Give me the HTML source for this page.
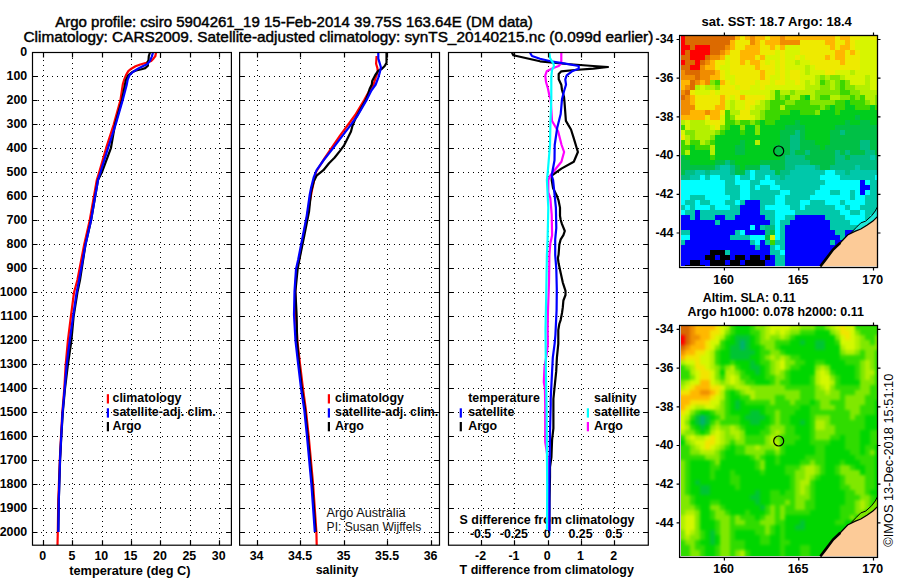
<!DOCTYPE html><html><head><meta charset="utf-8"><style>html,body{margin:0;padding:0;background:#fff;overflow:hidden;}svg{display:block;}text{font-family:'Liberation Sans', sans-serif;}</style></head><body>
<svg width="900" height="580" viewBox="0 0 900 580">
<rect width="900" height="580" fill="#fff"/>
<text x="55.2" y="26.8" font-size="15" text-anchor="start" font-weight="normal" fill="#000" stroke="#000" stroke-width="0.45" textLength="477.6" lengthAdjust="spacingAndGlyphs">Argo profile: csiro 5904261_19 15-Feb-2014 39.75S 163.64E (DM data)</text>
<text x="23.5" y="42.4" font-size="15" text-anchor="start" font-weight="normal" fill="#000" stroke="#000" stroke-width="0.45" textLength="629.8" lengthAdjust="spacingAndGlyphs">Climatology: CARS2009. Satellite-adjusted climatology: synTS_20140215.nc (0.099d earlier)</text>
<path d="M32 76.5H231.4" stroke="#000" stroke-width="1" stroke-dasharray="1 4" stroke-dashoffset="0" fill="none"/>
<path d="M32 100.5H231.4" stroke="#000" stroke-width="1" stroke-dasharray="1 4" stroke-dashoffset="4" fill="none"/>
<path d="M32 124.5H231.4" stroke="#000" stroke-width="1" stroke-dasharray="1 4" stroke-dashoffset="3" fill="none"/>
<path d="M32 148.5H231.4" stroke="#000" stroke-width="1" stroke-dasharray="1 4" stroke-dashoffset="2" fill="none"/>
<path d="M32 172.5H231.4" stroke="#000" stroke-width="1" stroke-dasharray="1 4" stroke-dashoffset="1" fill="none"/>
<path d="M32 196.5H231.4" stroke="#000" stroke-width="1" stroke-dasharray="1 4" stroke-dashoffset="0" fill="none"/>
<path d="M32 220.5H231.4" stroke="#000" stroke-width="1" stroke-dasharray="1 4" stroke-dashoffset="4" fill="none"/>
<path d="M32 244.5H231.4" stroke="#000" stroke-width="1" stroke-dasharray="1 4" stroke-dashoffset="3" fill="none"/>
<path d="M32 268.5H231.4" stroke="#000" stroke-width="1" stroke-dasharray="1 4" stroke-dashoffset="2" fill="none"/>
<path d="M32 292.5H231.4" stroke="#000" stroke-width="1" stroke-dasharray="1 4" stroke-dashoffset="1" fill="none"/>
<path d="M32 316.5H231.4" stroke="#000" stroke-width="1" stroke-dasharray="1 4" stroke-dashoffset="0" fill="none"/>
<path d="M32 340.5H231.4" stroke="#000" stroke-width="1" stroke-dasharray="1 4" stroke-dashoffset="4" fill="none"/>
<path d="M32 364.5H231.4" stroke="#000" stroke-width="1" stroke-dasharray="1 4" stroke-dashoffset="3" fill="none"/>
<path d="M32 388.5H231.4" stroke="#000" stroke-width="1" stroke-dasharray="1 4" stroke-dashoffset="2" fill="none"/>
<path d="M32 412.5H231.4" stroke="#000" stroke-width="1" stroke-dasharray="1 4" stroke-dashoffset="1" fill="none"/>
<path d="M32 436.5H231.4" stroke="#000" stroke-width="1" stroke-dasharray="1 4" stroke-dashoffset="0" fill="none"/>
<path d="M32 460.5H231.4" stroke="#000" stroke-width="1" stroke-dasharray="1 4" stroke-dashoffset="4" fill="none"/>
<path d="M32 484.5H231.4" stroke="#000" stroke-width="1" stroke-dasharray="1 4" stroke-dashoffset="3" fill="none"/>
<path d="M32 508.5H231.4" stroke="#000" stroke-width="1" stroke-dasharray="1 4" stroke-dashoffset="2" fill="none"/>
<path d="M32 532.5H231.4" stroke="#000" stroke-width="1" stroke-dasharray="1 4" stroke-dashoffset="1" fill="none"/>
<path d="M43.5 53V545.2" stroke="#000" stroke-width="1" stroke-dasharray="1 4" stroke-dashoffset="3" fill="none"/>
<path d="M72.5 53V545.2" stroke="#000" stroke-width="1" stroke-dasharray="1 4" stroke-dashoffset="0" fill="none"/>
<path d="M102.5 53V545.2" stroke="#000" stroke-width="1" stroke-dasharray="1 4" stroke-dashoffset="2" fill="none"/>
<path d="M131.5 53V545.2" stroke="#000" stroke-width="1" stroke-dasharray="1 4" stroke-dashoffset="4" fill="none"/>
<path d="M160.5 53V545.2" stroke="#000" stroke-width="1" stroke-dasharray="1 4" stroke-dashoffset="1" fill="none"/>
<path d="M190.5 53V545.2" stroke="#000" stroke-width="1" stroke-dasharray="1 4" stroke-dashoffset="3" fill="none"/>
<path d="M219.5 53V545.2" stroke="#000" stroke-width="1" stroke-dasharray="1 4" stroke-dashoffset="0" fill="none"/>
<path d="M239 76.5H439.5" stroke="#000" stroke-width="1" stroke-dasharray="1 4" stroke-dashoffset="0" fill="none"/>
<path d="M239 100.5H439.5" stroke="#000" stroke-width="1" stroke-dasharray="1 4" stroke-dashoffset="0" fill="none"/>
<path d="M239 124.5H439.5" stroke="#000" stroke-width="1" stroke-dasharray="1 4" stroke-dashoffset="0" fill="none"/>
<path d="M239 148.5H439.5" stroke="#000" stroke-width="1" stroke-dasharray="1 4" stroke-dashoffset="0" fill="none"/>
<path d="M239 172.5H439.5" stroke="#000" stroke-width="1" stroke-dasharray="1 4" stroke-dashoffset="0" fill="none"/>
<path d="M239 196.5H439.5" stroke="#000" stroke-width="1" stroke-dasharray="1 4" stroke-dashoffset="0" fill="none"/>
<path d="M239 220.5H439.5" stroke="#000" stroke-width="1" stroke-dasharray="1 4" stroke-dashoffset="0" fill="none"/>
<path d="M239 244.5H439.5" stroke="#000" stroke-width="1" stroke-dasharray="1 4" stroke-dashoffset="0" fill="none"/>
<path d="M239 268.5H439.5" stroke="#000" stroke-width="1" stroke-dasharray="1 4" stroke-dashoffset="0" fill="none"/>
<path d="M239 292.5H439.5" stroke="#000" stroke-width="1" stroke-dasharray="1 4" stroke-dashoffset="0" fill="none"/>
<path d="M239 316.5H439.5" stroke="#000" stroke-width="1" stroke-dasharray="1 4" stroke-dashoffset="0" fill="none"/>
<path d="M239 340.5H439.5" stroke="#000" stroke-width="1" stroke-dasharray="1 4" stroke-dashoffset="0" fill="none"/>
<path d="M239 364.5H439.5" stroke="#000" stroke-width="1" stroke-dasharray="1 4" stroke-dashoffset="0" fill="none"/>
<path d="M239 388.5H439.5" stroke="#000" stroke-width="1" stroke-dasharray="1 4" stroke-dashoffset="0" fill="none"/>
<path d="M239 412.5H439.5" stroke="#000" stroke-width="1" stroke-dasharray="1 4" stroke-dashoffset="0" fill="none"/>
<path d="M239 436.5H439.5" stroke="#000" stroke-width="1" stroke-dasharray="1 4" stroke-dashoffset="0" fill="none"/>
<path d="M239 460.5H439.5" stroke="#000" stroke-width="1" stroke-dasharray="1 4" stroke-dashoffset="0" fill="none"/>
<path d="M239 484.5H439.5" stroke="#000" stroke-width="1" stroke-dasharray="1 4" stroke-dashoffset="0" fill="none"/>
<path d="M239 508.5H439.5" stroke="#000" stroke-width="1" stroke-dasharray="1 4" stroke-dashoffset="0" fill="none"/>
<path d="M239 532.5H439.5" stroke="#000" stroke-width="1" stroke-dasharray="1 4" stroke-dashoffset="0" fill="none"/>
<path d="M257.5 53V545.2" stroke="#000" stroke-width="1" stroke-dasharray="1 4" stroke-dashoffset="3" fill="none"/>
<path d="M300.5 53V545.2" stroke="#000" stroke-width="1" stroke-dasharray="1 4" stroke-dashoffset="0" fill="none"/>
<path d="M344.5 53V545.2" stroke="#000" stroke-width="1" stroke-dasharray="1 4" stroke-dashoffset="2" fill="none"/>
<path d="M387.5 53V545.2" stroke="#000" stroke-width="1" stroke-dasharray="1 4" stroke-dashoffset="4" fill="none"/>
<path d="M431.5 53V545.2" stroke="#000" stroke-width="1" stroke-dasharray="1 4" stroke-dashoffset="1" fill="none"/>
<path d="M448 76.5H648.3" stroke="#000" stroke-width="1" stroke-dasharray="1 4" stroke-dashoffset="0" fill="none"/>
<path d="M448 100.5H648.3" stroke="#000" stroke-width="1" stroke-dasharray="1 4" stroke-dashoffset="0" fill="none"/>
<path d="M448 124.5H648.3" stroke="#000" stroke-width="1" stroke-dasharray="1 4" stroke-dashoffset="0" fill="none"/>
<path d="M448 148.5H648.3" stroke="#000" stroke-width="1" stroke-dasharray="1 4" stroke-dashoffset="0" fill="none"/>
<path d="M448 172.5H648.3" stroke="#000" stroke-width="1" stroke-dasharray="1 4" stroke-dashoffset="0" fill="none"/>
<path d="M448 196.5H648.3" stroke="#000" stroke-width="1" stroke-dasharray="1 4" stroke-dashoffset="0" fill="none"/>
<path d="M448 220.5H648.3" stroke="#000" stroke-width="1" stroke-dasharray="1 4" stroke-dashoffset="0" fill="none"/>
<path d="M448 244.5H648.3" stroke="#000" stroke-width="1" stroke-dasharray="1 4" stroke-dashoffset="0" fill="none"/>
<path d="M448 268.5H648.3" stroke="#000" stroke-width="1" stroke-dasharray="1 4" stroke-dashoffset="0" fill="none"/>
<path d="M448 292.5H648.3" stroke="#000" stroke-width="1" stroke-dasharray="1 4" stroke-dashoffset="0" fill="none"/>
<path d="M448 316.5H648.3" stroke="#000" stroke-width="1" stroke-dasharray="1 4" stroke-dashoffset="0" fill="none"/>
<path d="M448 340.5H648.3" stroke="#000" stroke-width="1" stroke-dasharray="1 4" stroke-dashoffset="0" fill="none"/>
<path d="M448 364.5H648.3" stroke="#000" stroke-width="1" stroke-dasharray="1 4" stroke-dashoffset="0" fill="none"/>
<path d="M448 388.5H648.3" stroke="#000" stroke-width="1" stroke-dasharray="1 4" stroke-dashoffset="0" fill="none"/>
<path d="M448 412.5H648.3" stroke="#000" stroke-width="1" stroke-dasharray="1 4" stroke-dashoffset="0" fill="none"/>
<path d="M448 436.5H648.3" stroke="#000" stroke-width="1" stroke-dasharray="1 4" stroke-dashoffset="0" fill="none"/>
<path d="M448 460.5H648.3" stroke="#000" stroke-width="1" stroke-dasharray="1 4" stroke-dashoffset="0" fill="none"/>
<path d="M448 484.5H648.3" stroke="#000" stroke-width="1" stroke-dasharray="1 4" stroke-dashoffset="0" fill="none"/>
<path d="M448 508.5H648.3" stroke="#000" stroke-width="1" stroke-dasharray="1 4" stroke-dashoffset="0" fill="none"/>
<path d="M448 532.5H648.3" stroke="#000" stroke-width="1" stroke-dasharray="1 4" stroke-dashoffset="0" fill="none"/>
<path d="M481.5 53V545.2" stroke="#000" stroke-width="1" stroke-dasharray="1 4" stroke-dashoffset="3" fill="none"/>
<path d="M514.5 53V545.2" stroke="#000" stroke-width="1" stroke-dasharray="1 4" stroke-dashoffset="0" fill="none"/>
<path d="M548.5 53V545.2" stroke="#000" stroke-width="1" stroke-dasharray="1 4" stroke-dashoffset="2" fill="none"/>
<path d="M581.5 53V545.2" stroke="#000" stroke-width="1" stroke-dasharray="1 4" stroke-dashoffset="4" fill="none"/>
<path d="M614.5 53V545.2" stroke="#000" stroke-width="1" stroke-dasharray="1 4" stroke-dashoffset="1" fill="none"/>
<text x="459.6" y="523.7" font-size="12.4" text-anchor="start" font-weight="bold" fill="#000" textLength="174.8" lengthAdjust="spacingAndGlyphs">S difference from climatology</text>
<text x="480.6" y="537.7" font-size="12.4" text-anchor="middle" font-weight="bold" fill="#000" >-0.5</text>
<text x="513.9" y="537.7" font-size="12.4" text-anchor="middle" font-weight="bold" fill="#000" >-0.25</text>
<text x="547.2" y="537.7" font-size="12.4" text-anchor="middle" font-weight="bold" fill="#000" >0</text>
<text x="580.5" y="537.7" font-size="12.4" text-anchor="middle" font-weight="bold" fill="#000" >0.25</text>
<text x="613.8" y="537.7" font-size="12.4" text-anchor="middle" font-weight="bold" fill="#000" >0.5</text>
<polyline points="156.0,52.5 155.4,56.0 153.6,58.4 151.2,60.9 146.4,62.7 140.3,64.5 135.5,66.3 131.3,68.7 128.3,71.1 125.9,75.3 124.0,80.2 122.8,84.4 120.4,100.4 113.7,124.6 106.1,148.2 99.1,172.5 96.8,180.0 89.7,220.5 84.2,244.5 77.4,280.0 74.0,292.5 70.9,316.5 67.9,340.5 65.7,364.5 64.3,388.5 62.3,412.5 61.0,436.5 59.8,460.0 58.3,500.0 57.8,532.0 57.5,545.0" stroke="#f00" stroke-width="2.2" fill="none" stroke-linejoin="round"/>
<polyline points="150.0,52.5 148.8,56.0 148.5,60.3 147.6,62.1 147.9,65.7 145.2,68.1 141.5,69.3 136.1,70.5 131.9,72.3 128.3,75.3 125.9,80.2 125.0,84.4 121.9,100.4 115.0,124.6 110.9,148.2 101.8,172.5 98.0,180.0 91.0,220.5 85.5,244.5 80.0,280.0 77.4,292.5 73.6,316.5 71.4,340.5 67.9,364.5 65.0,388.5 62.8,412.5 61.3,436.5 60.1,460.0 58.8,500.0 58.3,532.0" stroke="#000" stroke-width="2.2" fill="none" stroke-linejoin="round"/>
<polyline points="153.0,52.5 151.8,56.6 150.0,60.9 147.6,63.9 142.7,66.3 137.9,68.7 133.1,71.7 129.5,75.3 127.7,79.6 126.8,84.4 122.6,100.4 115.6,124.6 108.0,148.2 100.4,172.5 98.0,180.0 91.0,220.5 85.5,244.5 79.1,280.0 76.6,292.5 73.1,316.5 69.7,340.5 66.7,364.5 64.7,388.5 62.6,412.5 61.2,436.5 60.0,460.0 58.8,500.0 58.3,532.0" stroke="#00f" stroke-width="2.2" fill="none" stroke-linejoin="round"/>
<polyline points="376.6,56.0 376.1,63.8 377.4,68.1 377.8,71.6 375.7,77.6 373.5,84.5 370.5,88.8 367.1,94.8 364.5,99.6 355.2,115.0 340.0,135.7 324.8,157.8 316.0,172.0 312.0,190.0 307.0,216.6 299.0,260.0 296.5,269.3 295.2,291.4 295.9,314.8 297.4,341.0 299.9,363.0 302.9,388.0 305.9,410.0 308.7,436.3 313.1,484.2 316.4,532.0 316.7,545.0" stroke="#f00" stroke-width="2.2" fill="none" stroke-linejoin="round"/>
<polyline points="386.5,52.5 386.5,62.9 384.7,66.0 381.7,69.0 378.3,70.7 375.3,75.0 372.2,81.0 371.8,84.5 369.7,88.8 368.4,93.1 366.2,99.1 355.2,119.1 352.4,126.0 351.0,131.6 346.9,139.8 344.1,145.3 340.0,150.9 334.5,157.8 329.0,163.3 323.4,170.2 316.6,175.7 313.8,181.2 311.0,192.2 309.0,211.8 304.2,236.0 299.3,260.0 297.6,269.3 295.4,291.4 296.6,314.8 297.1,341.0 299.0,363.0 301.8,388.0 305.1,410.0 307.8,436.3 312.2,484.2 315.6,532.0" stroke="#000" stroke-width="2.2" fill="none" stroke-linejoin="round"/>
<polyline points="378.3,52.5 378.3,58.6 379.6,62.9 380.9,67.2 380.0,71.6 378.3,77.6 375.7,84.5 371.4,90.5 367.1,99.1 357.9,115.0 351.0,124.7 341.4,137.1 333.1,148.1 323.4,160.5 316.6,170.2 313.8,177.1 311.0,188.1 309.7,195.0 306.6,216.6 298.1,260.0 296.0,269.3 294.5,291.4 294.0,314.8 295.5,341.0 298.0,363.0 301.0,388.0 304.3,410.0 307.0,436.3 311.4,484.2 314.8,532.0" stroke="#00f" stroke-width="2.2" fill="none" stroke-linejoin="round"/>
<polyline points="512.0,52.7 513.3,55.3 540.0,61.3 566.7,64.0 593.3,66.0 608.0,67.0 593.3,68.7 574.7,70.0 561.3,71.3 558.7,74.0 558.7,79.3 561.3,84.7 562.0,90.0 564.0,96.7 564.5,102.0 565.9,120.9 571.0,129.5 573.8,138.3 577.9,152.0 573.8,161.7 561.4,168.6 551.7,175.5 551.7,180.0 553.1,188.3 556.6,195.2 558.6,200.7 560.0,207.6 560.0,215.9 560.7,220.0 562.0,224.1 564.8,231.0 563.4,235.2 560.7,239.3 559.3,244.8 558.6,254.5 557.9,258.0 558.6,263.3 560.7,272.9 562.8,282.6 565.5,290.9 565.5,295.0 563.4,300.5 562.8,307.4 562.0,313.0 560.7,319.8 559.3,324.0 558.3,330.0 558.3,343.8 556.9,357.6 556.2,371.4 554.8,385.2 553.4,399.0 553.4,428.4 552.1,439.5 551.4,457.4 550.0,467.0 550.0,477.0 549.5,500.0 549.2,531.0" stroke="#000" stroke-width="2.2" fill="none" stroke-linejoin="round"/>
<polyline points="561.3,52.7 561.3,63.3 558.7,66.0 553.3,68.0 546.7,71.3 545.3,75.3 546.0,82.0 548.0,88.7 549.3,95.3 550.7,99.3 552.0,120.9 558.1,131.2 561.6,145.0 564.1,152.0 561.4,161.7 550.3,175.5 548.3,180.0 548.3,192.4 550.3,197.9 551.7,214.5 552.1,235.2 550.3,243.4 549.4,255.0 549.0,282.6 548.0,310.0 547.7,330.0 547.9,343.8 546.8,353.4 544.5,367.2 543.8,382.4 544.9,388.0 545.2,405.0 545.2,442.0 547.9,459.0 547.9,479.0 548.3,530.0" stroke="#f0f" stroke-width="2.2" fill="none" stroke-linejoin="round"/>
<polyline points="530.0,52.7 532.0,56.0 540.0,58.7 550.7,61.3 564.0,63.3 578.7,66.0 578.7,68.7 572.0,71.3 566.7,75.3 565.3,79.3 566.0,84.7 564.0,91.3 562.0,99.3 560.7,114.0 557.2,127.8 554.7,145.0 554.5,160.3 551.7,175.5 553.1,180.0 554.5,193.8 555.9,207.6 556.3,228.0 555.2,239.3 555.2,255.0 556.3,268.8 556.8,289.5 556.6,310.0 555.4,335.0 554.6,343.8 552.8,357.6 552.1,371.4 551.4,385.2 550.7,399.0 550.7,405.0 550.0,432.6 549.7,460.0 549.3,485.0 549.5,531.0" stroke="#00f" stroke-width="2.2" fill="none" stroke-linejoin="round"/>
<polyline points="549.3,52.7 550.0,58.0 553.3,63.3 554.0,66.0 552.0,70.0 551.3,76.7 551.3,90.0 551.3,99.3 550.5,120.0 550.0,145.0 547.6,174.0 546.9,180.0 548.3,207.6 547.6,239.3 546.9,255.0 546.2,296.4 545.5,330.0 545.9,371.4 546.6,410.0 547.2,485.0 547.0,530.0" stroke="#0ff" stroke-width="2.2" fill="none" stroke-linejoin="round"/>
<path d="M32.5 52.50h5M231.4 52.50h-5 M32.5 76.50h5M231.4 76.50h-5 M32.5 100.50h5M231.4 100.50h-5 M32.5 124.50h5M231.4 124.50h-5 M32.5 148.50h5M231.4 148.50h-5 M32.5 172.50h5M231.4 172.50h-5 M32.5 196.50h5M231.4 196.50h-5 M32.5 220.50h5M231.4 220.50h-5 M32.5 244.50h5M231.4 244.50h-5 M32.5 268.50h5M231.4 268.50h-5 M32.5 292.50h5M231.4 292.50h-5 M32.5 316.50h5M231.4 316.50h-5 M32.5 340.50h5M231.4 340.50h-5 M32.5 364.50h5M231.4 364.50h-5 M32.5 388.50h5M231.4 388.50h-5 M32.5 412.50h5M231.4 412.50h-5 M32.5 436.50h5M231.4 436.50h-5 M32.5 460.50h5M231.4 460.50h-5 M32.5 484.50h5M231.4 484.50h-5 M32.5 508.50h5M231.4 508.50h-5 M32.5 532.50h5M231.4 532.50h-5 M43.50 52.5v5M43.50 545.2v-5 M72.50 52.5v5M72.50 545.2v-5 M102.50 52.5v5M102.50 545.2v-5 M131.50 52.5v5M131.50 545.2v-5 M160.50 52.5v5M160.50 545.2v-5 M190.50 52.5v5M190.50 545.2v-5 M219.50 52.5v5M219.50 545.2v-5" stroke="#000" stroke-width="1.2" fill="none"/>
<rect x="32.5" y="52.5" width="198.9" height="492.7" stroke="#000" stroke-width="1.2" fill="none"/>
<text x="42.6" y="559.8" font-size="12.4" text-anchor="middle" font-weight="bold" fill="#000" >0</text>
<text x="72.0" y="559.8" font-size="12.4" text-anchor="middle" font-weight="bold" fill="#000" >5</text>
<text x="101.3" y="559.8" font-size="12.4" text-anchor="middle" font-weight="bold" fill="#000" >10</text>
<text x="130.6" y="559.8" font-size="12.4" text-anchor="middle" font-weight="bold" fill="#000" >15</text>
<text x="160.0" y="559.8" font-size="12.4" text-anchor="middle" font-weight="bold" fill="#000" >20</text>
<text x="189.3" y="559.8" font-size="12.4" text-anchor="middle" font-weight="bold" fill="#000" >25</text>
<text x="218.7" y="559.8" font-size="12.4" text-anchor="middle" font-weight="bold" fill="#000" >30</text>
<path d="M239.6 52.50h5M439.5 52.50h-5 M239.6 76.50h5M439.5 76.50h-5 M239.6 100.50h5M439.5 100.50h-5 M239.6 124.50h5M439.5 124.50h-5 M239.6 148.50h5M439.5 148.50h-5 M239.6 172.50h5M439.5 172.50h-5 M239.6 196.50h5M439.5 196.50h-5 M239.6 220.50h5M439.5 220.50h-5 M239.6 244.50h5M439.5 244.50h-5 M239.6 268.50h5M439.5 268.50h-5 M239.6 292.50h5M439.5 292.50h-5 M239.6 316.50h5M439.5 316.50h-5 M239.6 340.50h5M439.5 340.50h-5 M239.6 364.50h5M439.5 364.50h-5 M239.6 388.50h5M439.5 388.50h-5 M239.6 412.50h5M439.5 412.50h-5 M239.6 436.50h5M439.5 436.50h-5 M239.6 460.50h5M439.5 460.50h-5 M239.6 484.50h5M439.5 484.50h-5 M239.6 508.50h5M439.5 508.50h-5 M239.6 532.50h5M439.5 532.50h-5 M257.50 52.5v5M257.50 545.2v-5 M300.50 52.5v5M300.50 545.2v-5 M344.50 52.5v5M344.50 545.2v-5 M387.50 52.5v5M387.50 545.2v-5 M431.50 52.5v5M431.50 545.2v-5" stroke="#000" stroke-width="1.2" fill="none"/>
<rect x="239.6" y="52.5" width="199.9" height="492.7" stroke="#000" stroke-width="1.2" fill="none"/>
<text x="256.6" y="559.8" font-size="12.4" text-anchor="middle" font-weight="bold" fill="#000" >34</text>
<text x="300.1" y="559.8" font-size="12.4" text-anchor="middle" font-weight="bold" fill="#000" >34.5</text>
<text x="343.6" y="559.8" font-size="12.4" text-anchor="middle" font-weight="bold" fill="#000" >35</text>
<text x="387.1" y="559.8" font-size="12.4" text-anchor="middle" font-weight="bold" fill="#000" >35.5</text>
<text x="430.6" y="559.8" font-size="12.4" text-anchor="middle" font-weight="bold" fill="#000" >36</text>
<path d="M448.5 52.50h5M648.3 52.50h-5 M448.5 76.50h5M648.3 76.50h-5 M448.5 100.50h5M648.3 100.50h-5 M448.5 124.50h5M648.3 124.50h-5 M448.5 148.50h5M648.3 148.50h-5 M448.5 172.50h5M648.3 172.50h-5 M448.5 196.50h5M648.3 196.50h-5 M448.5 220.50h5M648.3 220.50h-5 M448.5 244.50h5M648.3 244.50h-5 M448.5 268.50h5M648.3 268.50h-5 M448.5 292.50h5M648.3 292.50h-5 M448.5 316.50h5M648.3 316.50h-5 M448.5 340.50h5M648.3 340.50h-5 M448.5 364.50h5M648.3 364.50h-5 M448.5 388.50h5M648.3 388.50h-5 M448.5 412.50h5M648.3 412.50h-5 M448.5 436.50h5M648.3 436.50h-5 M448.5 460.50h5M648.3 460.50h-5 M448.5 484.50h5M648.3 484.50h-5 M448.5 508.50h5M648.3 508.50h-5 M448.5 532.50h5M648.3 532.50h-5 M481.50 52.5v5M481.50 545.2v-5 M514.50 52.5v5M514.50 545.2v-5 M548.50 52.5v5M548.50 545.2v-5 M581.50 52.5v5M581.50 545.2v-5 M614.50 52.5v5M614.50 545.2v-5" stroke="#000" stroke-width="1.2" fill="none"/>
<rect x="448.5" y="52.5" width="199.8" height="492.7" stroke="#000" stroke-width="1.2" fill="none"/>
<text x="480.6" y="559.8" font-size="12.4" text-anchor="middle" font-weight="bold" fill="#000" >-2</text>
<text x="513.9" y="559.8" font-size="12.4" text-anchor="middle" font-weight="bold" fill="#000" >-1</text>
<text x="547.2" y="559.8" font-size="12.4" text-anchor="middle" font-weight="bold" fill="#000" >0</text>
<text x="580.5" y="559.8" font-size="12.4" text-anchor="middle" font-weight="bold" fill="#000" >1</text>
<text x="613.8" y="559.8" font-size="12.4" text-anchor="middle" font-weight="bold" fill="#000" >2</text>
<text x="27.2" y="56.2" font-size="12.4" text-anchor="end" font-weight="bold" fill="#000" >0</text>
<text x="27.2" y="80.2" font-size="12.4" text-anchor="end" font-weight="bold" fill="#000" >100</text>
<text x="27.2" y="104.2" font-size="12.4" text-anchor="end" font-weight="bold" fill="#000" >200</text>
<text x="27.2" y="128.2" font-size="12.4" text-anchor="end" font-weight="bold" fill="#000" >300</text>
<text x="27.2" y="152.2" font-size="12.4" text-anchor="end" font-weight="bold" fill="#000" >400</text>
<text x="27.2" y="176.2" font-size="12.4" text-anchor="end" font-weight="bold" fill="#000" >500</text>
<text x="27.2" y="200.2" font-size="12.4" text-anchor="end" font-weight="bold" fill="#000" >600</text>
<text x="27.2" y="224.2" font-size="12.4" text-anchor="end" font-weight="bold" fill="#000" >700</text>
<text x="27.2" y="248.2" font-size="12.4" text-anchor="end" font-weight="bold" fill="#000" >800</text>
<text x="27.2" y="272.2" font-size="12.4" text-anchor="end" font-weight="bold" fill="#000" >900</text>
<text x="27.2" y="296.2" font-size="12.4" text-anchor="end" font-weight="bold" fill="#000" >1000</text>
<text x="27.2" y="320.2" font-size="12.4" text-anchor="end" font-weight="bold" fill="#000" >1100</text>
<text x="27.2" y="344.2" font-size="12.4" text-anchor="end" font-weight="bold" fill="#000" >1200</text>
<text x="27.2" y="368.2" font-size="12.4" text-anchor="end" font-weight="bold" fill="#000" >1300</text>
<text x="27.2" y="392.2" font-size="12.4" text-anchor="end" font-weight="bold" fill="#000" >1400</text>
<text x="27.2" y="416.2" font-size="12.4" text-anchor="end" font-weight="bold" fill="#000" >1500</text>
<text x="27.2" y="440.2" font-size="12.4" text-anchor="end" font-weight="bold" fill="#000" >1600</text>
<text x="27.2" y="464.2" font-size="12.4" text-anchor="end" font-weight="bold" fill="#000" >1700</text>
<text x="27.2" y="488.2" font-size="12.4" text-anchor="end" font-weight="bold" fill="#000" >1800</text>
<text x="27.2" y="512.2" font-size="12.4" text-anchor="end" font-weight="bold" fill="#000" >1900</text>
<text x="27.2" y="536.2" font-size="12.4" text-anchor="end" font-weight="bold" fill="#000" >2000</text>
<text x="69.2" y="574.5" font-size="12.4" text-anchor="start" font-weight="bold" fill="#000" textLength="121.3" lengthAdjust="spacingAndGlyphs">temperature (deg C)</text>
<text x="337.0" y="574.3" font-size="12.4" text-anchor="middle" font-weight="bold" fill="#000" >salinity</text>
<text x="459.6" y="574.4" font-size="12.4" text-anchor="start" font-weight="bold" fill="#000" textLength="174.3" lengthAdjust="spacingAndGlyphs">T difference from climatology</text>
<rect x="106.8" y="394.2" width="2.2" height="9.3" fill="#f00"/>
<text x="112.5" y="401.7" font-size="12.4" text-anchor="start" font-weight="bold" fill="#000" >climatology</text>
<rect x="106.8" y="408.3" width="2.2" height="9.3" fill="#00f"/>
<text x="112.5" y="415.8" font-size="12.4" text-anchor="start" font-weight="bold" fill="#000" >satellite-adj. clim.</text>
<rect x="106.8" y="422.0" width="2.2" height="9.3" fill="#000"/>
<text x="112.5" y="429.5" font-size="12.4" text-anchor="start" font-weight="bold" fill="#000" >Argo</text>
<rect x="327.8" y="394.2" width="2.2" height="9.3" fill="#f00"/>
<text x="335.0" y="401.7" font-size="12.4" text-anchor="start" font-weight="bold" fill="#000" >climatology</text>
<rect x="327.8" y="408.3" width="2.2" height="9.3" fill="#00f"/>
<text x="335.0" y="415.8" font-size="12.4" text-anchor="start" font-weight="bold" fill="#000" >satellite-adj. clim.</text>
<rect x="327.8" y="422.0" width="2.2" height="9.3" fill="#000"/>
<text x="335.0" y="429.5" font-size="12.4" text-anchor="start" font-weight="bold" fill="#000" >Argo</text>
<text x="468.2" y="401.7" font-size="12.4" text-anchor="start" font-weight="bold" fill="#000" >temperature</text>
<rect x="459.7" y="408.3" width="2.2" height="9.3" fill="#00f"/>
<text x="468.2" y="415.8" font-size="12.4" text-anchor="start" font-weight="bold" fill="#000" >satellite</text>
<rect x="459.7" y="422.0" width="2.2" height="9.3" fill="#000"/>
<text x="468.2" y="429.5" font-size="12.4" text-anchor="start" font-weight="bold" fill="#000" >Argo</text>
<text x="594.0" y="401.7" font-size="12.4" text-anchor="start" font-weight="bold" fill="#000" >salinity</text>
<rect x="586.8" y="408.3" width="2.2" height="9.3" fill="#0ff"/>
<text x="594.0" y="415.8" font-size="12.4" text-anchor="start" font-weight="bold" fill="#000" >satellite</text>
<rect x="586.8" y="422.0" width="2.2" height="9.3" fill="#f0f"/>
<text x="594.0" y="429.5" font-size="12.4" text-anchor="start" font-weight="bold" fill="#000" >Argo</text>
<text x="326.6" y="516.6" font-size="12.4" text-anchor="start" font-weight="normal" fill="#111" textLength="78.9" lengthAdjust="spacingAndGlyphs">Argo Australia</text>
<text x="326.6" y="530.6" font-size="12.4" text-anchor="start" font-weight="normal" fill="#111" textLength="94.6" lengthAdjust="spacingAndGlyphs">PI: Susan Wijffels</text>
<clipPath id="cp_map1"><rect x="681" y="36" width="196" height="230"/></clipPath><g clip-path="url(#cp_map1)">
<rect x="680.00" y="35.00" width="5.30" height="5.30" fill="#ff0000"/>
<rect x="685.00" y="35.00" width="50.30" height="5.30" fill="#dc6a00"/>
<rect x="735.00" y="35.00" width="5.30" height="5.30" fill="#ffb600"/>
<rect x="740.00" y="35.00" width="5.30" height="5.30" fill="#eeea00"/>
<rect x="745.00" y="35.00" width="5.30" height="5.30" fill="#ffb600"/>
<rect x="750.00" y="35.00" width="5.30" height="5.30" fill="#f08c00"/>
<rect x="755.00" y="35.00" width="10.30" height="5.30" fill="#ffb600"/>
<rect x="765.00" y="35.00" width="5.30" height="5.30" fill="#eeea00"/>
<rect x="770.00" y="35.00" width="10.30" height="5.30" fill="#ffb600"/>
<rect x="780.00" y="35.00" width="5.30" height="5.30" fill="#f08c00"/>
<rect x="785.00" y="35.00" width="50.30" height="5.30" fill="#ffb600"/>
<rect x="835.00" y="35.00" width="5.30" height="5.30" fill="#eeea00"/>
<rect x="840.00" y="35.00" width="10.30" height="5.30" fill="#ffb600"/>
<rect x="850.00" y="35.00" width="10.30" height="5.30" fill="#eeea00"/>
<rect x="860.00" y="35.00" width="10.30" height="5.30" fill="#d7f500"/>
<rect x="870.00" y="35.00" width="10.30" height="5.30" fill="#eeea00"/>
<rect x="680.00" y="40.00" width="5.30" height="5.30" fill="#ff0000"/>
<rect x="685.00" y="40.00" width="45.30" height="5.30" fill="#dc6a00"/>
<rect x="730.00" y="40.00" width="5.30" height="5.30" fill="#ffb600"/>
<rect x="735.00" y="40.00" width="15.30" height="5.30" fill="#eeea00"/>
<rect x="750.00" y="40.00" width="5.30" height="5.30" fill="#f08c00"/>
<rect x="755.00" y="40.00" width="5.30" height="5.30" fill="#ffb600"/>
<rect x="760.00" y="40.00" width="5.30" height="5.30" fill="#eeea00"/>
<rect x="765.00" y="40.00" width="15.30" height="5.30" fill="#ffb600"/>
<rect x="780.00" y="40.00" width="20.30" height="5.30" fill="#f08c00"/>
<rect x="800.00" y="40.00" width="25.30" height="5.30" fill="#eeea00"/>
<rect x="825.00" y="40.00" width="10.30" height="5.30" fill="#ffb600"/>
<rect x="835.00" y="40.00" width="10.30" height="5.30" fill="#eeea00"/>
<rect x="845.00" y="40.00" width="5.30" height="5.30" fill="#ffb600"/>
<rect x="850.00" y="40.00" width="5.30" height="5.30" fill="#eeea00"/>
<rect x="855.00" y="40.00" width="25.30" height="5.30" fill="#d7f500"/>
<rect x="680.00" y="45.00" width="10.30" height="5.30" fill="#ff0000"/>
<rect x="690.00" y="45.00" width="5.30" height="5.30" fill="#dc6a00"/>
<rect x="695.00" y="45.00" width="15.30" height="5.30" fill="#ff0000"/>
<rect x="710.00" y="45.00" width="15.30" height="5.30" fill="#dc6a00"/>
<rect x="725.00" y="45.00" width="5.30" height="5.30" fill="#f08c00"/>
<rect x="730.00" y="45.00" width="5.30" height="5.30" fill="#ffb600"/>
<rect x="735.00" y="45.00" width="10.30" height="5.30" fill="#eeea00"/>
<rect x="745.00" y="45.00" width="15.30" height="5.30" fill="#ffb600"/>
<rect x="760.00" y="45.00" width="10.30" height="5.30" fill="#eeea00"/>
<rect x="770.00" y="45.00" width="5.30" height="5.30" fill="#ffb600"/>
<rect x="775.00" y="45.00" width="5.30" height="5.30" fill="#eeea00"/>
<rect x="780.00" y="45.00" width="5.30" height="5.30" fill="#ffb600"/>
<rect x="785.00" y="45.00" width="15.30" height="5.30" fill="#d7f500"/>
<rect x="800.00" y="45.00" width="30.30" height="5.30" fill="#eeea00"/>
<rect x="830.00" y="45.00" width="5.30" height="5.30" fill="#ffb600"/>
<rect x="835.00" y="45.00" width="5.30" height="5.30" fill="#eeea00"/>
<rect x="840.00" y="45.00" width="10.30" height="5.30" fill="#ffb600"/>
<rect x="850.00" y="45.00" width="5.30" height="5.30" fill="#eeea00"/>
<rect x="855.00" y="45.00" width="25.30" height="5.30" fill="#d7f500"/>
<rect x="680.00" y="50.00" width="5.30" height="5.30" fill="#ff0000"/>
<rect x="685.00" y="50.00" width="5.30" height="5.30" fill="#dc6a00"/>
<rect x="690.00" y="50.00" width="20.30" height="5.30" fill="#ff0000"/>
<rect x="710.00" y="50.00" width="10.30" height="5.30" fill="#dc6a00"/>
<rect x="720.00" y="50.00" width="5.30" height="5.30" fill="#f08c00"/>
<rect x="725.00" y="50.00" width="5.30" height="5.30" fill="#ffb600"/>
<rect x="730.00" y="50.00" width="10.30" height="5.30" fill="#eeea00"/>
<rect x="740.00" y="50.00" width="20.30" height="5.30" fill="#ffb600"/>
<rect x="760.00" y="50.00" width="15.30" height="5.30" fill="#eeea00"/>
<rect x="775.00" y="50.00" width="5.30" height="5.30" fill="#d7f500"/>
<rect x="780.00" y="50.00" width="5.30" height="5.30" fill="#eeea00"/>
<rect x="785.00" y="50.00" width="15.30" height="5.30" fill="#d7f500"/>
<rect x="800.00" y="50.00" width="35.30" height="5.30" fill="#eeea00"/>
<rect x="835.00" y="50.00" width="10.30" height="5.30" fill="#ffb600"/>
<rect x="845.00" y="50.00" width="5.30" height="5.30" fill="#eeea00"/>
<rect x="850.00" y="50.00" width="5.30" height="5.30" fill="#ffb600"/>
<rect x="855.00" y="50.00" width="5.30" height="5.30" fill="#eeea00"/>
<rect x="860.00" y="50.00" width="20.30" height="5.30" fill="#d7f500"/>
<rect x="680.00" y="55.00" width="10.30" height="5.30" fill="#dc6a00"/>
<rect x="690.00" y="55.00" width="15.30" height="5.30" fill="#ff0000"/>
<rect x="705.00" y="55.00" width="5.30" height="5.30" fill="#dc6a00"/>
<rect x="710.00" y="55.00" width="10.30" height="5.30" fill="#f08c00"/>
<rect x="720.00" y="55.00" width="5.30" height="5.30" fill="#ffb600"/>
<rect x="725.00" y="55.00" width="5.30" height="5.30" fill="#d7f500"/>
<rect x="730.00" y="55.00" width="10.30" height="5.30" fill="#eeea00"/>
<rect x="740.00" y="55.00" width="15.30" height="5.30" fill="#ffb600"/>
<rect x="755.00" y="55.00" width="5.30" height="5.30" fill="#eeea00"/>
<rect x="760.00" y="55.00" width="5.30" height="5.30" fill="#ffb600"/>
<rect x="765.00" y="55.00" width="15.30" height="5.30" fill="#d7f500"/>
<rect x="780.00" y="55.00" width="5.30" height="5.30" fill="#eeea00"/>
<rect x="785.00" y="55.00" width="10.30" height="5.30" fill="#d7f500"/>
<rect x="795.00" y="55.00" width="5.30" height="5.30" fill="#eeea00"/>
<rect x="800.00" y="55.00" width="5.30" height="5.30" fill="#d7f500"/>
<rect x="805.00" y="55.00" width="20.30" height="5.30" fill="#eeea00"/>
<rect x="825.00" y="55.00" width="5.30" height="5.30" fill="#ffb600"/>
<rect x="830.00" y="55.00" width="5.30" height="5.30" fill="#eeea00"/>
<rect x="835.00" y="55.00" width="10.30" height="5.30" fill="#ffb600"/>
<rect x="845.00" y="55.00" width="15.30" height="5.30" fill="#eeea00"/>
<rect x="860.00" y="55.00" width="20.30" height="5.30" fill="#d7f500"/>
<rect x="680.00" y="60.00" width="5.30" height="5.30" fill="#ff0000"/>
<rect x="685.00" y="60.00" width="10.30" height="5.30" fill="#dc6a00"/>
<rect x="695.00" y="60.00" width="5.30" height="5.30" fill="#ff0000"/>
<rect x="700.00" y="60.00" width="5.30" height="5.30" fill="#dc6a00"/>
<rect x="705.00" y="60.00" width="5.30" height="5.30" fill="#f08c00"/>
<rect x="710.00" y="60.00" width="5.30" height="5.30" fill="#ffb600"/>
<rect x="715.00" y="60.00" width="10.30" height="5.30" fill="#eeea00"/>
<rect x="725.00" y="60.00" width="5.30" height="5.30" fill="#d7f500"/>
<rect x="730.00" y="60.00" width="10.30" height="5.30" fill="#eeea00"/>
<rect x="740.00" y="60.00" width="5.30" height="5.30" fill="#ffb600"/>
<rect x="745.00" y="60.00" width="5.30" height="5.30" fill="#eeea00"/>
<rect x="750.00" y="60.00" width="10.30" height="5.30" fill="#ffb600"/>
<rect x="760.00" y="60.00" width="5.30" height="5.30" fill="#eeea00"/>
<rect x="765.00" y="60.00" width="5.30" height="5.30" fill="#d7f500"/>
<rect x="770.00" y="60.00" width="5.30" height="5.30" fill="#eeea00"/>
<rect x="775.00" y="60.00" width="5.30" height="5.30" fill="#d7f500"/>
<rect x="780.00" y="60.00" width="5.30" height="5.30" fill="#eeea00"/>
<rect x="785.00" y="60.00" width="10.30" height="5.30" fill="#d7f500"/>
<rect x="795.00" y="60.00" width="5.30" height="5.30" fill="#b4f000"/>
<rect x="800.00" y="60.00" width="10.30" height="5.30" fill="#d7f500"/>
<rect x="810.00" y="60.00" width="30.30" height="5.30" fill="#eeea00"/>
<rect x="840.00" y="60.00" width="5.30" height="5.30" fill="#ffb600"/>
<rect x="845.00" y="60.00" width="15.30" height="5.30" fill="#eeea00"/>
<rect x="860.00" y="60.00" width="20.30" height="5.30" fill="#d7f500"/>
<rect x="680.00" y="65.00" width="10.30" height="5.30" fill="#dc6a00"/>
<rect x="690.00" y="65.00" width="10.30" height="5.30" fill="#ff0000"/>
<rect x="700.00" y="65.00" width="5.30" height="5.30" fill="#f08c00"/>
<rect x="705.00" y="65.00" width="10.30" height="5.30" fill="#ffb600"/>
<rect x="715.00" y="65.00" width="5.30" height="5.30" fill="#eeea00"/>
<rect x="720.00" y="65.00" width="10.30" height="5.30" fill="#d7f500"/>
<rect x="730.00" y="65.00" width="25.30" height="5.30" fill="#eeea00"/>
<rect x="755.00" y="65.00" width="5.30" height="5.30" fill="#ffb600"/>
<rect x="760.00" y="65.00" width="15.30" height="5.30" fill="#eeea00"/>
<rect x="775.00" y="65.00" width="5.30" height="5.30" fill="#d7f500"/>
<rect x="780.00" y="65.00" width="5.30" height="5.30" fill="#eeea00"/>
<rect x="785.00" y="65.00" width="20.30" height="5.30" fill="#d7f500"/>
<rect x="805.00" y="65.00" width="5.30" height="5.30" fill="#b4f000"/>
<rect x="810.00" y="65.00" width="5.30" height="5.30" fill="#d7f500"/>
<rect x="815.00" y="65.00" width="45.30" height="5.30" fill="#eeea00"/>
<rect x="860.00" y="65.00" width="20.30" height="5.30" fill="#d7f500"/>
<rect x="680.00" y="70.00" width="5.30" height="5.30" fill="#f08c00"/>
<rect x="685.00" y="70.00" width="15.30" height="5.30" fill="#dc6a00"/>
<rect x="700.00" y="70.00" width="15.30" height="5.30" fill="#f08c00"/>
<rect x="715.00" y="70.00" width="5.30" height="5.30" fill="#ffb600"/>
<rect x="720.00" y="70.00" width="5.30" height="5.30" fill="#eeea00"/>
<rect x="725.00" y="70.00" width="5.30" height="5.30" fill="#d7f500"/>
<rect x="730.00" y="70.00" width="30.30" height="5.30" fill="#eeea00"/>
<rect x="760.00" y="70.00" width="5.30" height="5.30" fill="#ffb600"/>
<rect x="765.00" y="70.00" width="10.30" height="5.30" fill="#eeea00"/>
<rect x="775.00" y="70.00" width="5.30" height="5.30" fill="#d7f500"/>
<rect x="780.00" y="70.00" width="5.30" height="5.30" fill="#eeea00"/>
<rect x="785.00" y="70.00" width="5.30" height="5.30" fill="#d7f500"/>
<rect x="790.00" y="70.00" width="10.30" height="5.30" fill="#eeea00"/>
<rect x="800.00" y="70.00" width="5.30" height="5.30" fill="#d7f500"/>
<rect x="805.00" y="70.00" width="5.30" height="5.30" fill="#b4f000"/>
<rect x="810.00" y="70.00" width="15.30" height="5.30" fill="#d7f500"/>
<rect x="825.00" y="70.00" width="10.30" height="5.30" fill="#eeea00"/>
<rect x="835.00" y="70.00" width="15.30" height="5.30" fill="#d7f500"/>
<rect x="850.00" y="70.00" width="5.30" height="5.30" fill="#b4f000"/>
<rect x="855.00" y="70.00" width="25.30" height="5.30" fill="#d7f500"/>
<rect x="680.00" y="75.00" width="15.30" height="5.30" fill="#f08c00"/>
<rect x="695.00" y="75.00" width="5.30" height="5.30" fill="#dc6a00"/>
<rect x="700.00" y="75.00" width="10.30" height="5.30" fill="#f08c00"/>
<rect x="710.00" y="75.00" width="10.30" height="5.30" fill="#ffb600"/>
<rect x="720.00" y="75.00" width="5.30" height="5.30" fill="#eeea00"/>
<rect x="725.00" y="75.00" width="10.30" height="5.30" fill="#d7f500"/>
<rect x="735.00" y="75.00" width="25.30" height="5.30" fill="#eeea00"/>
<rect x="760.00" y="75.00" width="5.30" height="5.30" fill="#ffb600"/>
<rect x="765.00" y="75.00" width="5.30" height="5.30" fill="#eeea00"/>
<rect x="770.00" y="75.00" width="10.30" height="5.30" fill="#d7f500"/>
<rect x="780.00" y="75.00" width="5.30" height="5.30" fill="#eeea00"/>
<rect x="785.00" y="75.00" width="5.30" height="5.30" fill="#d7f500"/>
<rect x="790.00" y="75.00" width="10.30" height="5.30" fill="#eeea00"/>
<rect x="800.00" y="75.00" width="15.30" height="5.30" fill="#d7f500"/>
<rect x="815.00" y="75.00" width="5.30" height="5.30" fill="#b4f000"/>
<rect x="820.00" y="75.00" width="5.30" height="5.30" fill="#82e600"/>
<rect x="825.00" y="75.00" width="5.30" height="5.30" fill="#b4f000"/>
<rect x="830.00" y="75.00" width="10.30" height="5.30" fill="#82e600"/>
<rect x="840.00" y="75.00" width="5.30" height="5.30" fill="#b4f000"/>
<rect x="845.00" y="75.00" width="20.30" height="5.30" fill="#d7f500"/>
<rect x="865.00" y="75.00" width="5.30" height="5.30" fill="#b4f000"/>
<rect x="870.00" y="75.00" width="10.30" height="5.30" fill="#d7f500"/>
<rect x="680.00" y="80.00" width="10.30" height="5.30" fill="#ffb600"/>
<rect x="690.00" y="80.00" width="5.30" height="5.30" fill="#dc6a00"/>
<rect x="695.00" y="80.00" width="5.30" height="5.30" fill="#f08c00"/>
<rect x="700.00" y="80.00" width="5.30" height="5.30" fill="#ffb600"/>
<rect x="705.00" y="80.00" width="5.30" height="5.30" fill="#f08c00"/>
<rect x="710.00" y="80.00" width="5.30" height="5.30" fill="#82e600"/>
<rect x="715.00" y="80.00" width="5.30" height="5.30" fill="#3cd700"/>
<rect x="720.00" y="80.00" width="5.30" height="5.30" fill="#ffb600"/>
<rect x="725.00" y="80.00" width="5.30" height="5.30" fill="#eeea00"/>
<rect x="730.00" y="80.00" width="5.30" height="5.30" fill="#d7f500"/>
<rect x="735.00" y="80.00" width="20.30" height="5.30" fill="#eeea00"/>
<rect x="755.00" y="80.00" width="5.30" height="5.30" fill="#d7f500"/>
<rect x="760.00" y="80.00" width="10.30" height="5.30" fill="#eeea00"/>
<rect x="770.00" y="80.00" width="5.30" height="5.30" fill="#d7f500"/>
<rect x="775.00" y="80.00" width="10.30" height="5.30" fill="#eeea00"/>
<rect x="785.00" y="80.00" width="10.30" height="5.30" fill="#d7f500"/>
<rect x="795.00" y="80.00" width="5.30" height="5.30" fill="#eeea00"/>
<rect x="800.00" y="80.00" width="5.30" height="5.30" fill="#d7f500"/>
<rect x="805.00" y="80.00" width="5.30" height="5.30" fill="#b4f000"/>
<rect x="810.00" y="80.00" width="5.30" height="5.30" fill="#d7f500"/>
<rect x="815.00" y="80.00" width="5.30" height="5.30" fill="#b4f000"/>
<rect x="820.00" y="80.00" width="5.30" height="5.30" fill="#3cd700"/>
<rect x="825.00" y="80.00" width="5.30" height="5.30" fill="#82e600"/>
<rect x="830.00" y="80.00" width="5.30" height="5.30" fill="#b4f000"/>
<rect x="835.00" y="80.00" width="5.30" height="5.30" fill="#82e600"/>
<rect x="840.00" y="80.00" width="5.30" height="5.30" fill="#3cd700"/>
<rect x="845.00" y="80.00" width="5.30" height="5.30" fill="#82e600"/>
<rect x="850.00" y="80.00" width="15.30" height="5.30" fill="#d7f500"/>
<rect x="865.00" y="80.00" width="5.30" height="5.30" fill="#b4f000"/>
<rect x="870.00" y="80.00" width="10.30" height="5.30" fill="#d7f500"/>
<rect x="680.00" y="85.00" width="5.30" height="5.30" fill="#ffb600"/>
<rect x="685.00" y="85.00" width="5.30" height="5.30" fill="#f08c00"/>
<rect x="690.00" y="85.00" width="5.30" height="5.30" fill="#dc6a00"/>
<rect x="695.00" y="85.00" width="5.30" height="5.30" fill="#b4f000"/>
<rect x="700.00" y="85.00" width="5.30" height="5.30" fill="#d7f500"/>
<rect x="705.00" y="85.00" width="10.30" height="5.30" fill="#b4f000"/>
<rect x="715.00" y="85.00" width="5.30" height="5.30" fill="#82e600"/>
<rect x="720.00" y="85.00" width="15.30" height="5.30" fill="#eeea00"/>
<rect x="735.00" y="85.00" width="5.30" height="5.30" fill="#d7f500"/>
<rect x="740.00" y="85.00" width="10.30" height="5.30" fill="#eeea00"/>
<rect x="750.00" y="85.00" width="10.30" height="5.30" fill="#d7f500"/>
<rect x="760.00" y="85.00" width="5.30" height="5.30" fill="#eeea00"/>
<rect x="765.00" y="85.00" width="40.30" height="5.30" fill="#d7f500"/>
<rect x="805.00" y="85.00" width="15.30" height="5.30" fill="#b4f000"/>
<rect x="820.00" y="85.00" width="10.30" height="5.30" fill="#82e600"/>
<rect x="830.00" y="85.00" width="5.30" height="5.30" fill="#b4f000"/>
<rect x="835.00" y="85.00" width="5.30" height="5.30" fill="#82e600"/>
<rect x="840.00" y="85.00" width="5.30" height="5.30" fill="#3cd700"/>
<rect x="845.00" y="85.00" width="10.30" height="5.30" fill="#82e600"/>
<rect x="855.00" y="85.00" width="15.30" height="5.30" fill="#b4f000"/>
<rect x="870.00" y="85.00" width="10.30" height="5.30" fill="#d7f500"/>
<rect x="680.00" y="90.00" width="5.30" height="5.30" fill="#f08c00"/>
<rect x="685.00" y="90.00" width="5.30" height="5.30" fill="#dc6a00"/>
<rect x="690.00" y="90.00" width="5.30" height="5.30" fill="#eeea00"/>
<rect x="695.00" y="90.00" width="15.30" height="5.30" fill="#d7f500"/>
<rect x="710.00" y="90.00" width="5.30" height="5.30" fill="#eeea00"/>
<rect x="715.00" y="90.00" width="5.30" height="5.30" fill="#d7f500"/>
<rect x="720.00" y="90.00" width="20.30" height="5.30" fill="#eeea00"/>
<rect x="740.00" y="90.00" width="30.30" height="5.30" fill="#d7f500"/>
<rect x="770.00" y="90.00" width="5.30" height="5.30" fill="#b4f000"/>
<rect x="775.00" y="90.00" width="5.30" height="5.30" fill="#3cd700"/>
<rect x="780.00" y="90.00" width="10.30" height="5.30" fill="#b4f000"/>
<rect x="790.00" y="90.00" width="5.30" height="5.30" fill="#82e600"/>
<rect x="795.00" y="90.00" width="20.30" height="5.30" fill="#b4f000"/>
<rect x="815.00" y="90.00" width="25.30" height="5.30" fill="#82e600"/>
<rect x="840.00" y="90.00" width="10.30" height="5.30" fill="#3cd700"/>
<rect x="850.00" y="90.00" width="10.30" height="5.30" fill="#82e600"/>
<rect x="860.00" y="90.00" width="20.30" height="5.30" fill="#b4f000"/>
<rect x="680.00" y="95.00" width="5.30" height="5.30" fill="#dc6a00"/>
<rect x="685.00" y="95.00" width="5.30" height="5.30" fill="#f08c00"/>
<rect x="690.00" y="95.00" width="5.30" height="5.30" fill="#ffb600"/>
<rect x="695.00" y="95.00" width="25.30" height="5.30" fill="#eeea00"/>
<rect x="720.00" y="95.00" width="5.30" height="5.30" fill="#ffb600"/>
<rect x="725.00" y="95.00" width="5.30" height="5.30" fill="#eeea00"/>
<rect x="730.00" y="95.00" width="5.30" height="5.30" fill="#d7f500"/>
<rect x="735.00" y="95.00" width="5.30" height="5.30" fill="#eeea00"/>
<rect x="740.00" y="95.00" width="5.30" height="5.30" fill="#ffb600"/>
<rect x="745.00" y="95.00" width="20.30" height="5.30" fill="#eeea00"/>
<rect x="765.00" y="95.00" width="5.30" height="5.30" fill="#d7f500"/>
<rect x="770.00" y="95.00" width="5.30" height="5.30" fill="#b4f000"/>
<rect x="775.00" y="95.00" width="5.30" height="5.30" fill="#3cd700"/>
<rect x="780.00" y="95.00" width="5.30" height="5.30" fill="#82e600"/>
<rect x="785.00" y="95.00" width="5.30" height="5.30" fill="#3cd700"/>
<rect x="790.00" y="95.00" width="10.30" height="5.30" fill="#b4f000"/>
<rect x="800.00" y="95.00" width="5.30" height="5.30" fill="#3cd700"/>
<rect x="805.00" y="95.00" width="5.30" height="5.30" fill="#00cd1e"/>
<rect x="810.00" y="95.00" width="5.30" height="5.30" fill="#b4f000"/>
<rect x="815.00" y="95.00" width="5.30" height="5.30" fill="#82e600"/>
<rect x="820.00" y="95.00" width="10.30" height="5.30" fill="#3cd700"/>
<rect x="830.00" y="95.00" width="10.30" height="5.30" fill="#b4f000"/>
<rect x="840.00" y="95.00" width="10.30" height="5.30" fill="#82e600"/>
<rect x="850.00" y="95.00" width="5.30" height="5.30" fill="#3cd700"/>
<rect x="855.00" y="95.00" width="5.30" height="5.30" fill="#82e600"/>
<rect x="860.00" y="95.00" width="5.30" height="5.30" fill="#3cd700"/>
<rect x="865.00" y="95.00" width="10.30" height="5.30" fill="#b4f000"/>
<rect x="875.00" y="95.00" width="5.30" height="5.30" fill="#82e600"/>
<rect x="680.00" y="100.00" width="10.30" height="5.30" fill="#f08c00"/>
<rect x="690.00" y="100.00" width="5.30" height="5.30" fill="#ffb600"/>
<rect x="695.00" y="100.00" width="25.30" height="5.30" fill="#eeea00"/>
<rect x="720.00" y="100.00" width="5.30" height="5.30" fill="#ffb600"/>
<rect x="725.00" y="100.00" width="5.30" height="5.30" fill="#d7f500"/>
<rect x="730.00" y="100.00" width="5.30" height="5.30" fill="#b4f000"/>
<rect x="735.00" y="100.00" width="10.30" height="5.30" fill="#d7f500"/>
<rect x="745.00" y="100.00" width="10.30" height="5.30" fill="#eeea00"/>
<rect x="755.00" y="100.00" width="5.30" height="5.30" fill="#d7f500"/>
<rect x="760.00" y="100.00" width="5.30" height="5.30" fill="#b4f000"/>
<rect x="765.00" y="100.00" width="5.30" height="5.30" fill="#82e600"/>
<rect x="770.00" y="100.00" width="15.30" height="5.30" fill="#3cd700"/>
<rect x="785.00" y="100.00" width="10.30" height="5.30" fill="#82e600"/>
<rect x="795.00" y="100.00" width="15.30" height="5.30" fill="#3cd700"/>
<rect x="810.00" y="100.00" width="25.30" height="5.30" fill="#82e600"/>
<rect x="835.00" y="100.00" width="10.30" height="5.30" fill="#3cd700"/>
<rect x="845.00" y="100.00" width="5.30" height="5.30" fill="#00cd1e"/>
<rect x="850.00" y="100.00" width="15.30" height="5.30" fill="#3cd700"/>
<rect x="865.00" y="100.00" width="5.30" height="5.30" fill="#82e600"/>
<rect x="870.00" y="100.00" width="5.30" height="5.30" fill="#b4f000"/>
<rect x="875.00" y="100.00" width="5.30" height="5.30" fill="#82e600"/>
<rect x="680.00" y="105.00" width="15.30" height="5.30" fill="#f08c00"/>
<rect x="695.00" y="105.00" width="20.30" height="5.30" fill="#eeea00"/>
<rect x="715.00" y="105.00" width="10.30" height="5.30" fill="#ffb600"/>
<rect x="725.00" y="105.00" width="5.30" height="5.30" fill="#d7f500"/>
<rect x="730.00" y="105.00" width="5.30" height="5.30" fill="#b4f000"/>
<rect x="735.00" y="105.00" width="10.30" height="5.30" fill="#d7f500"/>
<rect x="745.00" y="105.00" width="5.30" height="5.30" fill="#eeea00"/>
<rect x="750.00" y="105.00" width="5.30" height="5.30" fill="#d7f500"/>
<rect x="755.00" y="105.00" width="10.30" height="5.30" fill="#b4f000"/>
<rect x="765.00" y="105.00" width="5.30" height="5.30" fill="#82e600"/>
<rect x="770.00" y="105.00" width="10.30" height="5.30" fill="#3cd700"/>
<rect x="780.00" y="105.00" width="5.30" height="5.30" fill="#b4f000"/>
<rect x="785.00" y="105.00" width="35.30" height="5.30" fill="#3cd700"/>
<rect x="820.00" y="105.00" width="5.30" height="5.30" fill="#82e600"/>
<rect x="825.00" y="105.00" width="5.30" height="5.30" fill="#3cd700"/>
<rect x="830.00" y="105.00" width="5.30" height="5.30" fill="#00cd1e"/>
<rect x="835.00" y="105.00" width="10.30" height="5.30" fill="#3cd700"/>
<rect x="845.00" y="105.00" width="10.30" height="5.30" fill="#00cd1e"/>
<rect x="855.00" y="105.00" width="15.30" height="5.30" fill="#3cd700"/>
<rect x="870.00" y="105.00" width="5.30" height="5.30" fill="#00cd1e"/>
<rect x="875.00" y="105.00" width="5.30" height="5.30" fill="#3cd700"/>
<rect x="680.00" y="110.00" width="10.30" height="5.30" fill="#f08c00"/>
<rect x="690.00" y="110.00" width="15.30" height="5.30" fill="#ffb600"/>
<rect x="705.00" y="110.00" width="5.30" height="5.30" fill="#f08c00"/>
<rect x="710.00" y="110.00" width="10.30" height="5.30" fill="#ffb600"/>
<rect x="720.00" y="110.00" width="5.30" height="5.30" fill="#eeea00"/>
<rect x="725.00" y="110.00" width="5.30" height="5.30" fill="#3cd700"/>
<rect x="730.00" y="110.00" width="10.30" height="5.30" fill="#b4f000"/>
<rect x="740.00" y="110.00" width="10.30" height="5.30" fill="#eeea00"/>
<rect x="750.00" y="110.00" width="10.30" height="5.30" fill="#b4f000"/>
<rect x="760.00" y="110.00" width="5.30" height="5.30" fill="#82e600"/>
<rect x="765.00" y="110.00" width="25.30" height="5.30" fill="#3cd700"/>
<rect x="790.00" y="110.00" width="10.30" height="5.30" fill="#00cd1e"/>
<rect x="800.00" y="110.00" width="15.30" height="5.30" fill="#3cd700"/>
<rect x="815.00" y="110.00" width="5.30" height="5.30" fill="#82e600"/>
<rect x="820.00" y="110.00" width="15.30" height="5.30" fill="#00cd1e"/>
<rect x="835.00" y="110.00" width="5.30" height="5.30" fill="#3cd700"/>
<rect x="840.00" y="110.00" width="40.30" height="5.30" fill="#00cd1e"/>
<rect x="680.00" y="115.00" width="25.30" height="5.30" fill="#ffb600"/>
<rect x="705.00" y="115.00" width="5.30" height="5.30" fill="#eeea00"/>
<rect x="710.00" y="115.00" width="10.30" height="5.30" fill="#ffb600"/>
<rect x="720.00" y="115.00" width="5.30" height="5.30" fill="#d7f500"/>
<rect x="725.00" y="115.00" width="5.30" height="5.30" fill="#3cd700"/>
<rect x="730.00" y="115.00" width="5.30" height="5.30" fill="#82e600"/>
<rect x="735.00" y="115.00" width="5.30" height="5.30" fill="#d7f500"/>
<rect x="740.00" y="115.00" width="10.30" height="5.30" fill="#eeea00"/>
<rect x="750.00" y="115.00" width="5.30" height="5.30" fill="#d7f500"/>
<rect x="755.00" y="115.00" width="5.30" height="5.30" fill="#b4f000"/>
<rect x="760.00" y="115.00" width="5.30" height="5.30" fill="#82e600"/>
<rect x="765.00" y="115.00" width="15.30" height="5.30" fill="#3cd700"/>
<rect x="780.00" y="115.00" width="75.30" height="5.30" fill="#00cd1e"/>
<rect x="855.00" y="115.00" width="5.30" height="5.30" fill="#00c046"/>
<rect x="860.00" y="115.00" width="20.30" height="5.30" fill="#00cd1e"/>
<rect x="680.00" y="120.00" width="5.30" height="5.30" fill="#b4f000"/>
<rect x="685.00" y="120.00" width="5.30" height="5.30" fill="#d7f500"/>
<rect x="690.00" y="120.00" width="15.30" height="5.30" fill="#b4f000"/>
<rect x="705.00" y="120.00" width="5.30" height="5.30" fill="#d7f500"/>
<rect x="710.00" y="120.00" width="10.30" height="5.30" fill="#eeea00"/>
<rect x="720.00" y="120.00" width="5.30" height="5.30" fill="#d7f500"/>
<rect x="725.00" y="120.00" width="10.30" height="5.30" fill="#3cd700"/>
<rect x="735.00" y="120.00" width="5.30" height="5.30" fill="#82e600"/>
<rect x="740.00" y="120.00" width="10.30" height="5.30" fill="#3cd700"/>
<rect x="750.00" y="120.00" width="5.30" height="5.30" fill="#82e600"/>
<rect x="755.00" y="120.00" width="5.30" height="5.30" fill="#3cd700"/>
<rect x="760.00" y="120.00" width="5.30" height="5.30" fill="#00cd1e"/>
<rect x="765.00" y="120.00" width="10.30" height="5.30" fill="#3cd700"/>
<rect x="775.00" y="120.00" width="20.30" height="5.30" fill="#00cd1e"/>
<rect x="795.00" y="120.00" width="5.30" height="5.30" fill="#00c046"/>
<rect x="800.00" y="120.00" width="45.30" height="5.30" fill="#00cd1e"/>
<rect x="845.00" y="120.00" width="5.30" height="5.30" fill="#00c046"/>
<rect x="850.00" y="120.00" width="10.30" height="5.30" fill="#00cd1e"/>
<rect x="860.00" y="120.00" width="10.30" height="5.30" fill="#00c046"/>
<rect x="870.00" y="120.00" width="10.30" height="5.30" fill="#00cd1e"/>
<rect x="680.00" y="125.00" width="5.30" height="5.30" fill="#3cd700"/>
<rect x="685.00" y="125.00" width="5.30" height="5.30" fill="#d7f500"/>
<rect x="690.00" y="125.00" width="20.30" height="5.30" fill="#b4f000"/>
<rect x="710.00" y="125.00" width="5.30" height="5.30" fill="#d7f500"/>
<rect x="715.00" y="125.00" width="5.30" height="5.30" fill="#eeea00"/>
<rect x="720.00" y="125.00" width="5.30" height="5.30" fill="#82e600"/>
<rect x="725.00" y="125.00" width="5.30" height="5.30" fill="#3cd700"/>
<rect x="730.00" y="125.00" width="10.30" height="5.30" fill="#00cd1e"/>
<rect x="740.00" y="125.00" width="5.30" height="5.30" fill="#82e600"/>
<rect x="745.00" y="125.00" width="10.30" height="5.30" fill="#00cd1e"/>
<rect x="755.00" y="125.00" width="5.30" height="5.30" fill="#82e600"/>
<rect x="760.00" y="125.00" width="25.30" height="5.30" fill="#00cd1e"/>
<rect x="785.00" y="125.00" width="20.30" height="5.30" fill="#00c046"/>
<rect x="805.00" y="125.00" width="30.30" height="5.30" fill="#00cd1e"/>
<rect x="835.00" y="125.00" width="45.30" height="5.30" fill="#00c046"/>
<rect x="680.00" y="130.00" width="5.30" height="5.30" fill="#d7f500"/>
<rect x="685.00" y="130.00" width="10.30" height="5.30" fill="#82e600"/>
<rect x="695.00" y="130.00" width="20.30" height="5.30" fill="#b4f000"/>
<rect x="715.00" y="130.00" width="5.30" height="5.30" fill="#82e600"/>
<rect x="720.00" y="130.00" width="5.30" height="5.30" fill="#3cd700"/>
<rect x="725.00" y="130.00" width="15.30" height="5.30" fill="#00cd1e"/>
<rect x="740.00" y="130.00" width="5.30" height="5.30" fill="#3cd700"/>
<rect x="745.00" y="130.00" width="10.30" height="5.30" fill="#00cd1e"/>
<rect x="755.00" y="130.00" width="5.30" height="5.30" fill="#82e600"/>
<rect x="760.00" y="130.00" width="20.30" height="5.30" fill="#00cd1e"/>
<rect x="780.00" y="130.00" width="15.30" height="5.30" fill="#00c046"/>
<rect x="795.00" y="130.00" width="5.30" height="5.30" fill="#00be82"/>
<rect x="800.00" y="130.00" width="5.30" height="5.30" fill="#00c046"/>
<rect x="805.00" y="130.00" width="25.30" height="5.30" fill="#00cd1e"/>
<rect x="830.00" y="130.00" width="10.30" height="5.30" fill="#00c046"/>
<rect x="840.00" y="130.00" width="5.30" height="5.30" fill="#00be82"/>
<rect x="845.00" y="130.00" width="35.30" height="5.30" fill="#00c046"/>
<rect x="680.00" y="135.00" width="5.30" height="5.30" fill="#eeea00"/>
<rect x="685.00" y="135.00" width="5.30" height="5.30" fill="#b4f000"/>
<rect x="690.00" y="135.00" width="5.30" height="5.30" fill="#82e600"/>
<rect x="695.00" y="135.00" width="15.30" height="5.30" fill="#b4f000"/>
<rect x="710.00" y="135.00" width="5.30" height="5.30" fill="#82e600"/>
<rect x="715.00" y="135.00" width="65.30" height="5.30" fill="#00cd1e"/>
<rect x="780.00" y="135.00" width="10.30" height="5.30" fill="#00c046"/>
<rect x="790.00" y="135.00" width="10.30" height="5.30" fill="#00be82"/>
<rect x="800.00" y="135.00" width="5.30" height="5.30" fill="#00c046"/>
<rect x="805.00" y="135.00" width="25.30" height="5.30" fill="#00cd1e"/>
<rect x="830.00" y="135.00" width="50.30" height="5.30" fill="#00c046"/>
<rect x="680.00" y="140.00" width="5.30" height="5.30" fill="#3cd700"/>
<rect x="685.00" y="140.00" width="5.30" height="5.30" fill="#b4f000"/>
<rect x="690.00" y="140.00" width="10.30" height="5.30" fill="#3cd700"/>
<rect x="700.00" y="140.00" width="5.30" height="5.30" fill="#b4f000"/>
<rect x="705.00" y="140.00" width="5.30" height="5.30" fill="#82e600"/>
<rect x="710.00" y="140.00" width="5.30" height="5.30" fill="#3cd700"/>
<rect x="715.00" y="140.00" width="25.30" height="5.30" fill="#00cd1e"/>
<rect x="740.00" y="140.00" width="5.30" height="5.30" fill="#00c046"/>
<rect x="745.00" y="140.00" width="10.30" height="5.30" fill="#00cd1e"/>
<rect x="755.00" y="140.00" width="5.30" height="5.30" fill="#b4f000"/>
<rect x="760.00" y="140.00" width="20.30" height="5.30" fill="#00cd1e"/>
<rect x="780.00" y="140.00" width="10.30" height="5.30" fill="#00c046"/>
<rect x="790.00" y="140.00" width="10.30" height="5.30" fill="#00be82"/>
<rect x="800.00" y="140.00" width="15.30" height="5.30" fill="#00c046"/>
<rect x="815.00" y="140.00" width="15.30" height="5.30" fill="#00cd1e"/>
<rect x="830.00" y="140.00" width="30.30" height="5.30" fill="#00c046"/>
<rect x="860.00" y="140.00" width="10.30" height="5.30" fill="#00be82"/>
<rect x="870.00" y="140.00" width="10.30" height="5.30" fill="#00c046"/>
<rect x="680.00" y="145.00" width="10.30" height="5.30" fill="#3cd700"/>
<rect x="690.00" y="145.00" width="5.30" height="5.30" fill="#00cd1e"/>
<rect x="695.00" y="145.00" width="15.30" height="5.30" fill="#3cd700"/>
<rect x="710.00" y="145.00" width="5.30" height="5.30" fill="#b4f000"/>
<rect x="715.00" y="145.00" width="20.30" height="5.30" fill="#00cd1e"/>
<rect x="735.00" y="145.00" width="10.30" height="5.30" fill="#00c046"/>
<rect x="745.00" y="145.00" width="30.30" height="5.30" fill="#00cd1e"/>
<rect x="775.00" y="145.00" width="15.30" height="5.30" fill="#00c046"/>
<rect x="790.00" y="145.00" width="10.30" height="5.30" fill="#00be82"/>
<rect x="800.00" y="145.00" width="20.30" height="5.30" fill="#00c046"/>
<rect x="820.00" y="145.00" width="5.30" height="5.30" fill="#00cd1e"/>
<rect x="825.00" y="145.00" width="35.30" height="5.30" fill="#00c046"/>
<rect x="860.00" y="145.00" width="10.30" height="5.30" fill="#00be82"/>
<rect x="870.00" y="145.00" width="10.30" height="5.30" fill="#00c046"/>
<rect x="680.00" y="150.00" width="5.30" height="5.30" fill="#3cd700"/>
<rect x="685.00" y="150.00" width="5.30" height="5.30" fill="#b4f000"/>
<rect x="690.00" y="150.00" width="20.30" height="5.30" fill="#00cd1e"/>
<rect x="710.00" y="150.00" width="5.30" height="5.30" fill="#b4f000"/>
<rect x="715.00" y="150.00" width="20.30" height="5.30" fill="#00cd1e"/>
<rect x="735.00" y="150.00" width="10.30" height="5.30" fill="#00c046"/>
<rect x="745.00" y="150.00" width="30.30" height="5.30" fill="#00cd1e"/>
<rect x="775.00" y="150.00" width="15.30" height="5.30" fill="#00c046"/>
<rect x="790.00" y="150.00" width="5.30" height="5.30" fill="#00be82"/>
<rect x="795.00" y="150.00" width="10.30" height="5.30" fill="#00c046"/>
<rect x="805.00" y="150.00" width="5.30" height="5.30" fill="#00be82"/>
<rect x="810.00" y="150.00" width="25.30" height="5.30" fill="#00c046"/>
<rect x="835.00" y="150.00" width="5.30" height="5.30" fill="#00be82"/>
<rect x="840.00" y="150.00" width="5.30" height="5.30" fill="#00c046"/>
<rect x="845.00" y="150.00" width="5.30" height="5.30" fill="#00be82"/>
<rect x="850.00" y="150.00" width="15.30" height="5.30" fill="#00c046"/>
<rect x="865.00" y="150.00" width="10.30" height="5.30" fill="#00be82"/>
<rect x="875.00" y="150.00" width="5.30" height="5.30" fill="#00c046"/>
<rect x="680.00" y="155.00" width="5.30" height="5.30" fill="#00c046"/>
<rect x="685.00" y="155.00" width="25.30" height="5.30" fill="#00cd1e"/>
<rect x="710.00" y="155.00" width="5.30" height="5.30" fill="#3cd700"/>
<rect x="715.00" y="155.00" width="65.30" height="5.30" fill="#00cd1e"/>
<rect x="780.00" y="155.00" width="5.30" height="5.30" fill="#00c046"/>
<rect x="785.00" y="155.00" width="20.30" height="5.30" fill="#00be82"/>
<rect x="805.00" y="155.00" width="30.30" height="5.30" fill="#00c046"/>
<rect x="835.00" y="155.00" width="10.30" height="5.30" fill="#00be82"/>
<rect x="845.00" y="155.00" width="5.30" height="5.30" fill="#00c046"/>
<rect x="850.00" y="155.00" width="20.30" height="5.30" fill="#00be82"/>
<rect x="870.00" y="155.00" width="5.30" height="5.30" fill="#00c8aa"/>
<rect x="875.00" y="155.00" width="5.30" height="5.30" fill="#00be82"/>
<rect x="680.00" y="160.00" width="10.30" height="5.30" fill="#00c046"/>
<rect x="690.00" y="160.00" width="25.30" height="5.30" fill="#00cd1e"/>
<rect x="715.00" y="160.00" width="10.30" height="5.30" fill="#00c046"/>
<rect x="725.00" y="160.00" width="5.30" height="5.30" fill="#00be82"/>
<rect x="730.00" y="160.00" width="5.30" height="5.30" fill="#00c046"/>
<rect x="735.00" y="160.00" width="25.30" height="5.30" fill="#00cd1e"/>
<rect x="760.00" y="160.00" width="25.30" height="5.30" fill="#00c046"/>
<rect x="785.00" y="160.00" width="25.30" height="5.30" fill="#00be82"/>
<rect x="810.00" y="160.00" width="25.30" height="5.30" fill="#00c046"/>
<rect x="835.00" y="160.00" width="45.30" height="5.30" fill="#00be82"/>
<rect x="680.00" y="165.00" width="35.30" height="5.30" fill="#00c046"/>
<rect x="715.00" y="165.00" width="5.30" height="5.30" fill="#00be82"/>
<rect x="720.00" y="165.00" width="10.30" height="5.30" fill="#00c8aa"/>
<rect x="730.00" y="165.00" width="5.30" height="5.30" fill="#00be82"/>
<rect x="735.00" y="165.00" width="5.30" height="5.30" fill="#00c046"/>
<rect x="740.00" y="165.00" width="5.30" height="5.30" fill="#00cd1e"/>
<rect x="745.00" y="165.00" width="15.30" height="5.30" fill="#00c046"/>
<rect x="760.00" y="165.00" width="10.30" height="5.30" fill="#00c8aa"/>
<rect x="770.00" y="165.00" width="15.30" height="5.30" fill="#00c046"/>
<rect x="785.00" y="165.00" width="10.30" height="5.30" fill="#00be82"/>
<rect x="795.00" y="165.00" width="20.30" height="5.30" fill="#00c8aa"/>
<rect x="815.00" y="165.00" width="5.30" height="5.30" fill="#00be82"/>
<rect x="820.00" y="165.00" width="10.30" height="5.30" fill="#00c046"/>
<rect x="830.00" y="165.00" width="25.30" height="5.30" fill="#00be82"/>
<rect x="855.00" y="165.00" width="5.30" height="5.30" fill="#00c8aa"/>
<rect x="860.00" y="165.00" width="20.30" height="5.30" fill="#00be82"/>
<rect x="680.00" y="170.00" width="5.30" height="5.30" fill="#00c046"/>
<rect x="685.00" y="170.00" width="10.30" height="5.30" fill="#00be82"/>
<rect x="695.00" y="170.00" width="10.30" height="5.30" fill="#00c8aa"/>
<rect x="705.00" y="170.00" width="5.30" height="5.30" fill="#00be82"/>
<rect x="710.00" y="170.00" width="20.30" height="5.30" fill="#00c8aa"/>
<rect x="730.00" y="170.00" width="5.30" height="5.30" fill="#00be82"/>
<rect x="735.00" y="170.00" width="10.30" height="5.30" fill="#00c046"/>
<rect x="745.00" y="170.00" width="5.30" height="5.30" fill="#00c8aa"/>
<rect x="750.00" y="170.00" width="5.30" height="5.30" fill="#00ffff"/>
<rect x="755.00" y="170.00" width="20.30" height="5.30" fill="#00c8aa"/>
<rect x="775.00" y="170.00" width="5.30" height="5.30" fill="#00c046"/>
<rect x="780.00" y="170.00" width="10.30" height="5.30" fill="#00be82"/>
<rect x="790.00" y="170.00" width="35.30" height="5.30" fill="#00c8aa"/>
<rect x="825.00" y="170.00" width="10.30" height="5.30" fill="#00ffff"/>
<rect x="835.00" y="170.00" width="10.30" height="5.30" fill="#00c8aa"/>
<rect x="845.00" y="170.00" width="5.30" height="5.30" fill="#00be82"/>
<rect x="850.00" y="170.00" width="30.30" height="5.30" fill="#00c8aa"/>
<rect x="680.00" y="175.00" width="10.30" height="5.30" fill="#00be82"/>
<rect x="690.00" y="175.00" width="10.30" height="5.30" fill="#00c8aa"/>
<rect x="700.00" y="175.00" width="5.30" height="5.30" fill="#00ffff"/>
<rect x="705.00" y="175.00" width="5.30" height="5.30" fill="#00c8aa"/>
<rect x="710.00" y="175.00" width="10.30" height="5.30" fill="#00ffff"/>
<rect x="720.00" y="175.00" width="15.30" height="5.30" fill="#00c8aa"/>
<rect x="735.00" y="175.00" width="5.30" height="5.30" fill="#00ffff"/>
<rect x="740.00" y="175.00" width="10.30" height="5.30" fill="#00c8aa"/>
<rect x="750.00" y="175.00" width="5.30" height="5.30" fill="#00ffff"/>
<rect x="755.00" y="175.00" width="10.30" height="5.30" fill="#00c8aa"/>
<rect x="765.00" y="175.00" width="5.30" height="5.30" fill="#00ffff"/>
<rect x="770.00" y="175.00" width="10.30" height="5.30" fill="#00c8aa"/>
<rect x="780.00" y="175.00" width="5.30" height="5.30" fill="#00be82"/>
<rect x="785.00" y="175.00" width="35.30" height="5.30" fill="#00c8aa"/>
<rect x="820.00" y="175.00" width="20.30" height="5.30" fill="#00ffff"/>
<rect x="840.00" y="175.00" width="35.30" height="5.30" fill="#00c8aa"/>
<rect x="875.00" y="175.00" width="5.30" height="5.30" fill="#00ffff"/>
<rect x="680.00" y="180.00" width="45.30" height="5.30" fill="#00ffff"/>
<rect x="725.00" y="180.00" width="10.30" height="5.30" fill="#00c8aa"/>
<rect x="735.00" y="180.00" width="15.30" height="5.30" fill="#00ffff"/>
<rect x="750.00" y="180.00" width="10.30" height="5.30" fill="#00c8aa"/>
<rect x="760.00" y="180.00" width="15.30" height="5.30" fill="#00ffff"/>
<rect x="775.00" y="180.00" width="50.30" height="5.30" fill="#00c8aa"/>
<rect x="825.00" y="180.00" width="35.30" height="5.30" fill="#00ffff"/>
<rect x="860.00" y="180.00" width="5.30" height="5.30" fill="#0000ff"/>
<rect x="865.00" y="180.00" width="5.30" height="5.30" fill="#00ffff"/>
<rect x="870.00" y="180.00" width="10.30" height="5.30" fill="#00c8aa"/>
<rect x="680.00" y="185.00" width="45.30" height="5.30" fill="#00ffff"/>
<rect x="725.00" y="185.00" width="15.30" height="5.30" fill="#00c8aa"/>
<rect x="740.00" y="185.00" width="10.30" height="5.30" fill="#00ffff"/>
<rect x="750.00" y="185.00" width="5.30" height="5.30" fill="#00c8aa"/>
<rect x="755.00" y="185.00" width="5.30" height="5.30" fill="#00ffff"/>
<rect x="760.00" y="185.00" width="10.30" height="5.30" fill="#00c8aa"/>
<rect x="770.00" y="185.00" width="10.30" height="5.30" fill="#00ffff"/>
<rect x="780.00" y="185.00" width="40.30" height="5.30" fill="#00c8aa"/>
<rect x="820.00" y="185.00" width="40.30" height="5.30" fill="#00ffff"/>
<rect x="860.00" y="185.00" width="10.30" height="5.30" fill="#0000ff"/>
<rect x="870.00" y="185.00" width="10.30" height="5.30" fill="#00c8aa"/>
<rect x="680.00" y="190.00" width="45.30" height="5.30" fill="#00ffff"/>
<rect x="725.00" y="190.00" width="15.30" height="5.30" fill="#00c8aa"/>
<rect x="740.00" y="190.00" width="10.30" height="5.30" fill="#00ffff"/>
<rect x="750.00" y="190.00" width="30.30" height="5.30" fill="#00c8aa"/>
<rect x="780.00" y="190.00" width="10.30" height="5.30" fill="#00ffff"/>
<rect x="790.00" y="190.00" width="25.30" height="5.30" fill="#00c8aa"/>
<rect x="815.00" y="190.00" width="15.30" height="5.30" fill="#00ffff"/>
<rect x="830.00" y="190.00" width="10.30" height="5.30" fill="#00c8aa"/>
<rect x="840.00" y="190.00" width="10.30" height="5.30" fill="#00ffff"/>
<rect x="850.00" y="190.00" width="5.30" height="5.30" fill="#00c8aa"/>
<rect x="855.00" y="190.00" width="5.30" height="5.30" fill="#00ffff"/>
<rect x="860.00" y="190.00" width="5.30" height="5.30" fill="#0000ff"/>
<rect x="865.00" y="190.00" width="5.30" height="5.30" fill="#00ffff"/>
<rect x="870.00" y="190.00" width="10.30" height="5.30" fill="#00c8aa"/>
<rect x="680.00" y="195.00" width="10.30" height="5.30" fill="#00ffff"/>
<rect x="690.00" y="195.00" width="15.30" height="5.30" fill="#00c8aa"/>
<rect x="705.00" y="195.00" width="25.30" height="5.30" fill="#00ffff"/>
<rect x="730.00" y="195.00" width="10.30" height="5.30" fill="#00c8aa"/>
<rect x="740.00" y="195.00" width="10.30" height="5.30" fill="#00ffff"/>
<rect x="750.00" y="195.00" width="25.30" height="5.30" fill="#00c8aa"/>
<rect x="775.00" y="195.00" width="10.30" height="5.30" fill="#00ffff"/>
<rect x="785.00" y="195.00" width="25.30" height="5.30" fill="#00c8aa"/>
<rect x="810.00" y="195.00" width="40.30" height="5.30" fill="#00ffff"/>
<rect x="850.00" y="195.00" width="5.30" height="5.30" fill="#00c8aa"/>
<rect x="855.00" y="195.00" width="10.30" height="5.30" fill="#00ffff"/>
<rect x="865.00" y="195.00" width="15.30" height="5.30" fill="#00c8aa"/>
<rect x="680.00" y="200.00" width="5.30" height="5.30" fill="#00ffff"/>
<rect x="685.00" y="200.00" width="10.30" height="5.30" fill="#00c8aa"/>
<rect x="695.00" y="200.00" width="5.30" height="5.30" fill="#00ffff"/>
<rect x="700.00" y="200.00" width="10.30" height="5.30" fill="#00c8aa"/>
<rect x="710.00" y="200.00" width="15.30" height="5.30" fill="#00ffff"/>
<rect x="725.00" y="200.00" width="10.30" height="5.30" fill="#00c8aa"/>
<rect x="735.00" y="200.00" width="5.30" height="5.30" fill="#00ffff"/>
<rect x="740.00" y="200.00" width="5.30" height="5.30" fill="#00c8aa"/>
<rect x="745.00" y="200.00" width="15.30" height="5.30" fill="#0000ff"/>
<rect x="760.00" y="200.00" width="15.30" height="5.30" fill="#00c8aa"/>
<rect x="775.00" y="200.00" width="10.30" height="5.30" fill="#00ffff"/>
<rect x="785.00" y="200.00" width="15.30" height="5.30" fill="#00c8aa"/>
<rect x="800.00" y="200.00" width="10.30" height="5.30" fill="#00ffff"/>
<rect x="810.00" y="200.00" width="15.30" height="5.30" fill="#00c8aa"/>
<rect x="825.00" y="200.00" width="15.30" height="5.30" fill="#00ffff"/>
<rect x="840.00" y="200.00" width="5.30" height="5.30" fill="#00c8aa"/>
<rect x="845.00" y="200.00" width="20.30" height="5.30" fill="#00ffff"/>
<rect x="865.00" y="200.00" width="15.30" height="5.30" fill="#00c8aa"/>
<rect x="680.00" y="205.00" width="5.30" height="5.30" fill="#00c8aa"/>
<rect x="685.00" y="205.00" width="5.30" height="5.30" fill="#00ffff"/>
<rect x="690.00" y="205.00" width="5.30" height="5.30" fill="#00c8aa"/>
<rect x="695.00" y="205.00" width="15.30" height="5.30" fill="#00ffff"/>
<rect x="710.00" y="205.00" width="5.30" height="5.30" fill="#00c8aa"/>
<rect x="715.00" y="205.00" width="15.30" height="5.30" fill="#00ffff"/>
<rect x="730.00" y="205.00" width="10.30" height="5.30" fill="#00c8aa"/>
<rect x="740.00" y="205.00" width="20.30" height="5.30" fill="#0000ff"/>
<rect x="760.00" y="205.00" width="5.30" height="5.30" fill="#00c8aa"/>
<rect x="765.00" y="205.00" width="25.30" height="5.30" fill="#00ffff"/>
<rect x="790.00" y="205.00" width="10.30" height="5.30" fill="#00c8aa"/>
<rect x="800.00" y="205.00" width="5.30" height="5.30" fill="#00ffff"/>
<rect x="805.00" y="205.00" width="30.30" height="5.30" fill="#00c8aa"/>
<rect x="835.00" y="205.00" width="10.30" height="5.30" fill="#00ffff"/>
<rect x="845.00" y="205.00" width="5.30" height="5.30" fill="#00c8aa"/>
<rect x="850.00" y="205.00" width="10.30" height="5.30" fill="#00ffff"/>
<rect x="860.00" y="205.00" width="20.30" height="5.30" fill="#00c8aa"/>
<rect x="680.00" y="210.00" width="5.30" height="5.30" fill="#00ffff"/>
<rect x="685.00" y="210.00" width="10.30" height="5.30" fill="#00c8aa"/>
<rect x="695.00" y="210.00" width="5.30" height="5.30" fill="#0000ff"/>
<rect x="700.00" y="210.00" width="40.30" height="5.30" fill="#00c8aa"/>
<rect x="740.00" y="210.00" width="20.30" height="5.30" fill="#0000ff"/>
<rect x="760.00" y="210.00" width="15.30" height="5.30" fill="#00c8aa"/>
<rect x="775.00" y="210.00" width="20.30" height="5.30" fill="#00ffff"/>
<rect x="795.00" y="210.00" width="45.30" height="5.30" fill="#00c8aa"/>
<rect x="840.00" y="210.00" width="10.30" height="5.30" fill="#00ffff"/>
<rect x="850.00" y="210.00" width="10.30" height="5.30" fill="#00c8aa"/>
<rect x="860.00" y="210.00" width="5.30" height="5.30" fill="#00ffff"/>
<rect x="865.00" y="210.00" width="15.30" height="5.30" fill="#00c8aa"/>
<rect x="680.00" y="215.00" width="10.30" height="5.30" fill="#0000ff"/>
<rect x="690.00" y="215.00" width="5.30" height="5.30" fill="#00c8aa"/>
<rect x="695.00" y="215.00" width="5.30" height="5.30" fill="#0000ff"/>
<rect x="700.00" y="215.00" width="15.30" height="5.30" fill="#00c8aa"/>
<rect x="715.00" y="215.00" width="10.30" height="5.30" fill="#0000ff"/>
<rect x="725.00" y="215.00" width="10.30" height="5.30" fill="#00c8aa"/>
<rect x="735.00" y="215.00" width="30.30" height="5.30" fill="#0000ff"/>
<rect x="765.00" y="215.00" width="10.30" height="5.30" fill="#00c8aa"/>
<rect x="775.00" y="215.00" width="10.30" height="5.30" fill="#00ffff"/>
<rect x="785.00" y="215.00" width="10.30" height="5.30" fill="#00c8aa"/>
<rect x="795.00" y="215.00" width="30.30" height="5.30" fill="#0000ff"/>
<rect x="825.00" y="215.00" width="20.30" height="5.30" fill="#00c8aa"/>
<rect x="845.00" y="215.00" width="20.30" height="5.30" fill="#00ffff"/>
<rect x="865.00" y="215.00" width="5.30" height="5.30" fill="#00c8aa"/>
<rect x="870.00" y="215.00" width="5.30" height="5.30" fill="#00ffff"/>
<rect x="875.00" y="215.00" width="5.30" height="5.30" fill="#00c8aa"/>
<rect x="680.00" y="220.00" width="35.30" height="5.30" fill="#0000ff"/>
<rect x="715.00" y="220.00" width="5.30" height="5.30" fill="#00c8aa"/>
<rect x="720.00" y="220.00" width="50.30" height="5.30" fill="#0000ff"/>
<rect x="770.00" y="220.00" width="5.30" height="5.30" fill="#00c8aa"/>
<rect x="775.00" y="220.00" width="5.30" height="5.30" fill="#00ffff"/>
<rect x="780.00" y="220.00" width="10.30" height="5.30" fill="#00c8aa"/>
<rect x="790.00" y="220.00" width="40.30" height="5.30" fill="#0000ff"/>
<rect x="830.00" y="220.00" width="20.30" height="5.30" fill="#00c8aa"/>
<rect x="850.00" y="220.00" width="20.30" height="5.30" fill="#00ffff"/>
<rect x="870.00" y="220.00" width="10.30" height="5.30" fill="#00c8aa"/>
<rect x="680.00" y="225.00" width="70.30" height="5.30" fill="#0000ff"/>
<rect x="750.00" y="225.00" width="5.30" height="5.30" fill="#00ffff"/>
<rect x="755.00" y="225.00" width="5.30" height="5.30" fill="#0000ff"/>
<rect x="760.00" y="225.00" width="5.30" height="5.30" fill="#00c8aa"/>
<rect x="765.00" y="225.00" width="10.30" height="5.30" fill="#00be82"/>
<rect x="775.00" y="225.00" width="5.30" height="5.30" fill="#00ffff"/>
<rect x="780.00" y="225.00" width="5.30" height="5.30" fill="#00c8aa"/>
<rect x="785.00" y="225.00" width="45.30" height="5.30" fill="#0000ff"/>
<rect x="830.00" y="225.00" width="30.30" height="5.30" fill="#00c8aa"/>
<rect x="860.00" y="225.00" width="5.30" height="5.30" fill="#00ffff"/>
<rect x="865.00" y="225.00" width="15.30" height="5.30" fill="#00c8aa"/>
<rect x="680.00" y="230.00" width="10.30" height="5.30" fill="#00c8aa"/>
<rect x="690.00" y="230.00" width="45.30" height="5.30" fill="#0000ff"/>
<rect x="735.00" y="230.00" width="5.30" height="5.30" fill="#00c8aa"/>
<rect x="740.00" y="230.00" width="5.30" height="5.30" fill="#00ffff"/>
<rect x="745.00" y="230.00" width="20.30" height="5.30" fill="#0000ff"/>
<rect x="765.00" y="230.00" width="5.30" height="5.30" fill="#00be82"/>
<rect x="770.00" y="230.00" width="5.30" height="5.30" fill="#00c046"/>
<rect x="775.00" y="230.00" width="5.30" height="5.30" fill="#00ffff"/>
<rect x="780.00" y="230.00" width="5.30" height="5.30" fill="#00c8aa"/>
<rect x="785.00" y="230.00" width="50.30" height="5.30" fill="#0000ff"/>
<rect x="835.00" y="230.00" width="10.30" height="5.30" fill="#00c8aa"/>
<rect x="845.00" y="230.00" width="35.30" height="5.30" fill="#0000ff"/>
<rect x="680.00" y="235.00" width="10.30" height="5.30" fill="#00ffff"/>
<rect x="690.00" y="235.00" width="40.30" height="5.30" fill="#0000ff"/>
<rect x="730.00" y="235.00" width="20.30" height="5.30" fill="#00c8aa"/>
<rect x="750.00" y="235.00" width="15.30" height="5.30" fill="#00ffff"/>
<rect x="765.00" y="235.00" width="5.30" height="5.30" fill="#00c046"/>
<rect x="770.00" y="235.00" width="5.30" height="5.30" fill="#d7f500"/>
<rect x="775.00" y="235.00" width="5.30" height="5.30" fill="#00ffff"/>
<rect x="780.00" y="235.00" width="5.30" height="5.30" fill="#00c8aa"/>
<rect x="785.00" y="235.00" width="55.30" height="5.30" fill="#0000ff"/>
<rect x="840.00" y="235.00" width="5.30" height="5.30" fill="#00c8aa"/>
<rect x="845.00" y="235.00" width="35.30" height="5.30" fill="#0000ff"/>
<rect x="680.00" y="240.00" width="5.30" height="5.30" fill="#00c8aa"/>
<rect x="685.00" y="240.00" width="65.30" height="5.30" fill="#0000ff"/>
<rect x="750.00" y="240.00" width="5.30" height="5.30" fill="#00c8aa"/>
<rect x="755.00" y="240.00" width="5.30" height="5.30" fill="#00ffff"/>
<rect x="760.00" y="240.00" width="5.30" height="5.30" fill="#0000ff"/>
<rect x="765.00" y="240.00" width="5.30" height="5.30" fill="#00c8aa"/>
<rect x="770.00" y="240.00" width="5.30" height="5.30" fill="#3cd700"/>
<rect x="775.00" y="240.00" width="10.30" height="5.30" fill="#00c8aa"/>
<rect x="785.00" y="240.00" width="45.30" height="5.30" fill="#0000ff"/>
<rect x="830.00" y="240.00" width="5.30" height="5.30" fill="#00c8aa"/>
<rect x="835.00" y="240.00" width="45.30" height="5.30" fill="#0000ff"/>
<rect x="680.00" y="245.00" width="75.30" height="5.30" fill="#0000ff"/>
<rect x="755.00" y="245.00" width="5.30" height="5.30" fill="#00c8aa"/>
<rect x="760.00" y="245.00" width="10.30" height="5.30" fill="#0000ff"/>
<rect x="770.00" y="245.00" width="5.30" height="5.30" fill="#00c8aa"/>
<rect x="775.00" y="245.00" width="5.30" height="5.30" fill="#00ffff"/>
<rect x="780.00" y="245.00" width="5.30" height="5.30" fill="#00c8aa"/>
<rect x="785.00" y="245.00" width="95.30" height="5.30" fill="#0000ff"/>
<rect x="680.00" y="250.00" width="30.30" height="5.30" fill="#0000ff"/>
<rect x="710.00" y="250.00" width="15.30" height="5.30" fill="#000000"/>
<rect x="725.00" y="250.00" width="5.30" height="5.30" fill="#00c8aa"/>
<rect x="730.00" y="250.00" width="40.30" height="5.30" fill="#0000ff"/>
<rect x="770.00" y="250.00" width="10.30" height="5.30" fill="#00c8aa"/>
<rect x="780.00" y="250.00" width="5.30" height="5.30" fill="#00ffff"/>
<rect x="785.00" y="250.00" width="95.30" height="5.30" fill="#0000ff"/>
<rect x="680.00" y="255.00" width="25.30" height="5.30" fill="#0000ff"/>
<rect x="705.00" y="255.00" width="10.30" height="5.30" fill="#000000"/>
<rect x="715.00" y="255.00" width="5.30" height="5.30" fill="#0000ff"/>
<rect x="720.00" y="255.00" width="10.30" height="5.30" fill="#000000"/>
<rect x="730.00" y="255.00" width="5.30" height="5.30" fill="#0000ff"/>
<rect x="735.00" y="255.00" width="10.30" height="5.30" fill="#000000"/>
<rect x="745.00" y="255.00" width="5.30" height="5.30" fill="#0000ff"/>
<rect x="750.00" y="255.00" width="10.30" height="5.30" fill="#000000"/>
<rect x="760.00" y="255.00" width="5.30" height="5.30" fill="#0000ff"/>
<rect x="765.00" y="255.00" width="5.30" height="5.30" fill="#000000"/>
<rect x="770.00" y="255.00" width="5.30" height="5.30" fill="#0000ff"/>
<rect x="775.00" y="255.00" width="10.30" height="5.30" fill="#00c8aa"/>
<rect x="785.00" y="255.00" width="95.30" height="5.30" fill="#0000ff"/>
<rect x="680.00" y="260.00" width="10.30" height="5.30" fill="#0000ff"/>
<rect x="690.00" y="260.00" width="10.30" height="5.30" fill="#000000"/>
<rect x="700.00" y="260.00" width="10.30" height="5.30" fill="#0000ff"/>
<rect x="710.00" y="260.00" width="15.30" height="5.30" fill="#000000"/>
<rect x="725.00" y="260.00" width="5.30" height="5.30" fill="#0000ff"/>
<rect x="730.00" y="260.00" width="10.30" height="5.30" fill="#000000"/>
<rect x="740.00" y="260.00" width="5.30" height="5.30" fill="#0000ff"/>
<rect x="745.00" y="260.00" width="20.30" height="5.30" fill="#000000"/>
<rect x="765.00" y="260.00" width="10.30" height="5.30" fill="#0000ff"/>
<rect x="775.00" y="260.00" width="10.30" height="5.30" fill="#00c8aa"/>
<rect x="785.00" y="260.00" width="95.30" height="5.30" fill="#0000ff"/>
<rect x="680.00" y="265.00" width="5.30" height="5.30" fill="#0000ff"/>
<rect x="685.00" y="265.00" width="20.30" height="5.30" fill="#000000"/>
<rect x="705.00" y="265.00" width="5.30" height="5.30" fill="#0000ff"/>
<rect x="710.00" y="265.00" width="55.30" height="5.30" fill="#000000"/>
<rect x="765.00" y="265.00" width="10.30" height="5.30" fill="#0000ff"/>
<rect x="775.00" y="265.00" width="10.30" height="5.30" fill="#00c8aa"/>
<rect x="785.00" y="265.00" width="95.30" height="5.30" fill="#0000ff"/>
</g>
<polygon points="851.2,232.5 856.0,227.7 860.8,222.9 865.7,221.1 871.7,215.7 875.3,210.9 877.2,207.2 877.2,216.9 872.9,221.1 866.9,225.3 860.8,229.0 854.8,231.4" fill="#20e8d8"/>
<polygon points="820.4,266.3 825.9,259.1 833.1,249.5 840.3,242.8 847.6,235.0 854.8,231.4 860.8,229.0 866.9,225.3 872.9,221.1 877.2,216.9 877.2,266.3" fill="#fccb98"/>
<polyline points="820.4,266.3 825.9,259.1 833.1,249.5 840.3,242.8 847.6,235.0 854.8,231.4 860.8,229.0 866.9,225.3 872.9,221.1 877.2,216.9" fill="none" stroke="#000" stroke-width="1.3"/>
<polyline points="820.4,266.3 825.9,259.1 833.1,249.5 840.3,242.8" fill="none" stroke="#000" stroke-width="2.6"/>
<polyline points="851.2,232.5 856.0,227.7 860.8,222.9 865.7,221.1 871.7,215.7 875.3,210.9 877.2,207.2" fill="none" stroke="#000" stroke-width="1"/>
<circle cx="778.7" cy="151" r="5" fill="none" stroke="#000" stroke-width="1.2"/>
<path d="M724.4 35.5v-3M724.4 267.5v3 M798.8 35.5v-3M798.8 267.5v3 M873.5 35.5v-3M873.5 267.5v3 M679.6 39.5h-3M877.5 39.5h3 M679.6 78.2h-3M877.5 78.2h3 M679.6 116.9h-3M877.5 116.9h3 M679.6 155.6h-3M877.5 155.6h3 M679.6 194.3h-3M877.5 194.3h3 M679.6 233.0h-3M877.5 233.0h3" stroke="#000" stroke-width="1.2" fill="none"/>
<rect x="679.6" y="35.5" width="197.9" height="232.0" stroke="#000" stroke-width="1.3" fill="none"/>
<text x="673.5" y="43.2" font-size="12.4" text-anchor="end" font-weight="bold" fill="#000" >-34</text>
<text x="673.5" y="81.9" font-size="12.4" text-anchor="end" font-weight="bold" fill="#000" >-36</text>
<text x="673.5" y="120.6" font-size="12.4" text-anchor="end" font-weight="bold" fill="#000" >-38</text>
<text x="673.5" y="159.3" font-size="12.4" text-anchor="end" font-weight="bold" fill="#000" >-40</text>
<text x="673.5" y="198.0" font-size="12.4" text-anchor="end" font-weight="bold" fill="#000" >-42</text>
<text x="673.5" y="236.7" font-size="12.4" text-anchor="end" font-weight="bold" fill="#000" >-44</text>
<text x="723.6" y="283.6" font-size="12.4" text-anchor="middle" font-weight="bold" fill="#000" >160</text>
<text x="798.0" y="283.6" font-size="12.4" text-anchor="middle" font-weight="bold" fill="#000" >165</text>
<text x="872.7" y="283.6" font-size="12.4" text-anchor="middle" font-weight="bold" fill="#000" >170</text>
<text x="701.6" y="26.1" font-size="12.4" text-anchor="start" font-weight="bold" fill="#000" textLength="150.2" lengthAdjust="spacingAndGlyphs">sat. SST: 18.7 Argo: 18.4</text>
<clipPath id="cp_map2"><rect x="681" y="326" width="196" height="230"/></clipPath><g clip-path="url(#cp_map2)">
<filter id="bl_map2" x="-10%" y="-10%" width="120%" height="120%" color-interpolation-filters="sRGB"><feGaussianBlur stdDeviation="1.8"/></filter><g filter="url(#bl_map2)">
<rect x="670.00" y="315.00" width="20.30" height="5.30" fill="#d86800"/>
<rect x="690.00" y="315.00" width="5.30" height="5.30" fill="#f09000"/>
<rect x="695.00" y="315.00" width="20.30" height="5.30" fill="#ffb800"/>
<rect x="715.00" y="315.00" width="5.30" height="5.30" fill="#f2e400"/>
<rect x="720.00" y="315.00" width="5.30" height="5.30" fill="#d4f800"/>
<rect x="725.00" y="315.00" width="5.30" height="5.30" fill="#b0f000"/>
<rect x="730.00" y="315.00" width="5.30" height="5.30" fill="#30dc00"/>
<rect x="735.00" y="315.00" width="15.30" height="5.30" fill="#00d600"/>
<rect x="750.00" y="315.00" width="5.30" height="5.30" fill="#30dc00"/>
<rect x="755.00" y="315.00" width="10.30" height="5.30" fill="#80e800"/>
<rect x="765.00" y="315.00" width="5.30" height="5.30" fill="#b0f000"/>
<rect x="770.00" y="315.00" width="20.30" height="5.30" fill="#d4f800"/>
<rect x="790.00" y="315.00" width="10.30" height="5.30" fill="#b0f000"/>
<rect x="800.00" y="315.00" width="15.30" height="5.30" fill="#80e800"/>
<rect x="815.00" y="315.00" width="10.30" height="5.30" fill="#30dc00"/>
<rect x="825.00" y="315.00" width="5.30" height="5.30" fill="#80e800"/>
<rect x="830.00" y="315.00" width="5.30" height="5.30" fill="#b0f000"/>
<rect x="835.00" y="315.00" width="5.30" height="5.30" fill="#d4f800"/>
<rect x="840.00" y="315.00" width="5.30" height="5.30" fill="#f2e400"/>
<rect x="845.00" y="315.00" width="10.30" height="5.30" fill="#d4f800"/>
<rect x="855.00" y="315.00" width="35.30" height="5.30" fill="#30dc00"/>
<rect x="670.00" y="320.00" width="20.30" height="5.30" fill="#d86800"/>
<rect x="690.00" y="320.00" width="5.30" height="5.30" fill="#f09000"/>
<rect x="695.00" y="320.00" width="20.30" height="5.30" fill="#ffb800"/>
<rect x="715.00" y="320.00" width="5.30" height="5.30" fill="#f2e400"/>
<rect x="720.00" y="320.00" width="5.30" height="5.30" fill="#d4f800"/>
<rect x="725.00" y="320.00" width="5.30" height="5.30" fill="#b0f000"/>
<rect x="730.00" y="320.00" width="5.30" height="5.30" fill="#30dc00"/>
<rect x="735.00" y="320.00" width="15.30" height="5.30" fill="#00d600"/>
<rect x="750.00" y="320.00" width="5.30" height="5.30" fill="#30dc00"/>
<rect x="755.00" y="320.00" width="10.30" height="5.30" fill="#80e800"/>
<rect x="765.00" y="320.00" width="5.30" height="5.30" fill="#b0f000"/>
<rect x="770.00" y="320.00" width="20.30" height="5.30" fill="#d4f800"/>
<rect x="790.00" y="320.00" width="10.30" height="5.30" fill="#b0f000"/>
<rect x="800.00" y="320.00" width="15.30" height="5.30" fill="#80e800"/>
<rect x="815.00" y="320.00" width="10.30" height="5.30" fill="#30dc00"/>
<rect x="825.00" y="320.00" width="5.30" height="5.30" fill="#80e800"/>
<rect x="830.00" y="320.00" width="5.30" height="5.30" fill="#b0f000"/>
<rect x="835.00" y="320.00" width="5.30" height="5.30" fill="#d4f800"/>
<rect x="840.00" y="320.00" width="5.30" height="5.30" fill="#f2e400"/>
<rect x="845.00" y="320.00" width="10.30" height="5.30" fill="#d4f800"/>
<rect x="855.00" y="320.00" width="35.30" height="5.30" fill="#30dc00"/>
<rect x="670.00" y="325.00" width="20.30" height="5.30" fill="#d86800"/>
<rect x="690.00" y="325.00" width="5.30" height="5.30" fill="#f09000"/>
<rect x="695.00" y="325.00" width="20.30" height="5.30" fill="#ffb800"/>
<rect x="715.00" y="325.00" width="5.30" height="5.30" fill="#f2e400"/>
<rect x="720.00" y="325.00" width="5.30" height="5.30" fill="#d4f800"/>
<rect x="725.00" y="325.00" width="5.30" height="5.30" fill="#b0f000"/>
<rect x="730.00" y="325.00" width="5.30" height="5.30" fill="#30dc00"/>
<rect x="735.00" y="325.00" width="15.30" height="5.30" fill="#00d600"/>
<rect x="750.00" y="325.00" width="5.30" height="5.30" fill="#30dc00"/>
<rect x="755.00" y="325.00" width="10.30" height="5.30" fill="#80e800"/>
<rect x="765.00" y="325.00" width="5.30" height="5.30" fill="#b0f000"/>
<rect x="770.00" y="325.00" width="20.30" height="5.30" fill="#d4f800"/>
<rect x="790.00" y="325.00" width="10.30" height="5.30" fill="#b0f000"/>
<rect x="800.00" y="325.00" width="15.30" height="5.30" fill="#80e800"/>
<rect x="815.00" y="325.00" width="10.30" height="5.30" fill="#30dc00"/>
<rect x="825.00" y="325.00" width="5.30" height="5.30" fill="#80e800"/>
<rect x="830.00" y="325.00" width="5.30" height="5.30" fill="#b0f000"/>
<rect x="835.00" y="325.00" width="5.30" height="5.30" fill="#d4f800"/>
<rect x="840.00" y="325.00" width="5.30" height="5.30" fill="#f2e400"/>
<rect x="845.00" y="325.00" width="10.30" height="5.30" fill="#d4f800"/>
<rect x="855.00" y="325.00" width="35.30" height="5.30" fill="#30dc00"/>
<rect x="670.00" y="330.00" width="20.30" height="5.30" fill="#d86800"/>
<rect x="690.00" y="330.00" width="5.30" height="5.30" fill="#f09000"/>
<rect x="695.00" y="330.00" width="15.30" height="5.30" fill="#ffb800"/>
<rect x="710.00" y="330.00" width="10.30" height="5.30" fill="#f2e400"/>
<rect x="720.00" y="330.00" width="5.30" height="5.30" fill="#d4f800"/>
<rect x="725.00" y="330.00" width="5.30" height="5.30" fill="#80e800"/>
<rect x="730.00" y="330.00" width="5.30" height="5.30" fill="#30dc00"/>
<rect x="735.00" y="330.00" width="15.30" height="5.30" fill="#00d600"/>
<rect x="750.00" y="330.00" width="10.30" height="5.30" fill="#30dc00"/>
<rect x="760.00" y="330.00" width="5.30" height="5.30" fill="#80e800"/>
<rect x="765.00" y="330.00" width="5.30" height="5.30" fill="#b0f000"/>
<rect x="770.00" y="330.00" width="5.30" height="5.30" fill="#d4f800"/>
<rect x="775.00" y="330.00" width="5.30" height="5.30" fill="#b0f000"/>
<rect x="780.00" y="330.00" width="5.30" height="5.30" fill="#d4f800"/>
<rect x="785.00" y="330.00" width="5.30" height="5.30" fill="#b0f000"/>
<rect x="790.00" y="330.00" width="10.30" height="5.30" fill="#80e800"/>
<rect x="800.00" y="330.00" width="15.30" height="5.30" fill="#30dc00"/>
<rect x="815.00" y="330.00" width="15.30" height="5.30" fill="#00d600"/>
<rect x="830.00" y="330.00" width="5.30" height="5.30" fill="#80e800"/>
<rect x="835.00" y="330.00" width="5.30" height="5.30" fill="#b0f000"/>
<rect x="840.00" y="330.00" width="10.30" height="5.30" fill="#f2e400"/>
<rect x="850.00" y="330.00" width="5.30" height="5.30" fill="#d4f800"/>
<rect x="855.00" y="330.00" width="5.30" height="5.30" fill="#80e800"/>
<rect x="860.00" y="330.00" width="30.30" height="5.30" fill="#30dc00"/>
<rect x="670.00" y="335.00" width="15.30" height="5.30" fill="#ff0000"/>
<rect x="685.00" y="335.00" width="5.30" height="5.30" fill="#d86800"/>
<rect x="690.00" y="335.00" width="10.30" height="5.30" fill="#f09000"/>
<rect x="700.00" y="335.00" width="10.30" height="5.30" fill="#ffb800"/>
<rect x="710.00" y="335.00" width="5.30" height="5.30" fill="#f2e400"/>
<rect x="715.00" y="335.00" width="5.30" height="5.30" fill="#d4f800"/>
<rect x="720.00" y="335.00" width="5.30" height="5.30" fill="#b0f000"/>
<rect x="725.00" y="335.00" width="5.30" height="5.30" fill="#30dc00"/>
<rect x="730.00" y="335.00" width="5.30" height="5.30" fill="#00d600"/>
<rect x="735.00" y="335.00" width="15.30" height="5.30" fill="#00c434"/>
<rect x="750.00" y="335.00" width="5.30" height="5.30" fill="#00d600"/>
<rect x="755.00" y="335.00" width="5.30" height="5.30" fill="#30dc00"/>
<rect x="760.00" y="335.00" width="5.30" height="5.30" fill="#80e800"/>
<rect x="765.00" y="335.00" width="5.30" height="5.30" fill="#b0f000"/>
<rect x="770.00" y="335.00" width="10.30" height="5.30" fill="#80e800"/>
<rect x="780.00" y="335.00" width="5.30" height="5.30" fill="#b0f000"/>
<rect x="785.00" y="335.00" width="5.30" height="5.30" fill="#80e800"/>
<rect x="790.00" y="335.00" width="5.30" height="5.30" fill="#30dc00"/>
<rect x="795.00" y="335.00" width="40.30" height="5.30" fill="#00d600"/>
<rect x="835.00" y="335.00" width="5.30" height="5.30" fill="#80e800"/>
<rect x="840.00" y="335.00" width="5.30" height="5.30" fill="#d4f800"/>
<rect x="845.00" y="335.00" width="5.30" height="5.30" fill="#f2e400"/>
<rect x="850.00" y="335.00" width="5.30" height="5.30" fill="#d4f800"/>
<rect x="855.00" y="335.00" width="5.30" height="5.30" fill="#b0f000"/>
<rect x="860.00" y="335.00" width="5.30" height="5.30" fill="#80e800"/>
<rect x="865.00" y="335.00" width="10.30" height="5.30" fill="#30dc00"/>
<rect x="875.00" y="335.00" width="15.30" height="5.30" fill="#80e800"/>
<rect x="670.00" y="340.00" width="15.30" height="5.30" fill="#ff0000"/>
<rect x="685.00" y="340.00" width="5.30" height="5.30" fill="#d86800"/>
<rect x="690.00" y="340.00" width="5.30" height="5.30" fill="#f09000"/>
<rect x="695.00" y="340.00" width="10.30" height="5.30" fill="#ffb800"/>
<rect x="705.00" y="340.00" width="5.30" height="5.30" fill="#f2e400"/>
<rect x="710.00" y="340.00" width="10.30" height="5.30" fill="#d4f800"/>
<rect x="720.00" y="340.00" width="5.30" height="5.30" fill="#30dc00"/>
<rect x="725.00" y="340.00" width="10.30" height="5.30" fill="#00d600"/>
<rect x="735.00" y="340.00" width="5.30" height="5.30" fill="#00c434"/>
<rect x="740.00" y="340.00" width="5.30" height="5.30" fill="#00b070"/>
<rect x="745.00" y="340.00" width="5.30" height="5.30" fill="#00c434"/>
<rect x="750.00" y="340.00" width="5.30" height="5.30" fill="#00d600"/>
<rect x="755.00" y="340.00" width="5.30" height="5.30" fill="#30dc00"/>
<rect x="760.00" y="340.00" width="15.30" height="5.30" fill="#80e800"/>
<rect x="775.00" y="340.00" width="15.30" height="5.30" fill="#30dc00"/>
<rect x="790.00" y="340.00" width="10.30" height="5.30" fill="#00d600"/>
<rect x="800.00" y="340.00" width="5.30" height="5.30" fill="#00c434"/>
<rect x="805.00" y="340.00" width="10.30" height="5.30" fill="#00d600"/>
<rect x="815.00" y="340.00" width="10.30" height="5.30" fill="#00c434"/>
<rect x="825.00" y="340.00" width="10.30" height="5.30" fill="#00d600"/>
<rect x="835.00" y="340.00" width="5.30" height="5.30" fill="#30dc00"/>
<rect x="840.00" y="340.00" width="15.30" height="5.30" fill="#d4f800"/>
<rect x="855.00" y="340.00" width="5.30" height="5.30" fill="#b0f000"/>
<rect x="860.00" y="340.00" width="10.30" height="5.30" fill="#80e800"/>
<rect x="870.00" y="340.00" width="5.30" height="5.30" fill="#30dc00"/>
<rect x="875.00" y="340.00" width="15.30" height="5.30" fill="#80e800"/>
<rect x="670.00" y="345.00" width="15.30" height="5.30" fill="#d86800"/>
<rect x="685.00" y="345.00" width="5.30" height="5.30" fill="#f09000"/>
<rect x="690.00" y="345.00" width="15.30" height="5.30" fill="#ffb800"/>
<rect x="705.00" y="345.00" width="5.30" height="5.30" fill="#f2e400"/>
<rect x="710.00" y="345.00" width="5.30" height="5.30" fill="#d4f800"/>
<rect x="715.00" y="345.00" width="5.30" height="5.30" fill="#80e800"/>
<rect x="720.00" y="345.00" width="5.30" height="5.30" fill="#30dc00"/>
<rect x="725.00" y="345.00" width="5.30" height="5.30" fill="#00d600"/>
<rect x="730.00" y="345.00" width="10.30" height="5.30" fill="#00c434"/>
<rect x="740.00" y="345.00" width="5.30" height="5.30" fill="#00b070"/>
<rect x="745.00" y="345.00" width="5.30" height="5.30" fill="#00c434"/>
<rect x="750.00" y="345.00" width="10.30" height="5.30" fill="#00d600"/>
<rect x="760.00" y="345.00" width="5.30" height="5.30" fill="#30dc00"/>
<rect x="765.00" y="345.00" width="10.30" height="5.30" fill="#80e800"/>
<rect x="775.00" y="345.00" width="5.30" height="5.30" fill="#30dc00"/>
<rect x="780.00" y="345.00" width="35.30" height="5.30" fill="#00d600"/>
<rect x="815.00" y="345.00" width="10.30" height="5.30" fill="#00c434"/>
<rect x="825.00" y="345.00" width="15.30" height="5.30" fill="#00d600"/>
<rect x="840.00" y="345.00" width="5.30" height="5.30" fill="#b0f000"/>
<rect x="845.00" y="345.00" width="10.30" height="5.30" fill="#d4f800"/>
<rect x="855.00" y="345.00" width="5.30" height="5.30" fill="#b0f000"/>
<rect x="860.00" y="345.00" width="30.30" height="5.30" fill="#80e800"/>
<rect x="670.00" y="350.00" width="15.30" height="5.30" fill="#f09000"/>
<rect x="685.00" y="350.00" width="10.30" height="5.30" fill="#ffb800"/>
<rect x="695.00" y="350.00" width="10.30" height="5.30" fill="#f2e400"/>
<rect x="705.00" y="350.00" width="5.30" height="5.30" fill="#d4f800"/>
<rect x="710.00" y="350.00" width="5.30" height="5.30" fill="#b0f000"/>
<rect x="715.00" y="350.00" width="5.30" height="5.30" fill="#30dc00"/>
<rect x="720.00" y="350.00" width="10.30" height="5.30" fill="#00d600"/>
<rect x="730.00" y="350.00" width="25.30" height="5.30" fill="#00c434"/>
<rect x="755.00" y="350.00" width="5.30" height="5.30" fill="#00d600"/>
<rect x="760.00" y="350.00" width="10.30" height="5.30" fill="#30dc00"/>
<rect x="770.00" y="350.00" width="10.30" height="5.30" fill="#80e800"/>
<rect x="780.00" y="350.00" width="5.30" height="5.30" fill="#30dc00"/>
<rect x="785.00" y="350.00" width="55.30" height="5.30" fill="#00d600"/>
<rect x="840.00" y="350.00" width="5.30" height="5.30" fill="#80e800"/>
<rect x="845.00" y="350.00" width="10.30" height="5.30" fill="#b0f000"/>
<rect x="855.00" y="350.00" width="5.30" height="5.30" fill="#80e800"/>
<rect x="860.00" y="350.00" width="5.30" height="5.30" fill="#30dc00"/>
<rect x="865.00" y="350.00" width="10.30" height="5.30" fill="#80e800"/>
<rect x="875.00" y="350.00" width="15.30" height="5.30" fill="#30dc00"/>
<rect x="670.00" y="355.00" width="15.30" height="5.30" fill="#ffb800"/>
<rect x="685.00" y="355.00" width="15.30" height="5.30" fill="#f2e400"/>
<rect x="700.00" y="355.00" width="10.30" height="5.30" fill="#d4f800"/>
<rect x="710.00" y="355.00" width="5.30" height="5.30" fill="#b0f000"/>
<rect x="715.00" y="355.00" width="5.30" height="5.30" fill="#30dc00"/>
<rect x="720.00" y="355.00" width="10.30" height="5.30" fill="#00d600"/>
<rect x="730.00" y="355.00" width="20.30" height="5.30" fill="#00c434"/>
<rect x="750.00" y="355.00" width="10.30" height="5.30" fill="#00d600"/>
<rect x="760.00" y="355.00" width="5.30" height="5.30" fill="#30dc00"/>
<rect x="765.00" y="355.00" width="5.30" height="5.30" fill="#80e800"/>
<rect x="770.00" y="355.00" width="5.30" height="5.30" fill="#b0f000"/>
<rect x="775.00" y="355.00" width="5.30" height="5.30" fill="#80e800"/>
<rect x="780.00" y="355.00" width="5.30" height="5.30" fill="#b0f000"/>
<rect x="785.00" y="355.00" width="5.30" height="5.30" fill="#80e800"/>
<rect x="790.00" y="355.00" width="10.30" height="5.30" fill="#30dc00"/>
<rect x="800.00" y="355.00" width="40.30" height="5.30" fill="#00d600"/>
<rect x="840.00" y="355.00" width="25.30" height="5.30" fill="#30dc00"/>
<rect x="865.00" y="355.00" width="10.30" height="5.30" fill="#80e800"/>
<rect x="875.00" y="355.00" width="15.30" height="5.30" fill="#30dc00"/>
<rect x="670.00" y="360.00" width="15.30" height="5.30" fill="#b0f000"/>
<rect x="685.00" y="360.00" width="10.30" height="5.30" fill="#d4f800"/>
<rect x="695.00" y="360.00" width="5.30" height="5.30" fill="#f2e400"/>
<rect x="700.00" y="360.00" width="10.30" height="5.30" fill="#d4f800"/>
<rect x="710.00" y="360.00" width="5.30" height="5.30" fill="#b0f000"/>
<rect x="715.00" y="360.00" width="5.30" height="5.30" fill="#30dc00"/>
<rect x="720.00" y="360.00" width="10.30" height="5.30" fill="#00d600"/>
<rect x="730.00" y="360.00" width="5.30" height="5.30" fill="#30dc00"/>
<rect x="735.00" y="360.00" width="15.30" height="5.30" fill="#00d600"/>
<rect x="750.00" y="360.00" width="5.30" height="5.30" fill="#00c434"/>
<rect x="755.00" y="360.00" width="5.30" height="5.30" fill="#00d600"/>
<rect x="760.00" y="360.00" width="10.30" height="5.30" fill="#30dc00"/>
<rect x="770.00" y="360.00" width="5.30" height="5.30" fill="#80e800"/>
<rect x="775.00" y="360.00" width="5.30" height="5.30" fill="#b0f000"/>
<rect x="780.00" y="360.00" width="5.30" height="5.30" fill="#d4f800"/>
<rect x="785.00" y="360.00" width="10.30" height="5.30" fill="#80e800"/>
<rect x="795.00" y="360.00" width="10.30" height="5.30" fill="#30dc00"/>
<rect x="805.00" y="360.00" width="10.30" height="5.30" fill="#00d600"/>
<rect x="815.00" y="360.00" width="10.30" height="5.30" fill="#30dc00"/>
<rect x="825.00" y="360.00" width="20.30" height="5.30" fill="#00d600"/>
<rect x="845.00" y="360.00" width="15.30" height="5.30" fill="#30dc00"/>
<rect x="860.00" y="360.00" width="5.30" height="5.30" fill="#80e800"/>
<rect x="865.00" y="360.00" width="5.30" height="5.30" fill="#b0f000"/>
<rect x="870.00" y="360.00" width="5.30" height="5.30" fill="#80e800"/>
<rect x="875.00" y="360.00" width="15.30" height="5.30" fill="#30dc00"/>
<rect x="670.00" y="365.00" width="15.30" height="5.30" fill="#30dc00"/>
<rect x="685.00" y="365.00" width="5.30" height="5.30" fill="#80e800"/>
<rect x="690.00" y="365.00" width="5.30" height="5.30" fill="#b0f000"/>
<rect x="695.00" y="365.00" width="10.30" height="5.30" fill="#f2e400"/>
<rect x="705.00" y="365.00" width="5.30" height="5.30" fill="#d4f800"/>
<rect x="710.00" y="365.00" width="5.30" height="5.30" fill="#b0f000"/>
<rect x="715.00" y="365.00" width="5.30" height="5.30" fill="#80e800"/>
<rect x="720.00" y="365.00" width="5.30" height="5.30" fill="#30dc00"/>
<rect x="725.00" y="365.00" width="5.30" height="5.30" fill="#80e800"/>
<rect x="730.00" y="365.00" width="5.30" height="5.30" fill="#b0f000"/>
<rect x="735.00" y="365.00" width="5.30" height="5.30" fill="#30dc00"/>
<rect x="740.00" y="365.00" width="10.30" height="5.30" fill="#00d600"/>
<rect x="750.00" y="365.00" width="10.30" height="5.30" fill="#00c434"/>
<rect x="760.00" y="365.00" width="5.30" height="5.30" fill="#00d600"/>
<rect x="765.00" y="365.00" width="5.30" height="5.30" fill="#30dc00"/>
<rect x="770.00" y="365.00" width="5.30" height="5.30" fill="#80e800"/>
<rect x="775.00" y="365.00" width="5.30" height="5.30" fill="#b0f000"/>
<rect x="780.00" y="365.00" width="5.30" height="5.30" fill="#d4f800"/>
<rect x="785.00" y="365.00" width="5.30" height="5.30" fill="#80e800"/>
<rect x="790.00" y="365.00" width="10.30" height="5.30" fill="#30dc00"/>
<rect x="800.00" y="365.00" width="15.30" height="5.30" fill="#00d600"/>
<rect x="815.00" y="365.00" width="5.30" height="5.30" fill="#80e800"/>
<rect x="820.00" y="365.00" width="5.30" height="5.30" fill="#b0f000"/>
<rect x="825.00" y="365.00" width="5.30" height="5.30" fill="#80e800"/>
<rect x="830.00" y="365.00" width="25.30" height="5.30" fill="#00d600"/>
<rect x="855.00" y="365.00" width="5.30" height="5.30" fill="#30dc00"/>
<rect x="860.00" y="365.00" width="5.30" height="5.30" fill="#80e800"/>
<rect x="865.00" y="365.00" width="5.30" height="5.30" fill="#b0f000"/>
<rect x="870.00" y="365.00" width="5.30" height="5.30" fill="#80e800"/>
<rect x="875.00" y="365.00" width="15.30" height="5.30" fill="#30dc00"/>
<rect x="670.00" y="370.00" width="20.30" height="5.30" fill="#30dc00"/>
<rect x="690.00" y="370.00" width="5.30" height="5.30" fill="#b0f000"/>
<rect x="695.00" y="370.00" width="5.30" height="5.30" fill="#d4f800"/>
<rect x="700.00" y="370.00" width="10.30" height="5.30" fill="#f2e400"/>
<rect x="710.00" y="370.00" width="5.30" height="5.30" fill="#d4f800"/>
<rect x="715.00" y="370.00" width="5.30" height="5.30" fill="#80e800"/>
<rect x="720.00" y="370.00" width="5.30" height="5.30" fill="#00d600"/>
<rect x="725.00" y="370.00" width="10.30" height="5.30" fill="#b0f000"/>
<rect x="735.00" y="370.00" width="5.30" height="5.30" fill="#80e800"/>
<rect x="740.00" y="370.00" width="5.30" height="5.30" fill="#30dc00"/>
<rect x="745.00" y="370.00" width="10.30" height="5.30" fill="#00d600"/>
<rect x="755.00" y="370.00" width="5.30" height="5.30" fill="#00c434"/>
<rect x="760.00" y="370.00" width="5.30" height="5.30" fill="#00d600"/>
<rect x="765.00" y="370.00" width="5.30" height="5.30" fill="#30dc00"/>
<rect x="770.00" y="370.00" width="5.30" height="5.30" fill="#80e800"/>
<rect x="775.00" y="370.00" width="5.30" height="5.30" fill="#b0f000"/>
<rect x="780.00" y="370.00" width="5.30" height="5.30" fill="#80e800"/>
<rect x="785.00" y="370.00" width="5.30" height="5.30" fill="#30dc00"/>
<rect x="790.00" y="370.00" width="25.30" height="5.30" fill="#00d600"/>
<rect x="815.00" y="370.00" width="5.30" height="5.30" fill="#b0f000"/>
<rect x="820.00" y="370.00" width="5.30" height="5.30" fill="#d4f800"/>
<rect x="825.00" y="370.00" width="5.30" height="5.30" fill="#b0f000"/>
<rect x="830.00" y="370.00" width="5.30" height="5.30" fill="#30dc00"/>
<rect x="835.00" y="370.00" width="20.30" height="5.30" fill="#00d600"/>
<rect x="855.00" y="370.00" width="5.30" height="5.30" fill="#30dc00"/>
<rect x="860.00" y="370.00" width="5.30" height="5.30" fill="#80e800"/>
<rect x="865.00" y="370.00" width="10.30" height="5.30" fill="#b0f000"/>
<rect x="875.00" y="370.00" width="15.30" height="5.30" fill="#30dc00"/>
<rect x="670.00" y="375.00" width="20.30" height="5.30" fill="#30dc00"/>
<rect x="690.00" y="375.00" width="5.30" height="5.30" fill="#80e800"/>
<rect x="695.00" y="375.00" width="5.30" height="5.30" fill="#d4f800"/>
<rect x="700.00" y="375.00" width="10.30" height="5.30" fill="#f2e400"/>
<rect x="710.00" y="375.00" width="5.30" height="5.30" fill="#d4f800"/>
<rect x="715.00" y="375.00" width="5.30" height="5.30" fill="#80e800"/>
<rect x="720.00" y="375.00" width="5.30" height="5.30" fill="#30dc00"/>
<rect x="725.00" y="375.00" width="5.30" height="5.30" fill="#b0f000"/>
<rect x="730.00" y="375.00" width="5.30" height="5.30" fill="#d4f800"/>
<rect x="735.00" y="375.00" width="5.30" height="5.30" fill="#b0f000"/>
<rect x="740.00" y="375.00" width="10.30" height="5.30" fill="#30dc00"/>
<rect x="750.00" y="375.00" width="15.30" height="5.30" fill="#00d600"/>
<rect x="765.00" y="375.00" width="10.30" height="5.30" fill="#30dc00"/>
<rect x="775.00" y="375.00" width="10.30" height="5.30" fill="#80e800"/>
<rect x="785.00" y="375.00" width="5.30" height="5.30" fill="#30dc00"/>
<rect x="790.00" y="375.00" width="20.30" height="5.30" fill="#00d600"/>
<rect x="810.00" y="375.00" width="5.30" height="5.30" fill="#30dc00"/>
<rect x="815.00" y="375.00" width="5.30" height="5.30" fill="#b0f000"/>
<rect x="820.00" y="375.00" width="10.30" height="5.30" fill="#d4f800"/>
<rect x="830.00" y="375.00" width="5.30" height="5.30" fill="#80e800"/>
<rect x="835.00" y="375.00" width="5.30" height="5.30" fill="#30dc00"/>
<rect x="840.00" y="375.00" width="15.30" height="5.30" fill="#00d600"/>
<rect x="855.00" y="375.00" width="5.30" height="5.30" fill="#30dc00"/>
<rect x="860.00" y="375.00" width="5.30" height="5.30" fill="#80e800"/>
<rect x="865.00" y="375.00" width="5.30" height="5.30" fill="#b0f000"/>
<rect x="870.00" y="375.00" width="5.30" height="5.30" fill="#80e800"/>
<rect x="875.00" y="375.00" width="15.30" height="5.30" fill="#30dc00"/>
<rect x="670.00" y="380.00" width="15.30" height="5.30" fill="#80e800"/>
<rect x="685.00" y="380.00" width="5.30" height="5.30" fill="#b0f000"/>
<rect x="690.00" y="380.00" width="10.30" height="5.30" fill="#d4f800"/>
<rect x="700.00" y="380.00" width="10.30" height="5.30" fill="#ffb800"/>
<rect x="710.00" y="380.00" width="5.30" height="5.30" fill="#d4f800"/>
<rect x="715.00" y="380.00" width="5.30" height="5.30" fill="#b0f000"/>
<rect x="720.00" y="380.00" width="5.30" height="5.30" fill="#80e800"/>
<rect x="725.00" y="380.00" width="5.30" height="5.30" fill="#b0f000"/>
<rect x="730.00" y="380.00" width="5.30" height="5.30" fill="#d4f800"/>
<rect x="735.00" y="380.00" width="5.30" height="5.30" fill="#b0f000"/>
<rect x="740.00" y="380.00" width="5.30" height="5.30" fill="#80e800"/>
<rect x="745.00" y="380.00" width="10.30" height="5.30" fill="#30dc00"/>
<rect x="755.00" y="380.00" width="15.30" height="5.30" fill="#00d600"/>
<rect x="770.00" y="380.00" width="5.30" height="5.30" fill="#30dc00"/>
<rect x="775.00" y="380.00" width="5.30" height="5.30" fill="#80e800"/>
<rect x="780.00" y="380.00" width="10.30" height="5.30" fill="#30dc00"/>
<rect x="790.00" y="380.00" width="20.30" height="5.30" fill="#00d600"/>
<rect x="810.00" y="380.00" width="5.30" height="5.30" fill="#30dc00"/>
<rect x="815.00" y="380.00" width="5.30" height="5.30" fill="#b0f000"/>
<rect x="820.00" y="380.00" width="10.30" height="5.30" fill="#d4f800"/>
<rect x="830.00" y="380.00" width="5.30" height="5.30" fill="#b0f000"/>
<rect x="835.00" y="380.00" width="5.30" height="5.30" fill="#30dc00"/>
<rect x="840.00" y="380.00" width="20.30" height="5.30" fill="#00d600"/>
<rect x="860.00" y="380.00" width="15.30" height="5.30" fill="#80e800"/>
<rect x="875.00" y="380.00" width="15.30" height="5.30" fill="#30dc00"/>
<rect x="670.00" y="385.00" width="15.30" height="5.30" fill="#b0f000"/>
<rect x="685.00" y="385.00" width="5.30" height="5.30" fill="#d4f800"/>
<rect x="690.00" y="385.00" width="5.30" height="5.30" fill="#f2e400"/>
<rect x="695.00" y="385.00" width="15.30" height="5.30" fill="#ffb800"/>
<rect x="710.00" y="385.00" width="10.30" height="5.30" fill="#f2e400"/>
<rect x="720.00" y="385.00" width="5.30" height="5.30" fill="#d4f800"/>
<rect x="725.00" y="385.00" width="10.30" height="5.30" fill="#80e800"/>
<rect x="735.00" y="385.00" width="15.30" height="5.30" fill="#b0f000"/>
<rect x="750.00" y="385.00" width="35.30" height="5.30" fill="#80e800"/>
<rect x="785.00" y="385.00" width="30.30" height="5.30" fill="#30dc00"/>
<rect x="815.00" y="385.00" width="5.30" height="5.30" fill="#80e800"/>
<rect x="820.00" y="385.00" width="5.30" height="5.30" fill="#b0f000"/>
<rect x="825.00" y="385.00" width="5.30" height="5.30" fill="#d4f800"/>
<rect x="830.00" y="385.00" width="5.30" height="5.30" fill="#80e800"/>
<rect x="835.00" y="385.00" width="25.30" height="5.30" fill="#30dc00"/>
<rect x="860.00" y="385.00" width="10.30" height="5.30" fill="#80e800"/>
<rect x="870.00" y="385.00" width="20.30" height="5.30" fill="#30dc00"/>
<rect x="670.00" y="390.00" width="20.30" height="5.30" fill="#f2e400"/>
<rect x="690.00" y="390.00" width="10.30" height="5.30" fill="#ffb800"/>
<rect x="700.00" y="390.00" width="10.30" height="5.30" fill="#f09000"/>
<rect x="710.00" y="390.00" width="5.30" height="5.30" fill="#ffb800"/>
<rect x="715.00" y="390.00" width="5.30" height="5.30" fill="#f2e400"/>
<rect x="720.00" y="390.00" width="5.30" height="5.30" fill="#b0f000"/>
<rect x="725.00" y="390.00" width="5.30" height="5.30" fill="#30dc00"/>
<rect x="730.00" y="390.00" width="5.30" height="5.30" fill="#00d600"/>
<rect x="735.00" y="390.00" width="5.30" height="5.30" fill="#30dc00"/>
<rect x="740.00" y="390.00" width="5.30" height="5.30" fill="#80e800"/>
<rect x="745.00" y="390.00" width="10.30" height="5.30" fill="#b0f000"/>
<rect x="755.00" y="390.00" width="45.30" height="5.30" fill="#80e800"/>
<rect x="800.00" y="390.00" width="15.30" height="5.30" fill="#30dc00"/>
<rect x="815.00" y="390.00" width="10.30" height="5.30" fill="#80e800"/>
<rect x="825.00" y="390.00" width="5.30" height="5.30" fill="#b0f000"/>
<rect x="830.00" y="390.00" width="10.30" height="5.30" fill="#80e800"/>
<rect x="840.00" y="390.00" width="15.30" height="5.30" fill="#30dc00"/>
<rect x="855.00" y="390.00" width="15.30" height="5.30" fill="#80e800"/>
<rect x="870.00" y="390.00" width="20.30" height="5.30" fill="#30dc00"/>
<rect x="670.00" y="395.00" width="40.30" height="5.30" fill="#ffb800"/>
<rect x="710.00" y="395.00" width="5.30" height="5.30" fill="#f2e400"/>
<rect x="715.00" y="395.00" width="5.30" height="5.30" fill="#d4f800"/>
<rect x="720.00" y="395.00" width="5.30" height="5.30" fill="#b0f000"/>
<rect x="725.00" y="395.00" width="5.30" height="5.30" fill="#30dc00"/>
<rect x="730.00" y="395.00" width="10.30" height="5.30" fill="#00d600"/>
<rect x="740.00" y="395.00" width="10.30" height="5.30" fill="#30dc00"/>
<rect x="750.00" y="395.00" width="5.30" height="5.30" fill="#b0f000"/>
<rect x="755.00" y="395.00" width="20.30" height="5.30" fill="#80e800"/>
<rect x="775.00" y="395.00" width="10.30" height="5.30" fill="#30dc00"/>
<rect x="785.00" y="395.00" width="15.30" height="5.30" fill="#80e800"/>
<rect x="800.00" y="395.00" width="15.30" height="5.30" fill="#30dc00"/>
<rect x="815.00" y="395.00" width="25.30" height="5.30" fill="#80e800"/>
<rect x="840.00" y="395.00" width="5.30" height="5.30" fill="#30dc00"/>
<rect x="845.00" y="395.00" width="20.30" height="5.30" fill="#80e800"/>
<rect x="865.00" y="395.00" width="25.30" height="5.30" fill="#30dc00"/>
<rect x="670.00" y="400.00" width="20.30" height="5.30" fill="#ffb800"/>
<rect x="690.00" y="400.00" width="20.30" height="5.30" fill="#f2e400"/>
<rect x="710.00" y="400.00" width="10.30" height="5.30" fill="#d4f800"/>
<rect x="720.00" y="400.00" width="5.30" height="5.30" fill="#80e800"/>
<rect x="725.00" y="400.00" width="5.30" height="5.30" fill="#30dc00"/>
<rect x="730.00" y="400.00" width="5.30" height="5.30" fill="#00d600"/>
<rect x="735.00" y="400.00" width="5.30" height="5.30" fill="#00c434"/>
<rect x="740.00" y="400.00" width="5.30" height="5.30" fill="#00d600"/>
<rect x="745.00" y="400.00" width="25.30" height="5.30" fill="#30dc00"/>
<rect x="770.00" y="400.00" width="5.30" height="5.30" fill="#80e800"/>
<rect x="775.00" y="400.00" width="15.30" height="5.30" fill="#30dc00"/>
<rect x="790.00" y="400.00" width="5.30" height="5.30" fill="#80e800"/>
<rect x="795.00" y="400.00" width="15.30" height="5.30" fill="#30dc00"/>
<rect x="810.00" y="400.00" width="5.30" height="5.30" fill="#00d600"/>
<rect x="815.00" y="400.00" width="5.30" height="5.30" fill="#30dc00"/>
<rect x="820.00" y="400.00" width="10.30" height="5.30" fill="#80e800"/>
<rect x="830.00" y="400.00" width="15.30" height="5.30" fill="#30dc00"/>
<rect x="845.00" y="400.00" width="20.30" height="5.30" fill="#80e800"/>
<rect x="865.00" y="400.00" width="10.30" height="5.30" fill="#30dc00"/>
<rect x="875.00" y="400.00" width="15.30" height="5.30" fill="#00d600"/>
<rect x="670.00" y="405.00" width="15.30" height="5.30" fill="#ffb800"/>
<rect x="685.00" y="405.00" width="5.30" height="5.30" fill="#f2e400"/>
<rect x="690.00" y="405.00" width="5.30" height="5.30" fill="#d4f800"/>
<rect x="695.00" y="405.00" width="10.30" height="5.30" fill="#b0f000"/>
<rect x="705.00" y="405.00" width="10.30" height="5.30" fill="#d4f800"/>
<rect x="715.00" y="405.00" width="5.30" height="5.30" fill="#b0f000"/>
<rect x="720.00" y="405.00" width="5.30" height="5.30" fill="#80e800"/>
<rect x="725.00" y="405.00" width="5.30" height="5.30" fill="#30dc00"/>
<rect x="730.00" y="405.00" width="5.30" height="5.30" fill="#00d600"/>
<rect x="735.00" y="405.00" width="5.30" height="5.30" fill="#00c434"/>
<rect x="740.00" y="405.00" width="25.30" height="5.30" fill="#00d600"/>
<rect x="765.00" y="405.00" width="35.30" height="5.30" fill="#30dc00"/>
<rect x="800.00" y="405.00" width="10.30" height="5.30" fill="#00d600"/>
<rect x="810.00" y="405.00" width="10.30" height="5.30" fill="#30dc00"/>
<rect x="820.00" y="405.00" width="15.30" height="5.30" fill="#80e800"/>
<rect x="835.00" y="405.00" width="10.30" height="5.30" fill="#30dc00"/>
<rect x="845.00" y="405.00" width="15.30" height="5.30" fill="#80e800"/>
<rect x="860.00" y="405.00" width="15.30" height="5.30" fill="#30dc00"/>
<rect x="875.00" y="405.00" width="15.30" height="5.30" fill="#00d600"/>
<rect x="670.00" y="410.00" width="15.30" height="5.30" fill="#f2e400"/>
<rect x="685.00" y="410.00" width="5.30" height="5.30" fill="#d4f800"/>
<rect x="690.00" y="410.00" width="5.30" height="5.30" fill="#80e800"/>
<rect x="695.00" y="410.00" width="5.30" height="5.30" fill="#30dc00"/>
<rect x="700.00" y="410.00" width="10.30" height="5.30" fill="#00d600"/>
<rect x="710.00" y="410.00" width="5.30" height="5.30" fill="#30dc00"/>
<rect x="715.00" y="410.00" width="10.30" height="5.30" fill="#80e800"/>
<rect x="725.00" y="410.00" width="5.30" height="5.30" fill="#30dc00"/>
<rect x="730.00" y="410.00" width="20.30" height="5.30" fill="#00d600"/>
<rect x="750.00" y="410.00" width="10.30" height="5.30" fill="#00c434"/>
<rect x="760.00" y="410.00" width="5.30" height="5.30" fill="#00d600"/>
<rect x="765.00" y="410.00" width="10.30" height="5.30" fill="#30dc00"/>
<rect x="775.00" y="410.00" width="5.30" height="5.30" fill="#80e800"/>
<rect x="780.00" y="410.00" width="15.30" height="5.30" fill="#30dc00"/>
<rect x="795.00" y="410.00" width="15.30" height="5.30" fill="#00d600"/>
<rect x="810.00" y="410.00" width="40.30" height="5.30" fill="#30dc00"/>
<rect x="850.00" y="410.00" width="10.30" height="5.30" fill="#80e800"/>
<rect x="860.00" y="410.00" width="15.30" height="5.30" fill="#30dc00"/>
<rect x="875.00" y="410.00" width="15.30" height="5.30" fill="#00d600"/>
<rect x="670.00" y="415.00" width="15.30" height="5.30" fill="#d4f800"/>
<rect x="685.00" y="415.00" width="5.30" height="5.30" fill="#b0f000"/>
<rect x="690.00" y="415.00" width="5.30" height="5.30" fill="#30dc00"/>
<rect x="695.00" y="415.00" width="5.30" height="5.30" fill="#00c434"/>
<rect x="700.00" y="415.00" width="5.30" height="5.30" fill="#00b070"/>
<rect x="705.00" y="415.00" width="5.30" height="5.30" fill="#00c434"/>
<rect x="710.00" y="415.00" width="5.30" height="5.30" fill="#00d600"/>
<rect x="715.00" y="415.00" width="5.30" height="5.30" fill="#30dc00"/>
<rect x="720.00" y="415.00" width="5.30" height="5.30" fill="#80e800"/>
<rect x="725.00" y="415.00" width="15.30" height="5.30" fill="#30dc00"/>
<rect x="740.00" y="415.00" width="5.30" height="5.30" fill="#00d600"/>
<rect x="745.00" y="415.00" width="20.30" height="5.30" fill="#00c434"/>
<rect x="765.00" y="415.00" width="5.30" height="5.30" fill="#00d600"/>
<rect x="770.00" y="415.00" width="5.30" height="5.30" fill="#30dc00"/>
<rect x="775.00" y="415.00" width="5.30" height="5.30" fill="#80e800"/>
<rect x="780.00" y="415.00" width="10.30" height="5.30" fill="#30dc00"/>
<rect x="790.00" y="415.00" width="20.30" height="5.30" fill="#00d600"/>
<rect x="810.00" y="415.00" width="5.30" height="5.30" fill="#30dc00"/>
<rect x="815.00" y="415.00" width="15.30" height="5.30" fill="#80e800"/>
<rect x="830.00" y="415.00" width="20.30" height="5.30" fill="#30dc00"/>
<rect x="850.00" y="415.00" width="5.30" height="5.30" fill="#80e800"/>
<rect x="855.00" y="415.00" width="10.30" height="5.30" fill="#30dc00"/>
<rect x="865.00" y="415.00" width="25.30" height="5.30" fill="#00d600"/>
<rect x="670.00" y="420.00" width="15.30" height="5.30" fill="#d4f800"/>
<rect x="685.00" y="420.00" width="5.30" height="5.30" fill="#80e800"/>
<rect x="690.00" y="420.00" width="5.30" height="5.30" fill="#00d600"/>
<rect x="695.00" y="420.00" width="5.30" height="5.30" fill="#00c434"/>
<rect x="700.00" y="420.00" width="5.30" height="5.30" fill="#00b070"/>
<rect x="705.00" y="420.00" width="5.30" height="5.30" fill="#00c434"/>
<rect x="710.00" y="420.00" width="5.30" height="5.30" fill="#30dc00"/>
<rect x="715.00" y="420.00" width="5.30" height="5.30" fill="#80e800"/>
<rect x="720.00" y="420.00" width="20.30" height="5.30" fill="#30dc00"/>
<rect x="740.00" y="420.00" width="10.30" height="5.30" fill="#00d600"/>
<rect x="750.00" y="420.00" width="10.30" height="5.30" fill="#00c434"/>
<rect x="760.00" y="420.00" width="10.30" height="5.30" fill="#00d600"/>
<rect x="770.00" y="420.00" width="5.30" height="5.30" fill="#30dc00"/>
<rect x="775.00" y="420.00" width="5.30" height="5.30" fill="#80e800"/>
<rect x="780.00" y="420.00" width="10.30" height="5.30" fill="#30dc00"/>
<rect x="790.00" y="420.00" width="10.30" height="5.30" fill="#00d600"/>
<rect x="800.00" y="420.00" width="5.30" height="5.30" fill="#00c434"/>
<rect x="805.00" y="420.00" width="5.30" height="5.30" fill="#00d600"/>
<rect x="810.00" y="420.00" width="5.30" height="5.30" fill="#30dc00"/>
<rect x="815.00" y="420.00" width="10.30" height="5.30" fill="#b0f000"/>
<rect x="825.00" y="420.00" width="5.30" height="5.30" fill="#80e800"/>
<rect x="830.00" y="420.00" width="35.30" height="5.30" fill="#30dc00"/>
<rect x="865.00" y="420.00" width="25.30" height="5.30" fill="#00d600"/>
<rect x="670.00" y="425.00" width="15.30" height="5.30" fill="#d4f800"/>
<rect x="685.00" y="425.00" width="5.30" height="5.30" fill="#b0f000"/>
<rect x="690.00" y="425.00" width="5.30" height="5.30" fill="#30dc00"/>
<rect x="695.00" y="425.00" width="5.30" height="5.30" fill="#00d600"/>
<rect x="700.00" y="425.00" width="5.30" height="5.30" fill="#00c434"/>
<rect x="705.00" y="425.00" width="5.30" height="5.30" fill="#00d600"/>
<rect x="710.00" y="425.00" width="5.30" height="5.30" fill="#80e800"/>
<rect x="715.00" y="425.00" width="5.30" height="5.30" fill="#b0f000"/>
<rect x="720.00" y="425.00" width="10.30" height="5.30" fill="#80e800"/>
<rect x="730.00" y="425.00" width="5.30" height="5.30" fill="#b0f000"/>
<rect x="735.00" y="425.00" width="5.30" height="5.30" fill="#80e800"/>
<rect x="740.00" y="425.00" width="5.30" height="5.30" fill="#30dc00"/>
<rect x="745.00" y="425.00" width="20.30" height="5.30" fill="#00d600"/>
<rect x="765.00" y="425.00" width="5.30" height="5.30" fill="#30dc00"/>
<rect x="770.00" y="425.00" width="15.30" height="5.30" fill="#80e800"/>
<rect x="785.00" y="425.00" width="10.30" height="5.30" fill="#30dc00"/>
<rect x="795.00" y="425.00" width="15.30" height="5.30" fill="#00d600"/>
<rect x="810.00" y="425.00" width="5.30" height="5.30" fill="#30dc00"/>
<rect x="815.00" y="425.00" width="10.30" height="5.30" fill="#b0f000"/>
<rect x="825.00" y="425.00" width="10.30" height="5.30" fill="#80e800"/>
<rect x="835.00" y="425.00" width="30.30" height="5.30" fill="#30dc00"/>
<rect x="865.00" y="425.00" width="25.30" height="5.30" fill="#00d600"/>
<rect x="670.00" y="430.00" width="15.30" height="5.30" fill="#b0f000"/>
<rect x="685.00" y="430.00" width="10.30" height="5.30" fill="#80e800"/>
<rect x="695.00" y="430.00" width="5.30" height="5.30" fill="#30dc00"/>
<rect x="700.00" y="430.00" width="5.30" height="5.30" fill="#00d600"/>
<rect x="705.00" y="430.00" width="5.30" height="5.30" fill="#30dc00"/>
<rect x="710.00" y="430.00" width="5.30" height="5.30" fill="#b0f000"/>
<rect x="715.00" y="430.00" width="5.30" height="5.30" fill="#d4f800"/>
<rect x="720.00" y="430.00" width="5.30" height="5.30" fill="#b0f000"/>
<rect x="725.00" y="430.00" width="5.30" height="5.30" fill="#80e800"/>
<rect x="730.00" y="430.00" width="10.30" height="5.30" fill="#b0f000"/>
<rect x="740.00" y="430.00" width="5.30" height="5.30" fill="#80e800"/>
<rect x="745.00" y="430.00" width="15.30" height="5.30" fill="#00d600"/>
<rect x="760.00" y="430.00" width="10.30" height="5.30" fill="#30dc00"/>
<rect x="770.00" y="430.00" width="5.30" height="5.30" fill="#80e800"/>
<rect x="775.00" y="430.00" width="5.30" height="5.30" fill="#b0f000"/>
<rect x="780.00" y="430.00" width="5.30" height="5.30" fill="#80e800"/>
<rect x="785.00" y="430.00" width="10.30" height="5.30" fill="#30dc00"/>
<rect x="795.00" y="430.00" width="15.30" height="5.30" fill="#00d600"/>
<rect x="810.00" y="430.00" width="5.30" height="5.30" fill="#30dc00"/>
<rect x="815.00" y="430.00" width="20.30" height="5.30" fill="#80e800"/>
<rect x="835.00" y="430.00" width="25.30" height="5.30" fill="#30dc00"/>
<rect x="860.00" y="430.00" width="10.30" height="5.30" fill="#00d600"/>
<rect x="870.00" y="430.00" width="20.30" height="5.30" fill="#30dc00"/>
<rect x="670.00" y="435.00" width="15.30" height="5.30" fill="#30dc00"/>
<rect x="685.00" y="435.00" width="5.30" height="5.30" fill="#b0f000"/>
<rect x="690.00" y="435.00" width="5.30" height="5.30" fill="#d4f800"/>
<rect x="695.00" y="435.00" width="10.30" height="5.30" fill="#b0f000"/>
<rect x="705.00" y="435.00" width="5.30" height="5.30" fill="#d4f800"/>
<rect x="710.00" y="435.00" width="5.30" height="5.30" fill="#f2e400"/>
<rect x="715.00" y="435.00" width="5.30" height="5.30" fill="#d4f800"/>
<rect x="720.00" y="435.00" width="5.30" height="5.30" fill="#b0f000"/>
<rect x="725.00" y="435.00" width="10.30" height="5.30" fill="#80e800"/>
<rect x="735.00" y="435.00" width="5.30" height="5.30" fill="#b0f000"/>
<rect x="740.00" y="435.00" width="5.30" height="5.30" fill="#80e800"/>
<rect x="745.00" y="435.00" width="20.30" height="5.30" fill="#30dc00"/>
<rect x="765.00" y="435.00" width="5.30" height="5.30" fill="#80e800"/>
<rect x="770.00" y="435.00" width="5.30" height="5.30" fill="#b0f000"/>
<rect x="775.00" y="435.00" width="5.30" height="5.30" fill="#80e800"/>
<rect x="780.00" y="435.00" width="20.30" height="5.30" fill="#30dc00"/>
<rect x="800.00" y="435.00" width="10.30" height="5.30" fill="#00d600"/>
<rect x="810.00" y="435.00" width="5.30" height="5.30" fill="#30dc00"/>
<rect x="815.00" y="435.00" width="15.30" height="5.30" fill="#80e800"/>
<rect x="830.00" y="435.00" width="10.30" height="5.30" fill="#30dc00"/>
<rect x="840.00" y="435.00" width="5.30" height="5.30" fill="#00d600"/>
<rect x="845.00" y="435.00" width="15.30" height="5.30" fill="#30dc00"/>
<rect x="860.00" y="435.00" width="10.30" height="5.30" fill="#00d600"/>
<rect x="870.00" y="435.00" width="20.30" height="5.30" fill="#30dc00"/>
<rect x="670.00" y="440.00" width="15.30" height="5.30" fill="#00d600"/>
<rect x="685.00" y="440.00" width="5.30" height="5.30" fill="#80e800"/>
<rect x="690.00" y="440.00" width="5.30" height="5.30" fill="#b0f000"/>
<rect x="695.00" y="440.00" width="10.30" height="5.30" fill="#d4f800"/>
<rect x="705.00" y="440.00" width="10.30" height="5.30" fill="#f2e400"/>
<rect x="715.00" y="440.00" width="5.30" height="5.30" fill="#d4f800"/>
<rect x="720.00" y="440.00" width="5.30" height="5.30" fill="#b0f000"/>
<rect x="725.00" y="440.00" width="5.30" height="5.30" fill="#80e800"/>
<rect x="730.00" y="440.00" width="5.30" height="5.30" fill="#30dc00"/>
<rect x="735.00" y="440.00" width="10.30" height="5.30" fill="#80e800"/>
<rect x="745.00" y="440.00" width="20.30" height="5.30" fill="#30dc00"/>
<rect x="765.00" y="440.00" width="5.30" height="5.30" fill="#80e800"/>
<rect x="770.00" y="440.00" width="10.30" height="5.30" fill="#b0f000"/>
<rect x="780.00" y="440.00" width="15.30" height="5.30" fill="#30dc00"/>
<rect x="795.00" y="440.00" width="15.30" height="5.30" fill="#00d600"/>
<rect x="810.00" y="440.00" width="20.30" height="5.30" fill="#30dc00"/>
<rect x="830.00" y="440.00" width="15.30" height="5.30" fill="#00d600"/>
<rect x="845.00" y="440.00" width="15.30" height="5.30" fill="#30dc00"/>
<rect x="860.00" y="440.00" width="10.30" height="5.30" fill="#00d600"/>
<rect x="870.00" y="440.00" width="20.30" height="5.30" fill="#30dc00"/>
<rect x="670.00" y="445.00" width="20.30" height="5.30" fill="#30dc00"/>
<rect x="690.00" y="445.00" width="5.30" height="5.30" fill="#80e800"/>
<rect x="695.00" y="445.00" width="5.30" height="5.30" fill="#b0f000"/>
<rect x="700.00" y="445.00" width="5.30" height="5.30" fill="#d4f800"/>
<rect x="705.00" y="445.00" width="5.30" height="5.30" fill="#f2e400"/>
<rect x="710.00" y="445.00" width="5.30" height="5.30" fill="#d4f800"/>
<rect x="715.00" y="445.00" width="5.30" height="5.30" fill="#b0f000"/>
<rect x="720.00" y="445.00" width="5.30" height="5.30" fill="#80e800"/>
<rect x="725.00" y="445.00" width="5.30" height="5.30" fill="#30dc00"/>
<rect x="730.00" y="445.00" width="5.30" height="5.30" fill="#00d600"/>
<rect x="735.00" y="445.00" width="10.30" height="5.30" fill="#30dc00"/>
<rect x="745.00" y="445.00" width="10.30" height="5.30" fill="#80e800"/>
<rect x="755.00" y="445.00" width="5.30" height="5.30" fill="#b0f000"/>
<rect x="760.00" y="445.00" width="15.30" height="5.30" fill="#80e800"/>
<rect x="775.00" y="445.00" width="5.30" height="5.30" fill="#b0f000"/>
<rect x="780.00" y="445.00" width="5.30" height="5.30" fill="#30dc00"/>
<rect x="785.00" y="445.00" width="30.30" height="5.30" fill="#00d600"/>
<rect x="815.00" y="445.00" width="10.30" height="5.30" fill="#30dc00"/>
<rect x="825.00" y="445.00" width="20.30" height="5.30" fill="#00d600"/>
<rect x="845.00" y="445.00" width="15.30" height="5.30" fill="#30dc00"/>
<rect x="860.00" y="445.00" width="5.30" height="5.30" fill="#00d600"/>
<rect x="865.00" y="445.00" width="10.30" height="5.30" fill="#30dc00"/>
<rect x="875.00" y="445.00" width="15.30" height="5.30" fill="#00d600"/>
<rect x="670.00" y="450.00" width="20.30" height="5.30" fill="#30dc00"/>
<rect x="690.00" y="450.00" width="10.30" height="5.30" fill="#80e800"/>
<rect x="700.00" y="450.00" width="15.30" height="5.30" fill="#b0f000"/>
<rect x="715.00" y="450.00" width="5.30" height="5.30" fill="#80e800"/>
<rect x="720.00" y="450.00" width="5.30" height="5.30" fill="#30dc00"/>
<rect x="725.00" y="450.00" width="10.30" height="5.30" fill="#00d600"/>
<rect x="735.00" y="450.00" width="10.30" height="5.30" fill="#30dc00"/>
<rect x="745.00" y="450.00" width="20.30" height="5.30" fill="#80e800"/>
<rect x="765.00" y="450.00" width="10.30" height="5.30" fill="#30dc00"/>
<rect x="775.00" y="450.00" width="5.30" height="5.30" fill="#80e800"/>
<rect x="780.00" y="450.00" width="5.30" height="5.30" fill="#30dc00"/>
<rect x="785.00" y="450.00" width="30.30" height="5.30" fill="#00d600"/>
<rect x="815.00" y="450.00" width="10.30" height="5.30" fill="#30dc00"/>
<rect x="825.00" y="450.00" width="25.30" height="5.30" fill="#00d600"/>
<rect x="850.00" y="450.00" width="10.30" height="5.30" fill="#30dc00"/>
<rect x="860.00" y="450.00" width="5.30" height="5.30" fill="#00d600"/>
<rect x="865.00" y="450.00" width="5.30" height="5.30" fill="#30dc00"/>
<rect x="870.00" y="450.00" width="5.30" height="5.30" fill="#80e800"/>
<rect x="875.00" y="450.00" width="15.30" height="5.30" fill="#00d600"/>
<rect x="670.00" y="455.00" width="35.30" height="5.30" fill="#30dc00"/>
<rect x="705.00" y="455.00" width="15.30" height="5.30" fill="#80e800"/>
<rect x="720.00" y="455.00" width="5.30" height="5.30" fill="#30dc00"/>
<rect x="725.00" y="455.00" width="25.30" height="5.30" fill="#00d600"/>
<rect x="750.00" y="455.00" width="5.30" height="5.30" fill="#30dc00"/>
<rect x="755.00" y="455.00" width="5.30" height="5.30" fill="#80e800"/>
<rect x="760.00" y="455.00" width="5.30" height="5.30" fill="#30dc00"/>
<rect x="765.00" y="455.00" width="10.30" height="5.30" fill="#00d600"/>
<rect x="775.00" y="455.00" width="5.30" height="5.30" fill="#30dc00"/>
<rect x="780.00" y="455.00" width="25.30" height="5.30" fill="#00d600"/>
<rect x="805.00" y="455.00" width="20.30" height="5.30" fill="#30dc00"/>
<rect x="825.00" y="455.00" width="30.30" height="5.30" fill="#00d600"/>
<rect x="855.00" y="455.00" width="20.30" height="5.30" fill="#30dc00"/>
<rect x="875.00" y="455.00" width="15.30" height="5.30" fill="#00d600"/>
<rect x="670.00" y="460.00" width="15.30" height="5.30" fill="#80e800"/>
<rect x="685.00" y="460.00" width="5.30" height="5.30" fill="#30dc00"/>
<rect x="690.00" y="460.00" width="20.30" height="5.30" fill="#00d600"/>
<rect x="710.00" y="460.00" width="5.30" height="5.30" fill="#30dc00"/>
<rect x="715.00" y="460.00" width="5.30" height="5.30" fill="#80e800"/>
<rect x="720.00" y="460.00" width="35.30" height="5.30" fill="#00d600"/>
<rect x="755.00" y="460.00" width="5.30" height="5.30" fill="#30dc00"/>
<rect x="760.00" y="460.00" width="5.30" height="5.30" fill="#80e800"/>
<rect x="765.00" y="460.00" width="10.30" height="5.30" fill="#00d600"/>
<rect x="775.00" y="460.00" width="5.30" height="5.30" fill="#30dc00"/>
<rect x="780.00" y="460.00" width="20.30" height="5.30" fill="#00d600"/>
<rect x="800.00" y="460.00" width="10.30" height="5.30" fill="#30dc00"/>
<rect x="810.00" y="460.00" width="5.30" height="5.30" fill="#80e800"/>
<rect x="815.00" y="460.00" width="10.30" height="5.30" fill="#30dc00"/>
<rect x="825.00" y="460.00" width="15.30" height="5.30" fill="#00d600"/>
<rect x="840.00" y="460.00" width="5.30" height="5.30" fill="#30dc00"/>
<rect x="845.00" y="460.00" width="15.30" height="5.30" fill="#00d600"/>
<rect x="860.00" y="460.00" width="15.30" height="5.30" fill="#30dc00"/>
<rect x="875.00" y="460.00" width="15.30" height="5.30" fill="#00d600"/>
<rect x="670.00" y="465.00" width="15.30" height="5.30" fill="#80e800"/>
<rect x="685.00" y="465.00" width="5.30" height="5.30" fill="#30dc00"/>
<rect x="690.00" y="465.00" width="20.30" height="5.30" fill="#00d600"/>
<rect x="710.00" y="465.00" width="10.30" height="5.30" fill="#30dc00"/>
<rect x="720.00" y="465.00" width="35.30" height="5.30" fill="#00d600"/>
<rect x="755.00" y="465.00" width="5.30" height="5.30" fill="#30dc00"/>
<rect x="760.00" y="465.00" width="5.30" height="5.30" fill="#80e800"/>
<rect x="765.00" y="465.00" width="20.30" height="5.30" fill="#00d600"/>
<rect x="785.00" y="465.00" width="15.30" height="5.30" fill="#30dc00"/>
<rect x="800.00" y="465.00" width="5.30" height="5.30" fill="#80e800"/>
<rect x="805.00" y="465.00" width="10.30" height="5.30" fill="#b0f000"/>
<rect x="815.00" y="465.00" width="5.30" height="5.30" fill="#80e800"/>
<rect x="820.00" y="465.00" width="5.30" height="5.30" fill="#30dc00"/>
<rect x="825.00" y="465.00" width="10.30" height="5.30" fill="#00d600"/>
<rect x="835.00" y="465.00" width="5.30" height="5.30" fill="#30dc00"/>
<rect x="840.00" y="465.00" width="10.30" height="5.30" fill="#80e800"/>
<rect x="850.00" y="465.00" width="5.30" height="5.30" fill="#30dc00"/>
<rect x="855.00" y="465.00" width="10.30" height="5.30" fill="#00d600"/>
<rect x="865.00" y="465.00" width="10.30" height="5.30" fill="#30dc00"/>
<rect x="875.00" y="465.00" width="15.30" height="5.30" fill="#00d600"/>
<rect x="670.00" y="470.00" width="15.30" height="5.30" fill="#80e800"/>
<rect x="685.00" y="470.00" width="5.30" height="5.30" fill="#30dc00"/>
<rect x="690.00" y="470.00" width="20.30" height="5.30" fill="#00d600"/>
<rect x="710.00" y="470.00" width="5.30" height="5.30" fill="#30dc00"/>
<rect x="715.00" y="470.00" width="15.30" height="5.30" fill="#00d600"/>
<rect x="730.00" y="470.00" width="5.30" height="5.30" fill="#30dc00"/>
<rect x="735.00" y="470.00" width="25.30" height="5.30" fill="#00d600"/>
<rect x="760.00" y="470.00" width="5.30" height="5.30" fill="#30dc00"/>
<rect x="765.00" y="470.00" width="20.30" height="5.30" fill="#00d600"/>
<rect x="785.00" y="470.00" width="10.30" height="5.30" fill="#30dc00"/>
<rect x="795.00" y="470.00" width="10.30" height="5.30" fill="#80e800"/>
<rect x="805.00" y="470.00" width="10.30" height="5.30" fill="#b0f000"/>
<rect x="815.00" y="470.00" width="5.30" height="5.30" fill="#80e800"/>
<rect x="820.00" y="470.00" width="5.30" height="5.30" fill="#30dc00"/>
<rect x="825.00" y="470.00" width="10.30" height="5.30" fill="#00d600"/>
<rect x="835.00" y="470.00" width="5.30" height="5.30" fill="#30dc00"/>
<rect x="840.00" y="470.00" width="20.30" height="5.30" fill="#80e800"/>
<rect x="860.00" y="470.00" width="5.30" height="5.30" fill="#00d600"/>
<rect x="865.00" y="470.00" width="10.30" height="5.30" fill="#30dc00"/>
<rect x="875.00" y="470.00" width="15.30" height="5.30" fill="#00d600"/>
<rect x="670.00" y="475.00" width="15.30" height="5.30" fill="#80e800"/>
<rect x="685.00" y="475.00" width="5.30" height="5.30" fill="#30dc00"/>
<rect x="690.00" y="475.00" width="20.30" height="5.30" fill="#00d600"/>
<rect x="710.00" y="475.00" width="5.30" height="5.30" fill="#30dc00"/>
<rect x="715.00" y="475.00" width="15.30" height="5.30" fill="#00d600"/>
<rect x="730.00" y="475.00" width="10.30" height="5.30" fill="#30dc00"/>
<rect x="740.00" y="475.00" width="50.30" height="5.30" fill="#00d600"/>
<rect x="790.00" y="475.00" width="5.30" height="5.30" fill="#30dc00"/>
<rect x="795.00" y="475.00" width="10.30" height="5.30" fill="#80e800"/>
<rect x="805.00" y="475.00" width="5.30" height="5.30" fill="#b0f000"/>
<rect x="810.00" y="475.00" width="5.30" height="5.30" fill="#80e800"/>
<rect x="815.00" y="475.00" width="5.30" height="5.30" fill="#30dc00"/>
<rect x="820.00" y="475.00" width="20.30" height="5.30" fill="#00d600"/>
<rect x="840.00" y="475.00" width="5.30" height="5.30" fill="#30dc00"/>
<rect x="845.00" y="475.00" width="20.30" height="5.30" fill="#80e800"/>
<rect x="865.00" y="475.00" width="10.30" height="5.30" fill="#30dc00"/>
<rect x="875.00" y="475.00" width="15.30" height="5.30" fill="#00d600"/>
<rect x="670.00" y="480.00" width="15.30" height="5.30" fill="#80e800"/>
<rect x="685.00" y="480.00" width="5.30" height="5.30" fill="#30dc00"/>
<rect x="690.00" y="480.00" width="5.30" height="5.30" fill="#00d600"/>
<rect x="695.00" y="480.00" width="5.30" height="5.30" fill="#00c434"/>
<rect x="700.00" y="480.00" width="30.30" height="5.30" fill="#00d600"/>
<rect x="730.00" y="480.00" width="10.30" height="5.30" fill="#30dc00"/>
<rect x="740.00" y="480.00" width="50.30" height="5.30" fill="#00d600"/>
<rect x="790.00" y="480.00" width="5.30" height="5.30" fill="#30dc00"/>
<rect x="795.00" y="480.00" width="5.30" height="5.30" fill="#80e800"/>
<rect x="800.00" y="480.00" width="10.30" height="5.30" fill="#b0f000"/>
<rect x="810.00" y="480.00" width="5.30" height="5.30" fill="#30dc00"/>
<rect x="815.00" y="480.00" width="25.30" height="5.30" fill="#00d600"/>
<rect x="840.00" y="480.00" width="5.30" height="5.30" fill="#30dc00"/>
<rect x="845.00" y="480.00" width="20.30" height="5.30" fill="#80e800"/>
<rect x="865.00" y="480.00" width="10.30" height="5.30" fill="#30dc00"/>
<rect x="875.00" y="480.00" width="15.30" height="5.30" fill="#00d600"/>
<rect x="670.00" y="485.00" width="15.30" height="5.30" fill="#80e800"/>
<rect x="685.00" y="485.00" width="5.30" height="5.30" fill="#30dc00"/>
<rect x="690.00" y="485.00" width="10.30" height="5.30" fill="#00d600"/>
<rect x="700.00" y="485.00" width="10.30" height="5.30" fill="#00c434"/>
<rect x="710.00" y="485.00" width="25.30" height="5.30" fill="#00d600"/>
<rect x="735.00" y="485.00" width="5.30" height="5.30" fill="#30dc00"/>
<rect x="740.00" y="485.00" width="50.30" height="5.30" fill="#00d600"/>
<rect x="790.00" y="485.00" width="5.30" height="5.30" fill="#30dc00"/>
<rect x="795.00" y="485.00" width="5.30" height="5.30" fill="#80e800"/>
<rect x="800.00" y="485.00" width="5.30" height="5.30" fill="#b0f000"/>
<rect x="805.00" y="485.00" width="5.30" height="5.30" fill="#80e800"/>
<rect x="810.00" y="485.00" width="5.30" height="5.30" fill="#30dc00"/>
<rect x="815.00" y="485.00" width="25.30" height="5.30" fill="#00d600"/>
<rect x="840.00" y="485.00" width="10.30" height="5.30" fill="#30dc00"/>
<rect x="850.00" y="485.00" width="15.30" height="5.30" fill="#80e800"/>
<rect x="865.00" y="485.00" width="10.30" height="5.30" fill="#30dc00"/>
<rect x="875.00" y="485.00" width="15.30" height="5.30" fill="#00d600"/>
<rect x="670.00" y="490.00" width="15.30" height="5.30" fill="#80e800"/>
<rect x="685.00" y="490.00" width="5.30" height="5.30" fill="#30dc00"/>
<rect x="690.00" y="490.00" width="10.30" height="5.30" fill="#00d600"/>
<rect x="700.00" y="490.00" width="10.30" height="5.30" fill="#00c434"/>
<rect x="710.00" y="490.00" width="45.30" height="5.30" fill="#00d600"/>
<rect x="755.00" y="490.00" width="5.30" height="5.30" fill="#00c434"/>
<rect x="760.00" y="490.00" width="10.30" height="5.30" fill="#00d600"/>
<rect x="770.00" y="490.00" width="10.30" height="5.30" fill="#30dc00"/>
<rect x="780.00" y="490.00" width="5.30" height="5.30" fill="#00d600"/>
<rect x="785.00" y="490.00" width="10.30" height="5.30" fill="#30dc00"/>
<rect x="795.00" y="490.00" width="5.30" height="5.30" fill="#80e800"/>
<rect x="800.00" y="490.00" width="5.30" height="5.30" fill="#b0f000"/>
<rect x="805.00" y="490.00" width="5.30" height="5.30" fill="#80e800"/>
<rect x="810.00" y="490.00" width="5.30" height="5.30" fill="#30dc00"/>
<rect x="815.00" y="490.00" width="30.30" height="5.30" fill="#00d600"/>
<rect x="845.00" y="490.00" width="10.30" height="5.30" fill="#30dc00"/>
<rect x="855.00" y="490.00" width="10.30" height="5.30" fill="#80e800"/>
<rect x="865.00" y="490.00" width="5.30" height="5.30" fill="#30dc00"/>
<rect x="870.00" y="490.00" width="20.30" height="5.30" fill="#00d600"/>
<rect x="670.00" y="495.00" width="20.30" height="5.30" fill="#80e800"/>
<rect x="690.00" y="495.00" width="5.30" height="5.30" fill="#30dc00"/>
<rect x="695.00" y="495.00" width="55.30" height="5.30" fill="#00d600"/>
<rect x="750.00" y="495.00" width="10.30" height="5.30" fill="#00c434"/>
<rect x="760.00" y="495.00" width="10.30" height="5.30" fill="#00d600"/>
<rect x="770.00" y="495.00" width="25.30" height="5.30" fill="#30dc00"/>
<rect x="795.00" y="495.00" width="15.30" height="5.30" fill="#80e800"/>
<rect x="810.00" y="495.00" width="5.30" height="5.30" fill="#30dc00"/>
<rect x="815.00" y="495.00" width="30.30" height="5.30" fill="#00d600"/>
<rect x="845.00" y="495.00" width="15.30" height="5.30" fill="#30dc00"/>
<rect x="860.00" y="495.00" width="10.30" height="5.30" fill="#80e800"/>
<rect x="870.00" y="495.00" width="5.30" height="5.30" fill="#30dc00"/>
<rect x="875.00" y="495.00" width="15.30" height="5.30" fill="#00d600"/>
<rect x="670.00" y="500.00" width="20.30" height="5.30" fill="#80e800"/>
<rect x="690.00" y="500.00" width="5.30" height="5.30" fill="#30dc00"/>
<rect x="695.00" y="500.00" width="15.30" height="5.30" fill="#00d600"/>
<rect x="710.00" y="500.00" width="10.30" height="5.30" fill="#30dc00"/>
<rect x="720.00" y="500.00" width="35.30" height="5.30" fill="#00d600"/>
<rect x="755.00" y="500.00" width="5.30" height="5.30" fill="#00c434"/>
<rect x="760.00" y="500.00" width="10.30" height="5.30" fill="#00d600"/>
<rect x="770.00" y="500.00" width="15.30" height="5.30" fill="#30dc00"/>
<rect x="785.00" y="500.00" width="5.30" height="5.30" fill="#80e800"/>
<rect x="790.00" y="500.00" width="5.30" height="5.30" fill="#30dc00"/>
<rect x="795.00" y="500.00" width="10.30" height="5.30" fill="#80e800"/>
<rect x="805.00" y="500.00" width="10.30" height="5.30" fill="#30dc00"/>
<rect x="815.00" y="500.00" width="30.30" height="5.30" fill="#00d600"/>
<rect x="845.00" y="500.00" width="10.30" height="5.30" fill="#30dc00"/>
<rect x="855.00" y="500.00" width="5.30" height="5.30" fill="#80e800"/>
<rect x="860.00" y="500.00" width="5.30" height="5.30" fill="#b0f000"/>
<rect x="865.00" y="500.00" width="5.30" height="5.30" fill="#80e800"/>
<rect x="870.00" y="500.00" width="5.30" height="5.30" fill="#30dc00"/>
<rect x="875.00" y="500.00" width="15.30" height="5.30" fill="#00d600"/>
<rect x="670.00" y="505.00" width="25.30" height="5.30" fill="#80e800"/>
<rect x="695.00" y="505.00" width="5.30" height="5.30" fill="#30dc00"/>
<rect x="700.00" y="505.00" width="10.30" height="5.30" fill="#00d600"/>
<rect x="710.00" y="505.00" width="10.30" height="5.30" fill="#80e800"/>
<rect x="720.00" y="505.00" width="5.30" height="5.30" fill="#30dc00"/>
<rect x="725.00" y="505.00" width="35.30" height="5.30" fill="#00d600"/>
<rect x="760.00" y="505.00" width="5.30" height="5.30" fill="#00c434"/>
<rect x="765.00" y="505.00" width="5.30" height="5.30" fill="#30dc00"/>
<rect x="770.00" y="505.00" width="5.30" height="5.30" fill="#80e800"/>
<rect x="775.00" y="505.00" width="5.30" height="5.30" fill="#30dc00"/>
<rect x="780.00" y="505.00" width="5.30" height="5.30" fill="#80e800"/>
<rect x="785.00" y="505.00" width="10.30" height="5.30" fill="#30dc00"/>
<rect x="795.00" y="505.00" width="10.30" height="5.30" fill="#80e800"/>
<rect x="805.00" y="505.00" width="10.30" height="5.30" fill="#30dc00"/>
<rect x="815.00" y="505.00" width="25.30" height="5.30" fill="#00d600"/>
<rect x="840.00" y="505.00" width="15.30" height="5.30" fill="#30dc00"/>
<rect x="855.00" y="505.00" width="5.30" height="5.30" fill="#80e800"/>
<rect x="860.00" y="505.00" width="5.30" height="5.30" fill="#b0f000"/>
<rect x="865.00" y="505.00" width="5.30" height="5.30" fill="#80e800"/>
<rect x="870.00" y="505.00" width="20.30" height="5.30" fill="#00d600"/>
<rect x="670.00" y="510.00" width="15.30" height="5.30" fill="#80e800"/>
<rect x="685.00" y="510.00" width="10.30" height="5.30" fill="#b0f000"/>
<rect x="695.00" y="510.00" width="5.30" height="5.30" fill="#80e800"/>
<rect x="700.00" y="510.00" width="10.30" height="5.30" fill="#00d600"/>
<rect x="710.00" y="510.00" width="5.30" height="5.30" fill="#30dc00"/>
<rect x="715.00" y="510.00" width="10.30" height="5.30" fill="#80e800"/>
<rect x="725.00" y="510.00" width="5.30" height="5.30" fill="#30dc00"/>
<rect x="730.00" y="510.00" width="15.30" height="5.30" fill="#00d600"/>
<rect x="745.00" y="510.00" width="5.30" height="5.30" fill="#30dc00"/>
<rect x="750.00" y="510.00" width="15.30" height="5.30" fill="#00d600"/>
<rect x="765.00" y="510.00" width="5.30" height="5.30" fill="#30dc00"/>
<rect x="770.00" y="510.00" width="5.30" height="5.30" fill="#80e800"/>
<rect x="775.00" y="510.00" width="5.30" height="5.30" fill="#30dc00"/>
<rect x="780.00" y="510.00" width="5.30" height="5.30" fill="#80e800"/>
<rect x="785.00" y="510.00" width="25.30" height="5.30" fill="#30dc00"/>
<rect x="810.00" y="510.00" width="30.30" height="5.30" fill="#00d600"/>
<rect x="840.00" y="510.00" width="15.30" height="5.30" fill="#30dc00"/>
<rect x="855.00" y="510.00" width="10.30" height="5.30" fill="#80e800"/>
<rect x="865.00" y="510.00" width="25.30" height="5.30" fill="#00d600"/>
<rect x="670.00" y="515.00" width="15.30" height="5.30" fill="#b0f000"/>
<rect x="685.00" y="515.00" width="10.30" height="5.30" fill="#d4f800"/>
<rect x="695.00" y="515.00" width="5.30" height="5.30" fill="#80e800"/>
<rect x="700.00" y="515.00" width="10.30" height="5.30" fill="#00d600"/>
<rect x="710.00" y="515.00" width="5.30" height="5.30" fill="#30dc00"/>
<rect x="715.00" y="515.00" width="15.30" height="5.30" fill="#80e800"/>
<rect x="730.00" y="515.00" width="5.30" height="5.30" fill="#30dc00"/>
<rect x="735.00" y="515.00" width="5.30" height="5.30" fill="#80e800"/>
<rect x="740.00" y="515.00" width="15.30" height="5.30" fill="#30dc00"/>
<rect x="755.00" y="515.00" width="5.30" height="5.30" fill="#00d600"/>
<rect x="760.00" y="515.00" width="5.30" height="5.30" fill="#30dc00"/>
<rect x="765.00" y="515.00" width="10.30" height="5.30" fill="#80e800"/>
<rect x="775.00" y="515.00" width="5.30" height="5.30" fill="#30dc00"/>
<rect x="780.00" y="515.00" width="5.30" height="5.30" fill="#80e800"/>
<rect x="785.00" y="515.00" width="55.30" height="5.30" fill="#00d600"/>
<rect x="840.00" y="515.00" width="10.30" height="5.30" fill="#30dc00"/>
<rect x="850.00" y="515.00" width="5.30" height="5.30" fill="#80e800"/>
<rect x="855.00" y="515.00" width="35.30" height="5.30" fill="#00d600"/>
<rect x="670.00" y="520.00" width="15.30" height="5.30" fill="#b0f000"/>
<rect x="685.00" y="520.00" width="10.30" height="5.30" fill="#d4f800"/>
<rect x="695.00" y="520.00" width="5.30" height="5.30" fill="#80e800"/>
<rect x="700.00" y="520.00" width="15.30" height="5.30" fill="#00d600"/>
<rect x="715.00" y="520.00" width="5.30" height="5.30" fill="#30dc00"/>
<rect x="720.00" y="520.00" width="10.30" height="5.30" fill="#80e800"/>
<rect x="730.00" y="520.00" width="5.30" height="5.30" fill="#30dc00"/>
<rect x="735.00" y="520.00" width="10.30" height="5.30" fill="#80e800"/>
<rect x="745.00" y="520.00" width="15.30" height="5.30" fill="#30dc00"/>
<rect x="760.00" y="520.00" width="15.30" height="5.30" fill="#80e800"/>
<rect x="775.00" y="520.00" width="10.30" height="5.30" fill="#30dc00"/>
<rect x="785.00" y="520.00" width="15.30" height="5.30" fill="#00d600"/>
<rect x="800.00" y="520.00" width="5.30" height="5.30" fill="#00c434"/>
<rect x="805.00" y="520.00" width="30.30" height="5.30" fill="#00d600"/>
<rect x="835.00" y="520.00" width="10.30" height="5.30" fill="#30dc00"/>
<rect x="845.00" y="520.00" width="45.30" height="5.30" fill="#00d600"/>
<rect x="670.00" y="525.00" width="15.30" height="5.30" fill="#b0f000"/>
<rect x="685.00" y="525.00" width="10.30" height="5.30" fill="#d4f800"/>
<rect x="695.00" y="525.00" width="5.30" height="5.30" fill="#80e800"/>
<rect x="700.00" y="525.00" width="15.30" height="5.30" fill="#00d600"/>
<rect x="715.00" y="525.00" width="5.30" height="5.30" fill="#30dc00"/>
<rect x="720.00" y="525.00" width="10.30" height="5.30" fill="#80e800"/>
<rect x="730.00" y="525.00" width="35.30" height="5.30" fill="#30dc00"/>
<rect x="765.00" y="525.00" width="5.30" height="5.30" fill="#80e800"/>
<rect x="770.00" y="525.00" width="5.30" height="5.30" fill="#30dc00"/>
<rect x="775.00" y="525.00" width="5.30" height="5.30" fill="#00d600"/>
<rect x="780.00" y="525.00" width="5.30" height="5.30" fill="#30dc00"/>
<rect x="785.00" y="525.00" width="10.30" height="5.30" fill="#00d600"/>
<rect x="795.00" y="525.00" width="10.30" height="5.30" fill="#00c434"/>
<rect x="805.00" y="525.00" width="85.30" height="5.30" fill="#00d600"/>
<rect x="670.00" y="530.00" width="15.30" height="5.30" fill="#80e800"/>
<rect x="685.00" y="530.00" width="5.30" height="5.30" fill="#d4f800"/>
<rect x="690.00" y="530.00" width="5.30" height="5.30" fill="#b0f000"/>
<rect x="695.00" y="530.00" width="5.30" height="5.30" fill="#80e800"/>
<rect x="700.00" y="530.00" width="5.30" height="5.30" fill="#30dc00"/>
<rect x="705.00" y="530.00" width="5.30" height="5.30" fill="#00d600"/>
<rect x="710.00" y="530.00" width="5.30" height="5.30" fill="#00c434"/>
<rect x="715.00" y="530.00" width="5.30" height="5.30" fill="#30dc00"/>
<rect x="720.00" y="530.00" width="10.30" height="5.30" fill="#80e800"/>
<rect x="730.00" y="530.00" width="5.30" height="5.30" fill="#30dc00"/>
<rect x="735.00" y="530.00" width="20.30" height="5.30" fill="#00d600"/>
<rect x="755.00" y="530.00" width="10.30" height="5.30" fill="#30dc00"/>
<rect x="765.00" y="530.00" width="5.30" height="5.30" fill="#80e800"/>
<rect x="770.00" y="530.00" width="5.30" height="5.30" fill="#30dc00"/>
<rect x="775.00" y="530.00" width="5.30" height="5.30" fill="#00d600"/>
<rect x="780.00" y="530.00" width="5.30" height="5.30" fill="#30dc00"/>
<rect x="785.00" y="530.00" width="105.30" height="5.30" fill="#00d600"/>
<rect x="670.00" y="535.00" width="15.30" height="5.30" fill="#80e800"/>
<rect x="685.00" y="535.00" width="5.30" height="5.30" fill="#b0f000"/>
<rect x="690.00" y="535.00" width="10.30" height="5.30" fill="#80e800"/>
<rect x="700.00" y="535.00" width="5.30" height="5.30" fill="#30dc00"/>
<rect x="705.00" y="535.00" width="5.30" height="5.30" fill="#00d600"/>
<rect x="710.00" y="535.00" width="5.30" height="5.30" fill="#00c434"/>
<rect x="715.00" y="535.00" width="5.30" height="5.30" fill="#00d600"/>
<rect x="720.00" y="535.00" width="10.30" height="5.30" fill="#80e800"/>
<rect x="730.00" y="535.00" width="5.30" height="5.30" fill="#30dc00"/>
<rect x="735.00" y="535.00" width="25.30" height="5.30" fill="#00d600"/>
<rect x="760.00" y="535.00" width="10.30" height="5.30" fill="#30dc00"/>
<rect x="770.00" y="535.00" width="10.30" height="5.30" fill="#00d600"/>
<rect x="780.00" y="535.00" width="5.30" height="5.30" fill="#30dc00"/>
<rect x="785.00" y="535.00" width="105.30" height="5.30" fill="#00d600"/>
<rect x="670.00" y="540.00" width="15.30" height="5.30" fill="#30dc00"/>
<rect x="685.00" y="540.00" width="10.30" height="5.30" fill="#80e800"/>
<rect x="695.00" y="540.00" width="5.30" height="5.30" fill="#30dc00"/>
<rect x="700.00" y="540.00" width="10.30" height="5.30" fill="#00d600"/>
<rect x="710.00" y="540.00" width="5.30" height="5.30" fill="#00c434"/>
<rect x="715.00" y="540.00" width="5.30" height="5.30" fill="#00d600"/>
<rect x="720.00" y="540.00" width="10.30" height="5.30" fill="#80e800"/>
<rect x="730.00" y="540.00" width="15.30" height="5.30" fill="#30dc00"/>
<rect x="745.00" y="540.00" width="15.30" height="5.30" fill="#00d600"/>
<rect x="760.00" y="540.00" width="10.30" height="5.30" fill="#30dc00"/>
<rect x="770.00" y="540.00" width="10.30" height="5.30" fill="#00d600"/>
<rect x="780.00" y="540.00" width="10.30" height="5.30" fill="#30dc00"/>
<rect x="790.00" y="540.00" width="100.30" height="5.30" fill="#00d600"/>
<rect x="670.00" y="545.00" width="20.30" height="5.30" fill="#30dc00"/>
<rect x="690.00" y="545.00" width="5.30" height="5.30" fill="#80e800"/>
<rect x="695.00" y="545.00" width="10.30" height="5.30" fill="#30dc00"/>
<rect x="705.00" y="545.00" width="10.30" height="5.30" fill="#00d600"/>
<rect x="715.00" y="545.00" width="5.30" height="5.30" fill="#30dc00"/>
<rect x="720.00" y="545.00" width="10.30" height="5.30" fill="#80e800"/>
<rect x="730.00" y="545.00" width="15.30" height="5.30" fill="#30dc00"/>
<rect x="745.00" y="545.00" width="35.30" height="5.30" fill="#00d600"/>
<rect x="780.00" y="545.00" width="5.30" height="5.30" fill="#30dc00"/>
<rect x="785.00" y="545.00" width="15.30" height="5.30" fill="#00d600"/>
<rect x="800.00" y="545.00" width="10.30" height="5.30" fill="#30dc00"/>
<rect x="810.00" y="545.00" width="80.30" height="5.30" fill="#00d600"/>
<rect x="670.00" y="550.00" width="20.30" height="5.30" fill="#30dc00"/>
<rect x="690.00" y="550.00" width="10.30" height="5.30" fill="#80e800"/>
<rect x="700.00" y="550.00" width="5.30" height="5.30" fill="#30dc00"/>
<rect x="705.00" y="550.00" width="10.30" height="5.30" fill="#00d600"/>
<rect x="715.00" y="550.00" width="5.30" height="5.30" fill="#30dc00"/>
<rect x="720.00" y="550.00" width="10.30" height="5.30" fill="#80e800"/>
<rect x="730.00" y="550.00" width="5.30" height="5.30" fill="#30dc00"/>
<rect x="735.00" y="550.00" width="5.30" height="5.30" fill="#80e800"/>
<rect x="740.00" y="550.00" width="5.30" height="5.30" fill="#b0f000"/>
<rect x="745.00" y="550.00" width="5.30" height="5.30" fill="#30dc00"/>
<rect x="750.00" y="550.00" width="30.30" height="5.30" fill="#00d600"/>
<rect x="780.00" y="550.00" width="5.30" height="5.30" fill="#30dc00"/>
<rect x="785.00" y="550.00" width="15.30" height="5.30" fill="#00d600"/>
<rect x="800.00" y="550.00" width="10.30" height="5.30" fill="#30dc00"/>
<rect x="810.00" y="550.00" width="80.30" height="5.30" fill="#00d600"/>
<rect x="670.00" y="555.00" width="20.30" height="5.30" fill="#30dc00"/>
<rect x="690.00" y="555.00" width="10.30" height="5.30" fill="#80e800"/>
<rect x="700.00" y="555.00" width="5.30" height="5.30" fill="#30dc00"/>
<rect x="705.00" y="555.00" width="10.30" height="5.30" fill="#00d600"/>
<rect x="715.00" y="555.00" width="5.30" height="5.30" fill="#30dc00"/>
<rect x="720.00" y="555.00" width="10.30" height="5.30" fill="#80e800"/>
<rect x="730.00" y="555.00" width="5.30" height="5.30" fill="#30dc00"/>
<rect x="735.00" y="555.00" width="5.30" height="5.30" fill="#80e800"/>
<rect x="740.00" y="555.00" width="5.30" height="5.30" fill="#b0f000"/>
<rect x="745.00" y="555.00" width="5.30" height="5.30" fill="#30dc00"/>
<rect x="750.00" y="555.00" width="30.30" height="5.30" fill="#00d600"/>
<rect x="780.00" y="555.00" width="5.30" height="5.30" fill="#30dc00"/>
<rect x="785.00" y="555.00" width="15.30" height="5.30" fill="#00d600"/>
<rect x="800.00" y="555.00" width="10.30" height="5.30" fill="#30dc00"/>
<rect x="810.00" y="555.00" width="80.30" height="5.30" fill="#00d600"/>
<rect x="670.00" y="560.00" width="20.30" height="5.30" fill="#30dc00"/>
<rect x="690.00" y="560.00" width="10.30" height="5.30" fill="#80e800"/>
<rect x="700.00" y="560.00" width="5.30" height="5.30" fill="#30dc00"/>
<rect x="705.00" y="560.00" width="10.30" height="5.30" fill="#00d600"/>
<rect x="715.00" y="560.00" width="5.30" height="5.30" fill="#30dc00"/>
<rect x="720.00" y="560.00" width="10.30" height="5.30" fill="#80e800"/>
<rect x="730.00" y="560.00" width="5.30" height="5.30" fill="#30dc00"/>
<rect x="735.00" y="560.00" width="5.30" height="5.30" fill="#80e800"/>
<rect x="740.00" y="560.00" width="5.30" height="5.30" fill="#b0f000"/>
<rect x="745.00" y="560.00" width="5.30" height="5.30" fill="#30dc00"/>
<rect x="750.00" y="560.00" width="30.30" height="5.30" fill="#00d600"/>
<rect x="780.00" y="560.00" width="5.30" height="5.30" fill="#30dc00"/>
<rect x="785.00" y="560.00" width="15.30" height="5.30" fill="#00d600"/>
<rect x="800.00" y="560.00" width="10.30" height="5.30" fill="#30dc00"/>
<rect x="810.00" y="560.00" width="80.30" height="5.30" fill="#00d600"/>
<rect x="670.00" y="565.00" width="20.30" height="5.30" fill="#30dc00"/>
<rect x="690.00" y="565.00" width="10.30" height="5.30" fill="#80e800"/>
<rect x="700.00" y="565.00" width="5.30" height="5.30" fill="#30dc00"/>
<rect x="705.00" y="565.00" width="10.30" height="5.30" fill="#00d600"/>
<rect x="715.00" y="565.00" width="5.30" height="5.30" fill="#30dc00"/>
<rect x="720.00" y="565.00" width="10.30" height="5.30" fill="#80e800"/>
<rect x="730.00" y="565.00" width="5.30" height="5.30" fill="#30dc00"/>
<rect x="735.00" y="565.00" width="5.30" height="5.30" fill="#80e800"/>
<rect x="740.00" y="565.00" width="5.30" height="5.30" fill="#b0f000"/>
<rect x="745.00" y="565.00" width="5.30" height="5.30" fill="#30dc00"/>
<rect x="750.00" y="565.00" width="30.30" height="5.30" fill="#00d600"/>
<rect x="780.00" y="565.00" width="5.30" height="5.30" fill="#30dc00"/>
<rect x="785.00" y="565.00" width="15.30" height="5.30" fill="#00d600"/>
<rect x="800.00" y="565.00" width="10.30" height="5.30" fill="#30dc00"/>
<rect x="810.00" y="565.00" width="80.30" height="5.30" fill="#00d600"/>
</g>
</g>
<polygon points="851.2,522.5 856.0,517.7 860.8,512.9 865.7,511.1 871.7,505.7 875.3,500.9 877.2,497.2 877.2,506.9 872.9,511.1 866.9,515.3 860.8,519.0 854.8,521.4" fill="#7ee600"/>
<polygon points="820.4,556.3 825.9,549.1 833.1,539.5 840.3,532.8 847.6,525.0 854.8,521.4 860.8,519.0 866.9,515.3 872.9,511.1 877.2,506.9 877.2,556.3" fill="#fccb98"/>
<polyline points="820.4,556.3 825.9,549.1 833.1,539.5 840.3,532.8 847.6,525.0 854.8,521.4 860.8,519.0 866.9,515.3 872.9,511.1 877.2,506.9" fill="none" stroke="#000" stroke-width="1.3"/>
<polyline points="820.4,556.3 825.9,549.1 833.1,539.5 840.3,532.8" fill="none" stroke="#000" stroke-width="2.6"/>
<polyline points="851.2,522.5 856.0,517.7 860.8,512.9 865.7,511.1 871.7,505.7 875.3,500.9 877.2,497.2" fill="none" stroke="#000" stroke-width="1"/>
<circle cx="778.7" cy="441" r="5" fill="none" stroke="#000" stroke-width="1.2"/>
<path d="M724.4 325.5v-3M724.4 557.4v3 M798.8 325.5v-3M798.8 557.4v3 M873.5 325.5v-3M873.5 557.4v3 M679.6 329.4h-3M877.5 329.4h3 M679.6 368.1h-3M877.5 368.1h3 M679.6 406.8h-3M877.5 406.8h3 M679.6 445.5h-3M877.5 445.5h3 M679.6 484.2h-3M877.5 484.2h3 M679.6 522.9h-3M877.5 522.9h3" stroke="#000" stroke-width="1.2" fill="none"/>
<rect x="679.6" y="325.5" width="197.9" height="231.9" stroke="#000" stroke-width="1.3" fill="none"/>
<text x="673.5" y="333.1" font-size="12.4" text-anchor="end" font-weight="bold" fill="#000" >-34</text>
<text x="673.5" y="371.8" font-size="12.4" text-anchor="end" font-weight="bold" fill="#000" >-36</text>
<text x="673.5" y="410.5" font-size="12.4" text-anchor="end" font-weight="bold" fill="#000" >-38</text>
<text x="673.5" y="449.2" font-size="12.4" text-anchor="end" font-weight="bold" fill="#000" >-40</text>
<text x="673.5" y="487.9" font-size="12.4" text-anchor="end" font-weight="bold" fill="#000" >-42</text>
<text x="673.5" y="526.6" font-size="12.4" text-anchor="end" font-weight="bold" fill="#000" >-44</text>
<text x="723.6" y="573.3" font-size="12.4" text-anchor="middle" font-weight="bold" fill="#000" >160</text>
<text x="798.0" y="573.3" font-size="12.4" text-anchor="middle" font-weight="bold" fill="#000" >165</text>
<text x="872.7" y="573.3" font-size="12.4" text-anchor="middle" font-weight="bold" fill="#000" >170</text>
<text x="702.8" y="301.7" font-size="12.4" text-anchor="start" font-weight="bold" fill="#000" textLength="93" lengthAdjust="spacingAndGlyphs">Altim. SLA: 0.11</text>
<text x="687.5" y="316.0" font-size="12.4" text-anchor="start" font-weight="bold" fill="#000" textLength="176.4" lengthAdjust="spacingAndGlyphs">Argo h1000: 0.078 h2000: 0.11</text>
<text transform="translate(892.6,546.7) rotate(-90)" font-size="13" font-weight="normal" fill="#000" textLength="173" lengthAdjust="spacingAndGlyphs">©IMOS 13-Dec-2018 15:51:10</text>
</svg></body></html>
